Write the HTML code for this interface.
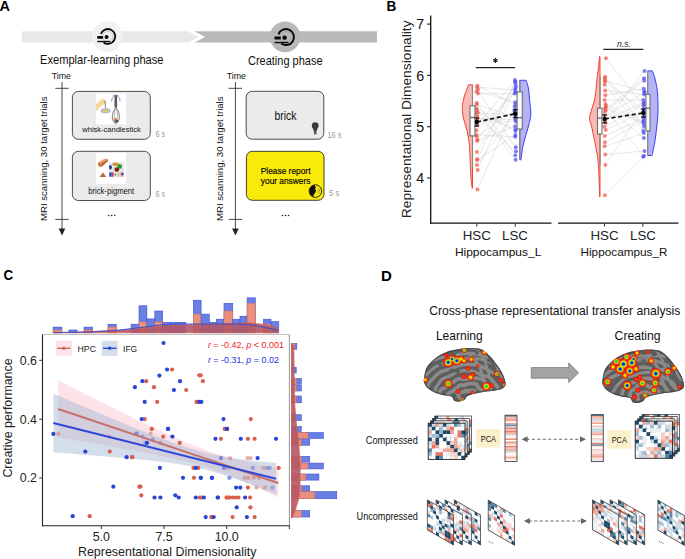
<!DOCTYPE html><html><head><meta charset="utf-8"><style>html,body{margin:0;padding:0;background:#fff;overflow:hidden}svg{display:block;font-family:"Liberation Sans",sans-serif}</style></head><body><svg width="685" height="559" viewBox="0 0 685 559"><rect width="685" height="559" fill="#fff"/><text transform="translate(-0.6,10.9) scale(0.95,1)" font-size="15.3" font-weight="bold" fill="#000">A</text>
<polygon points="22,31.3 187.8,31.3 198.6,36.9 187.8,42.5 22,42.5" fill="#e8e8e8"/>
<polygon points="194.4,31.3 377,31.3 377,42.5 194.4,42.5 205,36.9" fill="#bababa"/>
<circle cx="107.3" cy="36.6" r="15.3" fill="#f1f1f3"/>
<circle cx="285.1" cy="36.8" r="15.4" fill="#b8b8b8"/>
<g transform="translate(107.85,36.45) scale(1.0)">
<path d="M-6.95,-2.54 A7.4,7.4 0 1 1 -4.37,5.97" fill="none" stroke="#0a0a0a" stroke-width="1.85"/>
<circle cx="0" cy="0" r="5.0" fill="none" stroke="#8a8a8a" stroke-width="0.6" stroke-dasharray="1.2,0.7"/>
<rect x="-10.6" y="-0.5" width="5.8" height="2.8" rx="0.5" fill="#0a0a0a"/>
<circle cx="-1.25" cy="0.55" r="2.05" fill="#0a0a0a"/>
<rect x="-10.6" y="4.4" width="12.9" height="1.35" fill="#0a0a0a"/>
</g>
<g transform="translate(285.95,37.05) scale(1.08)">
<path d="M-6.95,-2.54 A7.4,7.4 0 1 1 -4.37,5.97" fill="none" stroke="#0a0a0a" stroke-width="1.85"/>
<circle cx="0" cy="0" r="5.0" fill="none" stroke="#8a8a8a" stroke-width="0.6" stroke-dasharray="1.2,0.7"/>
<rect x="-10.6" y="-0.5" width="5.8" height="2.8" rx="0.5" fill="#0a0a0a"/>
<circle cx="-1.25" cy="0.55" r="2.05" fill="#0a0a0a"/>
<rect x="-10.6" y="4.4" width="12.9" height="1.35" fill="#0a0a0a"/>
</g>
<text x="40" y="64.4" font-size="12.1" fill="#111" text-anchor="start" textLength="123.5" lengthAdjust="spacingAndGlyphs" >Exemplar-learning phase</text>
<text x="248" y="65.1" font-size="12.1" fill="#111" text-anchor="start" textLength="74.5" lengthAdjust="spacingAndGlyphs" >Creating phase</text>
<text x="51.7" y="78.8" font-size="8.3" fill="#111" text-anchor="start" textLength="19.3" lengthAdjust="spacingAndGlyphs" >Time</text>
<line x1="62" y1="82" x2="62" y2="229" stroke="#333" stroke-width="0.9"/>
<line x1="55.3" y1="88.3" x2="68.7" y2="88.3" stroke="#333" stroke-width="0.9"/>
<line x1="55.3" y1="219.4" x2="68.7" y2="219.4" stroke="#333" stroke-width="0.9"/>
<polygon points="58.7,228.6 65.3,228.6 62,235.6" fill="#222"/>
<text transform="translate(47.3,221.0) rotate(-90)" font-size="9.7" fill="#111" textLength="124.5" lengthAdjust="spacingAndGlyphs">MRI scanning, 30 target trials</text>
<circle cx="108.7" cy="215.6" r="0.75" fill="#111"/>
<circle cx="111.7" cy="215.6" r="0.75" fill="#111"/>
<circle cx="114.7" cy="215.6" r="0.75" fill="#111"/>
<text x="226.7" y="78.8" font-size="8.3" fill="#111" text-anchor="start" textLength="19.3" lengthAdjust="spacingAndGlyphs" >Time</text>
<line x1="235.4" y1="82" x2="235.4" y2="229" stroke="#333" stroke-width="0.9"/>
<line x1="228.70000000000002" y1="88.3" x2="242.1" y2="88.3" stroke="#333" stroke-width="0.9"/>
<line x1="228.70000000000002" y1="219.4" x2="242.1" y2="219.4" stroke="#333" stroke-width="0.9"/>
<polygon points="232.1,228.6 238.70000000000002,228.6 235.4,235.6" fill="#222"/>
<text transform="translate(223.1,221.0) rotate(-90)" font-size="9.7" fill="#111" textLength="124.5" lengthAdjust="spacingAndGlyphs">MRI scanning, 30 target trials</text>
<circle cx="282.5" cy="215.6" r="0.75" fill="#111"/>
<circle cx="285.5" cy="215.6" r="0.75" fill="#111"/>
<circle cx="288.5" cy="215.6" r="0.75" fill="#111"/>
<rect x="72.4" y="91.4" width="77.9" height="47.9" rx="6" fill="#ebebeb" stroke="#3a3a3a" stroke-width="0.9"/>
<rect x="72.4" y="151.3" width="77.9" height="49.2" rx="6" fill="#ebebeb" stroke="#3a3a3a" stroke-width="0.9"/>
<rect x="246.2" y="91.3" width="77.6" height="47.9" rx="6" fill="#ebebeb" stroke="#3a3a3a" stroke-width="0.9"/>
<rect x="246.4" y="151.3" width="77.6" height="49.0" rx="6" fill="#f9ea0a" stroke="#2a2a2a" stroke-width="0.9"/>
<rect x="96" y="93.4" width="30" height="31" fill="#fff"/>
<rect x="96" y="152.8" width="30" height="31.2" fill="#fff"/>
<path d="M95.8,104.6 L101.3,99.6 L103.8,98.6 L105.7,100.2 L105.6,103.4 L102.6,104.9 L95.8,111.6 Z" fill="#f1d99c"/>
<line x1="104.9" y1="100.8" x2="105.6" y2="108.6" stroke="#6a6a6a" stroke-width="0.8"/>
<ellipse cx="105.6" cy="110.8" rx="4.8" ry="2.2" fill="#b9c5d2" stroke="#7f90a8" stroke-width="0.4"/>
<ellipse cx="105.1" cy="110.7" rx="2.5" ry="1.15" fill="#efc64a"/>
<circle cx="116.1" cy="117.8" r="6.3" fill="none" stroke="#f3b48a" stroke-width="0.5" stroke-dasharray="0.6,1.1"/>
<rect x="114.5" y="94.8" width="2.6" height="12.8" fill="#5b5b5b"/>
<path d="M114.4,96 Q111.3,97 111.6,101.5 M117.2,96 Q120.4,97 120.1,101.6 M113,95.6 L118.6,95.6" fill="none" stroke="#9a79bf" stroke-width="0.85"/>
<path d="M115.8,107.6 C111.2,113 111,121.5 115.9,123.6 C120.8,121.5 120.6,113 115.8,107.6 Z" fill="#f4f4f4" stroke="#4f4f4f" stroke-width="0.65"/>
<path d="M115.8,107.6 C113.4,113 113.5,121 115.9,123.4 M115.8,107.6 C118.2,113 118.3,121 115.9,123.4" fill="none" stroke="#777" stroke-width="0.45"/>
<ellipse cx="116.3" cy="121" rx="1.8" ry="1.2" fill="#3a3a3a"/>
<ellipse cx="115.6" cy="119.4" rx="1.2" ry="1.3" fill="#e8652e"/>
<text x="111.5" y="132.2" font-size="8.0" fill="#111" text-anchor="middle" textLength="58.4" lengthAdjust="spacingAndGlyphs" >whisk-candlestick</text>
<polygon points="98,162.6 104.6,158.8 108.1,158.9 102,163.1" fill="#eb9c70"/>
<polygon points="98,162.6 102,163.1 101.6,166.9 98.3,166.3" fill="#d4703f"/>
<polygon points="102,163.1 108.1,158.9 107.7,161.2 101.6,166.9" fill="#c25a2e"/>
<polygon points="99.4,177.1 102.9,172.2 106.4,177.1" fill="#c9774b"/>
<polygon points="101.2,177.1 102.9,174.2 104.8,177.1" fill="#a85a34"/>
<rect x="109.2" y="162.3" width="14.7" height="14.4" fill="#e6e2e2"/>
<path d="M109.2,162.3 L113,162.3 Q114,166 111,169 L109.2,169 Z" fill="#dfe8f2"/>
<ellipse cx="115.6" cy="164.2" rx="3.3" ry="1.7" fill="#d9912b"/>
<circle cx="119.7" cy="166.5" r="2.3" fill="#1a9a26"/>
<circle cx="116.8" cy="169.5" r="2.3" fill="#7c1c12"/>
<ellipse cx="110.4" cy="167.3" rx="1.4" ry="2.3" fill="#1b3a92"/>
<rect x="109.2" y="172.4" width="2.6" height="4.3" fill="#3450b4"/>
<rect x="111.8" y="172.4" width="2.0" height="4.3" fill="#c24a44"/>
<rect x="113.8" y="172.4" width="3.2" height="4.3" fill="#e8e8f2"/>
<rect x="117" y="172.4" width="3.4" height="4.3" fill="#e7c9a2"/>
<rect x="120.4" y="172.4" width="3.5" height="4.3" fill="#d9b792"/>
<circle cx="122.3" cy="174" r="1.2" fill="#2444e0"/>
<circle cx="115.3" cy="174.6" r="0.9" fill="#4a5ab0"/>
<text x="111.2" y="194.4" font-size="8.4" fill="#111" text-anchor="middle" textLength="46" lengthAdjust="spacingAndGlyphs" >brick-pigment</text>
<text x="155.4" y="136.9" font-size="8.2" fill="#999" text-anchor="start" textLength="9.6" lengthAdjust="spacingAndGlyphs" >6 s</text>
<text x="155.4" y="196.5" font-size="8.2" fill="#999" text-anchor="start" textLength="9.6" lengthAdjust="spacingAndGlyphs" >6 s</text>
<text x="285.4" y="119.9" font-size="12.4" fill="#111" text-anchor="middle" textLength="22" lengthAdjust="spacingAndGlyphs" >brick</text>
<circle cx="315.2" cy="125.6" r="3.4" fill="#3a3a3a"/>
<path d="M312.6,127.3 L317.8,127.3 L316.6,131 L313.8,131 Z" fill="#3a3a3a"/>
<rect x="313.9" y="130.5" width="2.6" height="3.8" fill="#555"/>
<text x="327.4" y="137.9" font-size="8.2" fill="#999" text-anchor="start" textLength="14" lengthAdjust="spacingAndGlyphs" >16 s</text>
<text x="285.6" y="174.1" font-size="8.8" fill="#000" text-anchor="middle" textLength="49.8" lengthAdjust="spacingAndGlyphs" stroke="#000" stroke-width="0.15">Please report</text>
<text x="285.6" y="183.9" font-size="8.8" fill="#000" text-anchor="middle" textLength="49.5" lengthAdjust="spacingAndGlyphs" stroke="#000" stroke-width="0.15">your answers</text>
<circle cx="315.4" cy="191.1" r="6.3" fill="#f9ea0a" stroke="#111" stroke-width="0.9"/>
<path d="M314.5,185 A6.3,6.3 0 0 0 314.5,197.3 L312.8,197 Q313.5,195 314.6,193.5 L315.5,192.3 L316.2,190.7 L315,189.3 L315.8,187.2 Z" fill="#111"/>
<path d="M317.8,189.2 Q319,191 317.8,193 M318.8,188 Q320.6,191 318.8,194.2" fill="none" stroke="#665" stroke-width="0.4"/>
<text x="328.9" y="196.3" font-size="8.2" fill="#999" text-anchor="start" textLength="10.4" lengthAdjust="spacingAndGlyphs" >5 s</text>
<text transform="translate(386.6,10.9) scale(0.89,1)" font-size="15.3" font-weight="bold" fill="#000">B</text>
<line x1="430.7" y1="15.4" x2="430.7" y2="223.8" stroke="#111" stroke-width="1.3"/>
<line x1="430.1" y1="223.2" x2="551.5" y2="223.2" stroke="#111" stroke-width="1.3"/>
<line x1="558" y1="223.2" x2="678.4" y2="223.2" stroke="#111" stroke-width="1.3"/>
<line x1="427.2" y1="178.0" x2="430.7" y2="178.0" stroke="#222" stroke-width="1.2"/>
<text x="424.2" y="183.2" font-size="14.2" fill="#111" text-anchor="end" >4</text>
<line x1="427.2" y1="126.7" x2="430.7" y2="126.7" stroke="#222" stroke-width="1.2"/>
<text x="424.2" y="131.9" font-size="14.2" fill="#111" text-anchor="end" >5</text>
<line x1="427.2" y1="75.4" x2="430.7" y2="75.4" stroke="#222" stroke-width="1.2"/>
<text x="424.2" y="80.6" font-size="14.2" fill="#111" text-anchor="end" >6</text>
<line x1="427.2" y1="24.1" x2="430.7" y2="24.1" stroke="#222" stroke-width="1.2"/>
<text x="424.2" y="29.3" font-size="14.2" fill="#111" text-anchor="end" >7</text>
<line x1="476.8" y1="223.2" x2="476.8" y2="226.6" stroke="#333" stroke-width="1"/>
<line x1="515.3" y1="223.2" x2="515.3" y2="226.6" stroke="#333" stroke-width="1"/>
<line x1="604.5" y1="223.2" x2="604.5" y2="226.6" stroke="#333" stroke-width="1"/>
<line x1="642.8" y1="223.2" x2="642.8" y2="226.6" stroke="#333" stroke-width="1"/>
<text x="476.8" y="239.8" font-size="13.3" fill="#222" text-anchor="middle" >HSC</text>
<text x="515.0" y="239.8" font-size="13.3" fill="#222" text-anchor="middle" >LSC</text>
<text x="604.5" y="239.8" font-size="13.3" fill="#222" text-anchor="middle" >HSC</text>
<text x="643.0" y="239.8" font-size="13.3" fill="#222" text-anchor="middle" >LSC</text>
<text x="498.1" y="255.6" font-size="11.2" fill="#111" text-anchor="middle" textLength="86.4" lengthAdjust="spacingAndGlyphs" >Hippocampus_L</text>
<text x="624.0" y="255.6" font-size="11.2" fill="#111" text-anchor="middle" textLength="87.0" lengthAdjust="spacingAndGlyphs" >Hippocampus_R</text>
<text transform="translate(411.2,218.2) rotate(-90)" font-size="13.7" fill="#222" textLength="197.8" lengthAdjust="spacingAndGlyphs">Representational Dimensionality</text>
<line x1="475.7" y1="67.6" x2="515.1" y2="67.6" stroke="#222" stroke-width="1.2"/>
<g stroke="#111" stroke-width="1.1" stroke-linecap="round"><line x1="495.40" y1="58.40" x2="495.40" y2="62.40"/><line x1="493.67" y1="59.40" x2="497.13" y2="61.40"/><line x1="493.67" y1="61.40" x2="497.13" y2="59.40"/></g>
<line x1="603.3" y1="49.3" x2="643.3" y2="49.3" stroke="#222" stroke-width="1.2"/>
<text x="624" y="46.8" font-size="9.0" fill="#222" text-anchor="middle" font-style="italic" textLength="13.8" lengthAdjust="spacingAndGlyphs" >n.s.</text>
<path d="M472.5,84.8 L468.6,84.8 C468.12,86.03 466.48,90.02 465.7,92.2 C464.92,94.38 464.45,95.52 463.9,97.9 C463.35,100.28 462.63,104.15 462.4,106.5 C462.17,108.85 462.37,110.25 462.5,112 C462.63,113.75 462.78,115.05 463.2,117 C463.62,118.95 464.33,121.35 465,123.7 C465.67,126.05 466.58,128.52 467.2,131.1 C467.82,133.68 468.32,136.52 468.7,139.2 C469.08,141.88 469.23,143.18 469.5,147.2 C469.77,151.22 470.03,157.93 470.3,163.3 C470.57,168.67 470.78,175.25 471.1,179.4 C471.42,183.55 472.02,186.73 472.2,188.2 L472.5,188.2 Z" fill="#f9b9b4" stroke="#ee4232" stroke-width="1"/>
<path d="M519.8,80.3 L526,80.3 C526.40,81.57 527.82,84.75 528.4,87.9 C528.98,91.05 529.10,94.90 529.5,99.2 C529.90,103.50 530.85,109.67 530.8,113.7 C530.75,117.73 530.00,119.90 529.2,123.4 C528.40,126.90 527.03,130.93 526,134.7 C524.97,138.47 523.82,141.97 523,146 C522.18,150.03 521.52,156.62 521.1,158.9 C520.68,161.18 520.60,159.57 520.5,159.7 L519.8,159.7 Z" fill="#b3b3f5" stroke="#3c3cf0" stroke-width="1"/>
<path d="M600.0,56.6 L599.5,56.6 C599.35,58.33 598.98,63.57 598.6,67 C598.22,70.43 597.80,72.15 597.2,77.2 C596.60,82.25 596.03,91.57 595,97.3 C593.97,103.03 591.92,108.02 591,111.6 C590.08,115.18 589.42,116.40 589.5,118.8 C589.58,121.20 590.68,122.42 591.5,126 C592.32,129.58 593.45,135.53 594.4,140.3 C595.35,145.07 596.48,149.82 597.2,154.6 C597.92,159.38 598.30,161.97 598.7,169 C599.10,176.03 599.45,192.17 599.6,196.8 L600.0,196.8 Z" fill="#f9b9b4" stroke="#ee4232" stroke-width="1"/>
<path d="M647.6,70.9 L652.3,70.9 C652.68,71.95 653.75,73.75 654.6,77.2 C655.45,80.65 656.83,85.87 657.4,91.6 C657.97,97.33 658.10,105.87 658,111.6 C657.90,117.33 657.28,121.22 656.8,126 C656.32,130.78 655.85,135.53 655.1,140.3 C654.35,145.07 652.90,152.07 652.3,154.6 C651.70,157.13 651.63,155.35 651.5,155.5 L647.6,155.5 Z" fill="#b3b3f5" stroke="#3c3cf0" stroke-width="1"/>
<line x1="472.5" y1="84.8" x2="472.5" y2="168.9" stroke="#8a8a8a" stroke-width="1.2"/>
<line x1="519.8" y1="80.3" x2="519.8" y2="159.5" stroke="#8a8a8a" stroke-width="1.2"/>
<line x1="600.0" y1="75.9" x2="600.0" y2="164.9" stroke="#8a8a8a" stroke-width="1.2"/>
<line x1="647.6" y1="71" x2="647.6" y2="155.3" stroke="#8a8a8a" stroke-width="1.2"/>
<line x1="477.2" y1="85.8" x2="515.3" y2="104.4" stroke="#c4c4c4" stroke-width="0.4"/>
<line x1="477.2" y1="87.2" x2="515.3" y2="90" stroke="#c4c4c4" stroke-width="0.4"/>
<line x1="477.2" y1="89.3" x2="515.3" y2="147.2" stroke="#c4c4c4" stroke-width="0.4"/>
<line x1="477.2" y1="91.5" x2="515.3" y2="102.2" stroke="#c4c4c4" stroke-width="0.4"/>
<line x1="477.2" y1="93.6" x2="515.3" y2="93.6" stroke="#c4c4c4" stroke-width="0.4"/>
<line x1="477.2" y1="102.9" x2="515.3" y2="155.3" stroke="#c4c4c4" stroke-width="0.4"/>
<line x1="477.2" y1="104.4" x2="515.3" y2="117" stroke="#c4c4c4" stroke-width="0.4"/>
<line x1="477.2" y1="108.6" x2="515.3" y2="131.1" stroke="#c4c4c4" stroke-width="0.4"/>
<line x1="477.2" y1="110" x2="515.3" y2="159.8" stroke="#c4c4c4" stroke-width="0.4"/>
<line x1="477.2" y1="112.2" x2="515.3" y2="129.5" stroke="#c4c4c4" stroke-width="0.4"/>
<line x1="477.2" y1="113" x2="515.3" y2="115" stroke="#c4c4c4" stroke-width="0.4"/>
<line x1="477.2" y1="116" x2="515.3" y2="151.2" stroke="#c4c4c4" stroke-width="0.4"/>
<line x1="477.2" y1="118.5" x2="515.3" y2="119.8" stroke="#c4c4c4" stroke-width="0.4"/>
<line x1="477.2" y1="121" x2="515.3" y2="121.4" stroke="#c4c4c4" stroke-width="0.4"/>
<line x1="477.2" y1="125" x2="515.3" y2="80" stroke="#c4c4c4" stroke-width="0.4"/>
<line x1="477.2" y1="130.3" x2="515.3" y2="92.2" stroke="#c4c4c4" stroke-width="0.4"/>
<line x1="477.2" y1="135.1" x2="515.3" y2="136.7" stroke="#c4c4c4" stroke-width="0.4"/>
<line x1="477.2" y1="136.7" x2="515.3" y2="109.4" stroke="#c4c4c4" stroke-width="0.4"/>
<line x1="477.2" y1="140" x2="515.3" y2="85.8" stroke="#c4c4c4" stroke-width="0.4"/>
<line x1="477.2" y1="140.8" x2="515.3" y2="126.3" stroke="#c4c4c4" stroke-width="0.4"/>
<line x1="477.2" y1="152" x2="515.3" y2="83" stroke="#c4c4c4" stroke-width="0.4"/>
<line x1="477.2" y1="159.3" x2="515.3" y2="81.5" stroke="#c4c4c4" stroke-width="0.4"/>
<line x1="477.2" y1="160" x2="515.3" y2="135.1" stroke="#c4c4c4" stroke-width="0.4"/>
<line x1="477.2" y1="165" x2="515.3" y2="111.5" stroke="#c4c4c4" stroke-width="0.4"/>
<line x1="477.2" y1="170" x2="515.3" y2="88" stroke="#c4c4c4" stroke-width="0.4"/>
<line x1="477.2" y1="189.4" x2="515.3" y2="106.5" stroke="#c4c4c4" stroke-width="0.4"/>
<circle cx="477.3" cy="85.8" r="2.0" fill="#f0544a" fill-opacity="0.7"/>
<circle cx="477.0" cy="87.2" r="2.0" fill="#f0544a" fill-opacity="0.7"/>
<circle cx="478.0" cy="89.3" r="2.0" fill="#f0544a" fill-opacity="0.7"/>
<circle cx="476.5" cy="91.5" r="2.0" fill="#f0544a" fill-opacity="0.7"/>
<circle cx="477.8" cy="93.6" r="2.0" fill="#f0544a" fill-opacity="0.7"/>
<circle cx="476.9" cy="102.9" r="2.0" fill="#f0544a" fill-opacity="0.7"/>
<circle cx="476.6" cy="104.4" r="2.0" fill="#f0544a" fill-opacity="0.7"/>
<circle cx="476.6" cy="108.6" r="2.0" fill="#f0544a" fill-opacity="0.7"/>
<circle cx="476.9" cy="110" r="2.0" fill="#f0544a" fill-opacity="0.7"/>
<circle cx="477.7" cy="112.2" r="2.0" fill="#f0544a" fill-opacity="0.7"/>
<circle cx="476.7" cy="113" r="2.0" fill="#f0544a" fill-opacity="0.7"/>
<circle cx="477.3" cy="116" r="2.0" fill="#f0544a" fill-opacity="0.7"/>
<circle cx="477.4" cy="118.5" r="2.0" fill="#f0544a" fill-opacity="0.7"/>
<circle cx="477.0" cy="121" r="2.0" fill="#f0544a" fill-opacity="0.7"/>
<circle cx="477.3" cy="125" r="2.0" fill="#f0544a" fill-opacity="0.7"/>
<circle cx="476.5" cy="130.3" r="2.0" fill="#f0544a" fill-opacity="0.7"/>
<circle cx="476.5" cy="135.1" r="2.0" fill="#f0544a" fill-opacity="0.7"/>
<circle cx="476.7" cy="136.7" r="2.0" fill="#f0544a" fill-opacity="0.7"/>
<circle cx="477.5" cy="140" r="2.0" fill="#f0544a" fill-opacity="0.7"/>
<circle cx="477.1" cy="140.8" r="2.0" fill="#f0544a" fill-opacity="0.7"/>
<circle cx="476.9" cy="152" r="2.0" fill="#f0544a" fill-opacity="0.7"/>
<circle cx="477.3" cy="159.3" r="2.0" fill="#f0544a" fill-opacity="0.7"/>
<circle cx="477.1" cy="160" r="2.0" fill="#f0544a" fill-opacity="0.7"/>
<circle cx="476.9" cy="165" r="2.0" fill="#f0544a" fill-opacity="0.7"/>
<circle cx="477.7" cy="170" r="2.0" fill="#f0544a" fill-opacity="0.7"/>
<circle cx="477.5" cy="189.4" r="2.0" fill="#f0544a" fill-opacity="0.7"/>
<circle cx="514.9" cy="80" r="2.0" fill="#4a4af0" fill-opacity="0.7"/>
<circle cx="515.4" cy="81.5" r="2.0" fill="#4a4af0" fill-opacity="0.7"/>
<circle cx="515.3" cy="83" r="2.0" fill="#4a4af0" fill-opacity="0.7"/>
<circle cx="515.9" cy="85.8" r="2.0" fill="#4a4af0" fill-opacity="0.7"/>
<circle cx="515.7" cy="88" r="2.0" fill="#4a4af0" fill-opacity="0.7"/>
<circle cx="515.0" cy="90" r="2.0" fill="#4a4af0" fill-opacity="0.7"/>
<circle cx="516.1" cy="92.2" r="2.0" fill="#4a4af0" fill-opacity="0.7"/>
<circle cx="514.7" cy="93.6" r="2.0" fill="#4a4af0" fill-opacity="0.7"/>
<circle cx="515.2" cy="102.2" r="2.0" fill="#4a4af0" fill-opacity="0.7"/>
<circle cx="515.7" cy="104.4" r="2.0" fill="#4a4af0" fill-opacity="0.7"/>
<circle cx="514.7" cy="106.5" r="2.0" fill="#4a4af0" fill-opacity="0.7"/>
<circle cx="515.3" cy="109.4" r="2.0" fill="#4a4af0" fill-opacity="0.7"/>
<circle cx="514.6" cy="111.5" r="2.0" fill="#4a4af0" fill-opacity="0.7"/>
<circle cx="515.6" cy="115" r="2.0" fill="#4a4af0" fill-opacity="0.7"/>
<circle cx="515.7" cy="117" r="2.0" fill="#4a4af0" fill-opacity="0.7"/>
<circle cx="515.4" cy="119.8" r="2.0" fill="#4a4af0" fill-opacity="0.7"/>
<circle cx="515.9" cy="121.4" r="2.0" fill="#4a4af0" fill-opacity="0.7"/>
<circle cx="515.0" cy="126.3" r="2.0" fill="#4a4af0" fill-opacity="0.7"/>
<circle cx="515.6" cy="129.5" r="2.0" fill="#4a4af0" fill-opacity="0.7"/>
<circle cx="515.5" cy="131.1" r="2.0" fill="#4a4af0" fill-opacity="0.7"/>
<circle cx="515.4" cy="135.1" r="2.0" fill="#4a4af0" fill-opacity="0.7"/>
<circle cx="515.2" cy="136.7" r="2.0" fill="#4a4af0" fill-opacity="0.7"/>
<circle cx="515.8" cy="147.2" r="2.0" fill="#4a4af0" fill-opacity="0.7"/>
<circle cx="516.0" cy="151.2" r="2.0" fill="#4a4af0" fill-opacity="0.7"/>
<circle cx="515.3" cy="155.3" r="2.0" fill="#4a4af0" fill-opacity="0.7"/>
<circle cx="515.6" cy="159.8" r="2.0" fill="#4a4af0" fill-opacity="0.7"/>
<line x1="605.2" y1="58.2" x2="643.8" y2="105.7" stroke="#c4c4c4" stroke-width="0.4"/>
<line x1="605.2" y1="76.7" x2="643.8" y2="116.5" stroke="#c4c4c4" stroke-width="0.4"/>
<line x1="605.2" y1="78.3" x2="643.8" y2="126.8" stroke="#c4c4c4" stroke-width="0.4"/>
<line x1="605.2" y1="80.7" x2="643.8" y2="91.2" stroke="#c4c4c4" stroke-width="0.4"/>
<line x1="605.2" y1="81.5" x2="643.8" y2="110.5" stroke="#c4c4c4" stroke-width="0.4"/>
<line x1="605.2" y1="84.7" x2="643.8" y2="130.9" stroke="#c4c4c4" stroke-width="0.4"/>
<line x1="605.2" y1="90.4" x2="643.8" y2="94.4" stroke="#c4c4c4" stroke-width="0.4"/>
<line x1="605.2" y1="95.2" x2="643.8" y2="88.8" stroke="#c4c4c4" stroke-width="0.4"/>
<line x1="605.2" y1="104" x2="643.8" y2="122" stroke="#c4c4c4" stroke-width="0.4"/>
<line x1="605.2" y1="105.7" x2="643.8" y2="138.1" stroke="#c4c4c4" stroke-width="0.4"/>
<line x1="605.2" y1="107.3" x2="643.8" y2="124" stroke="#c4c4c4" stroke-width="0.4"/>
<line x1="605.2" y1="108.9" x2="643.8" y2="156" stroke="#c4c4c4" stroke-width="0.4"/>
<line x1="605.2" y1="112" x2="643.8" y2="80.7" stroke="#c4c4c4" stroke-width="0.4"/>
<line x1="605.2" y1="116" x2="643.8" y2="92.8" stroke="#c4c4c4" stroke-width="0.4"/>
<line x1="605.2" y1="120" x2="643.8" y2="102.5" stroke="#c4c4c4" stroke-width="0.4"/>
<line x1="605.2" y1="122.7" x2="643.8" y2="71" stroke="#c4c4c4" stroke-width="0.4"/>
<line x1="605.2" y1="126.8" x2="643.8" y2="104.1" stroke="#c4c4c4" stroke-width="0.4"/>
<line x1="605.2" y1="129.9" x2="643.8" y2="112" stroke="#c4c4c4" stroke-width="0.4"/>
<line x1="605.2" y1="136" x2="643.8" y2="118" stroke="#c4c4c4" stroke-width="0.4"/>
<line x1="605.2" y1="142.2" x2="643.8" y2="120.6" stroke="#c4c4c4" stroke-width="0.4"/>
<line x1="605.2" y1="146.3" x2="643.8" y2="133" stroke="#c4c4c4" stroke-width="0.4"/>
<line x1="605.2" y1="154.6" x2="643.8" y2="151" stroke="#c4c4c4" stroke-width="0.4"/>
<line x1="605.2" y1="164.9" x2="643.8" y2="108.9" stroke="#c4c4c4" stroke-width="0.4"/>
<line x1="605.2" y1="195.3" x2="643.8" y2="156.8" stroke="#c4c4c4" stroke-width="0.4"/>
<line x1="605.2" y1="100" x2="643.8" y2="100" stroke="#c4c4c4" stroke-width="0.4"/>
<line x1="605.2" y1="110" x2="643.8" y2="78.3" stroke="#c4c4c4" stroke-width="0.4"/>
<circle cx="605.9" cy="58.2" r="2.0" fill="#f0544a" fill-opacity="0.7"/>
<circle cx="605.2" cy="76.7" r="2.0" fill="#f0544a" fill-opacity="0.7"/>
<circle cx="604.7" cy="78.3" r="2.0" fill="#f0544a" fill-opacity="0.7"/>
<circle cx="605.0" cy="80.7" r="2.0" fill="#f0544a" fill-opacity="0.7"/>
<circle cx="604.8" cy="81.5" r="2.0" fill="#f0544a" fill-opacity="0.7"/>
<circle cx="604.6" cy="84.7" r="2.0" fill="#f0544a" fill-opacity="0.7"/>
<circle cx="605.1" cy="90.4" r="2.0" fill="#f0544a" fill-opacity="0.7"/>
<circle cx="605.3" cy="95.2" r="2.0" fill="#f0544a" fill-opacity="0.7"/>
<circle cx="605.5" cy="104" r="2.0" fill="#f0544a" fill-opacity="0.7"/>
<circle cx="606.0" cy="105.7" r="2.0" fill="#f0544a" fill-opacity="0.7"/>
<circle cx="605.5" cy="107.3" r="2.0" fill="#f0544a" fill-opacity="0.7"/>
<circle cx="605.0" cy="108.9" r="2.0" fill="#f0544a" fill-opacity="0.7"/>
<circle cx="604.8" cy="112" r="2.0" fill="#f0544a" fill-opacity="0.7"/>
<circle cx="604.5" cy="116" r="2.0" fill="#f0544a" fill-opacity="0.7"/>
<circle cx="604.6" cy="120" r="2.0" fill="#f0544a" fill-opacity="0.7"/>
<circle cx="605.5" cy="122.7" r="2.0" fill="#f0544a" fill-opacity="0.7"/>
<circle cx="604.4" cy="126.8" r="2.0" fill="#f0544a" fill-opacity="0.7"/>
<circle cx="605.7" cy="129.9" r="2.0" fill="#f0544a" fill-opacity="0.7"/>
<circle cx="604.7" cy="136" r="2.0" fill="#f0544a" fill-opacity="0.7"/>
<circle cx="604.9" cy="142.2" r="2.0" fill="#f0544a" fill-opacity="0.7"/>
<circle cx="604.6" cy="146.3" r="2.0" fill="#f0544a" fill-opacity="0.7"/>
<circle cx="605.3" cy="154.6" r="2.0" fill="#f0544a" fill-opacity="0.7"/>
<circle cx="605.4" cy="164.9" r="2.0" fill="#f0544a" fill-opacity="0.7"/>
<circle cx="604.9" cy="195.3" r="2.0" fill="#f0544a" fill-opacity="0.7"/>
<circle cx="604.6" cy="100" r="2.0" fill="#f0544a" fill-opacity="0.7"/>
<circle cx="605.8" cy="110" r="2.0" fill="#f0544a" fill-opacity="0.7"/>
<circle cx="644.5" cy="71" r="2.0" fill="#4a4af0" fill-opacity="0.7"/>
<circle cx="644.0" cy="78.3" r="2.0" fill="#4a4af0" fill-opacity="0.7"/>
<circle cx="644.2" cy="80.7" r="2.0" fill="#4a4af0" fill-opacity="0.7"/>
<circle cx="643.7" cy="88.8" r="2.0" fill="#4a4af0" fill-opacity="0.7"/>
<circle cx="644.4" cy="91.2" r="2.0" fill="#4a4af0" fill-opacity="0.7"/>
<circle cx="644.5" cy="92.8" r="2.0" fill="#4a4af0" fill-opacity="0.7"/>
<circle cx="644.1" cy="94.4" r="2.0" fill="#4a4af0" fill-opacity="0.7"/>
<circle cx="643.9" cy="102.5" r="2.0" fill="#4a4af0" fill-opacity="0.7"/>
<circle cx="643.6" cy="105.7" r="2.0" fill="#4a4af0" fill-opacity="0.7"/>
<circle cx="643.6" cy="108.9" r="2.0" fill="#4a4af0" fill-opacity="0.7"/>
<circle cx="643.8" cy="110.5" r="2.0" fill="#4a4af0" fill-opacity="0.7"/>
<circle cx="643.6" cy="104.1" r="2.0" fill="#4a4af0" fill-opacity="0.7"/>
<circle cx="643.3" cy="112" r="2.0" fill="#4a4af0" fill-opacity="0.7"/>
<circle cx="644.6" cy="116.5" r="2.0" fill="#4a4af0" fill-opacity="0.7"/>
<circle cx="643.7" cy="120.6" r="2.0" fill="#4a4af0" fill-opacity="0.7"/>
<circle cx="643.2" cy="122" r="2.0" fill="#4a4af0" fill-opacity="0.7"/>
<circle cx="644.0" cy="126.8" r="2.0" fill="#4a4af0" fill-opacity="0.7"/>
<circle cx="643.2" cy="130.9" r="2.0" fill="#4a4af0" fill-opacity="0.7"/>
<circle cx="643.9" cy="133" r="2.0" fill="#4a4af0" fill-opacity="0.7"/>
<circle cx="643.9" cy="138.1" r="2.0" fill="#4a4af0" fill-opacity="0.7"/>
<circle cx="644.5" cy="151" r="2.0" fill="#4a4af0" fill-opacity="0.7"/>
<circle cx="644.0" cy="156" r="2.0" fill="#4a4af0" fill-opacity="0.7"/>
<circle cx="643.1" cy="156.8" r="2.0" fill="#4a4af0" fill-opacity="0.7"/>
<circle cx="643.3" cy="100" r="2.0" fill="#4a4af0" fill-opacity="0.7"/>
<circle cx="643.6" cy="118" r="2.0" fill="#4a4af0" fill-opacity="0.7"/>
<circle cx="644.0" cy="124" r="2.0" fill="#4a4af0" fill-opacity="0.7"/>
<rect x="470" y="105.8" width="5.0" height="30.1" fill="#fff" stroke="#6e6e6e" stroke-width="1.1"/>
<line x1="470" y1="117.5" x2="475" y2="117.5" stroke="#6e6e6e" stroke-width="1.4"/>
<rect x="517.1" y="91.9" width="5.2" height="37.1" fill="#fff" stroke="#6e6e6e" stroke-width="1.1"/>
<line x1="517.1" y1="117.7" x2="522.3" y2="117.7" stroke="#6e6e6e" stroke-width="1.4"/>
<rect x="597.5" y="108.2" width="4.5" height="25.8" fill="#fff" stroke="#6e6e6e" stroke-width="1.1"/>
<line x1="597.5" y1="118.1" x2="602" y2="118.1" stroke="#6e6e6e" stroke-width="1.4"/>
<rect x="645.9" y="94.4" width="4.1" height="36.5" fill="#fff" stroke="#6e6e6e" stroke-width="1.1"/>
<line x1="645.9" y1="108.2" x2="650" y2="108.2" stroke="#6e6e6e" stroke-width="1.4"/>
<line x1="476.8" y1="122" x2="515.2" y2="113.7" stroke="#111" stroke-width="1.7" stroke-dasharray="4.2,2.6"/>
<line x1="474.40000000000003" y1="118" x2="479.2" y2="118" stroke="#111" stroke-width="1.2"/>
<line x1="474.40000000000003" y1="126" x2="479.2" y2="126" stroke="#111" stroke-width="1.2"/>
<line x1="476.8" y1="118" x2="476.8" y2="126" stroke="#111" stroke-width="1"/>
<circle cx="476.8" cy="122" r="2.2" fill="#000"/>
<line x1="512.8000000000001" y1="109.7" x2="517.6" y2="109.7" stroke="#111" stroke-width="1.2"/>
<line x1="512.8000000000001" y1="117.7" x2="517.6" y2="117.7" stroke="#111" stroke-width="1.2"/>
<line x1="515.2" y1="109.7" x2="515.2" y2="117.7" stroke="#111" stroke-width="1"/>
<circle cx="515.2" cy="113.7" r="2.2" fill="#000"/>
<line x1="604.7" y1="118.9" x2="643.4" y2="113" stroke="#111" stroke-width="1.7" stroke-dasharray="4.2,2.6"/>
<line x1="602.3000000000001" y1="114.9" x2="607.1" y2="114.9" stroke="#111" stroke-width="1.2"/>
<line x1="602.3000000000001" y1="122.9" x2="607.1" y2="122.9" stroke="#111" stroke-width="1.2"/>
<line x1="604.7" y1="114.9" x2="604.7" y2="122.9" stroke="#111" stroke-width="1"/>
<circle cx="604.7" cy="118.9" r="2.2" fill="#000"/>
<line x1="641.0" y1="109" x2="645.8" y2="109" stroke="#111" stroke-width="1.2"/>
<line x1="641.0" y1="117" x2="645.8" y2="117" stroke="#111" stroke-width="1.2"/>
<line x1="643.4" y1="109" x2="643.4" y2="117" stroke="#111" stroke-width="1"/>
<circle cx="643.4" cy="113" r="2.2" fill="#000"/>
<text transform="translate(3.6,280.4) scale(0.875,1)" font-size="15.3" font-weight="bold" fill="#000">C</text>
<path d="M58.2,380.5 L63.7,383.3 L69.2,386.1 L74.7,388.8 L80.2,391.6 L85.8,394.4 L91.3,397.1 L96.8,399.9 L102.3,402.6 L107.8,405.4 L113.3,408.1 L118.8,410.8 L124.3,413.5 L129.8,416.2 L135.3,418.9 L140.9,421.6 L146.4,424.2 L151.9,426.9 L157.4,429.5 L162.9,432.0 L168.4,434.6 L173.9,437.1 L179.4,439.5 L184.9,441.9 L190.4,444.1 L196.0,446.4 L201.5,448.5 L207.0,450.5 L212.5,452.4 L218.0,454.2 L223.5,455.8 L229.0,457.4 L234.5,458.9 L240.0,460.3 L245.5,461.6 L251.1,462.9 L256.6,464.1 L262.1,465.3 L267.6,466.4 L273.1,467.5 L278.6,468.6 L278.6,497.6 L273.1,495.0 L267.6,492.4 L262.1,489.8 L256.6,487.3 L251.1,484.8 L245.5,482.4 L240.0,480.0 L234.5,477.7 L229.0,475.4 L223.5,473.3 L218.0,471.3 L212.5,469.4 L207.0,467.6 L201.5,465.9 L196.0,464.3 L190.4,462.8 L184.9,461.4 L179.4,460.0 L173.9,458.8 L168.4,457.5 L162.9,456.4 L157.4,455.2 L151.9,454.1 L146.4,453.0 L140.9,452.0 L135.3,450.9 L129.8,449.9 L124.3,448.9 L118.8,447.9 L113.3,446.9 L107.8,446.0 L102.3,445.0 L96.8,444.1 L91.3,443.1 L85.8,442.2 L80.2,441.2 L74.7,440.3 L69.2,439.4 L63.7,438.4 L58.2,437.5 Z" fill="#fbb9c6" fill-opacity="0.42"/>
<path d="M53.5,393.7 L59.1,396.1 L64.6,398.5 L70.2,400.8 L75.8,403.2 L81.3,405.6 L86.9,407.9 L92.5,410.3 L98.0,412.6 L103.6,415.0 L109.2,417.3 L114.7,419.6 L120.3,421.9 L125.9,424.2 L131.4,426.5 L137.0,428.8 L142.6,431.0 L148.1,433.2 L153.7,435.4 L159.3,437.5 L164.8,439.6 L170.4,441.7 L176.0,443.7 L181.6,445.6 L187.1,447.4 L192.7,449.1 L198.3,450.7 L203.8,452.2 L209.4,453.6 L215.0,454.8 L220.5,455.9 L226.1,456.9 L231.7,457.9 L237.2,458.7 L242.8,459.5 L248.4,460.2 L253.9,460.8 L259.5,461.5 L265.1,462.0 L270.6,462.6 L276.2,463.1 L276.2,494.6 L270.6,492.3 L265.1,490.1 L259.5,487.9 L253.9,485.7 L248.4,483.6 L242.8,481.5 L237.2,479.5 L231.7,477.5 L226.1,475.7 L220.5,473.9 L215.0,472.2 L209.4,470.6 L203.8,469.2 L198.3,467.9 L192.7,466.7 L187.1,465.7 L181.6,464.7 L176.0,463.8 L170.4,463.0 L164.8,462.3 L159.3,461.6 L153.7,460.9 L148.1,460.3 L142.6,459.7 L137.0,459.2 L131.4,458.7 L125.9,458.1 L120.3,457.7 L114.7,457.2 L109.2,456.7 L103.6,456.2 L98.0,455.8 L92.5,455.4 L86.9,454.9 L81.3,454.5 L75.8,454.1 L70.2,453.6 L64.6,453.2 L59.1,452.8 L53.5,452.4 Z" fill="#9fb5d3" fill-opacity="0.45"/>
<circle cx="58.2" cy="433.9" r="2.1" fill="#d4776c" fill-opacity="0.55"/>
<circle cx="109.4" cy="436.6" r="2.1" fill="#d4776c" fill-opacity="0.55"/>
<circle cx="150.6" cy="433.6" r="2.1" fill="#d4776c" fill-opacity="0.55"/>
<circle cx="160.4" cy="442.9" r="2.1" fill="#d4776c" fill-opacity="0.55"/>
<circle cx="151.9" cy="428.9" r="2.1" fill="#d4776c" fill-opacity="0.55"/>
<circle cx="230.1" cy="458.1" r="2.1" fill="#d4776c" fill-opacity="0.55"/>
<circle cx="247.4" cy="458.1" r="2.1" fill="#d4776c" fill-opacity="0.55"/>
<circle cx="250.6" cy="458.1" r="2.1" fill="#d4776c" fill-opacity="0.55"/>
<circle cx="228.3" cy="467.9" r="2.1" fill="#d4776c" fill-opacity="0.55"/>
<circle cx="263.5" cy="467.9" r="2.1" fill="#d4776c" fill-opacity="0.55"/>
<circle cx="244.7" cy="477.8" r="2.1" fill="#d4776c" fill-opacity="0.55"/>
<circle cx="248.3" cy="477.8" r="2.1" fill="#d4776c" fill-opacity="0.55"/>
<circle cx="253.7" cy="477.8" r="2.1" fill="#d4776c" fill-opacity="0.55"/>
<circle cx="259" cy="477.8" r="2.1" fill="#d4776c" fill-opacity="0.55"/>
<circle cx="256.4" cy="487.6" r="2.1" fill="#d4776c" fill-opacity="0.55"/>
<circle cx="264.8" cy="487.6" r="2.1" fill="#d4776c" fill-opacity="0.55"/>
<circle cx="136.6" cy="433.6" r="2.1" fill="#5a6fd8" fill-opacity="0.5"/>
<circle cx="136.3" cy="433.6" r="2.1" fill="#5a6fd8" fill-opacity="0.5"/>
<circle cx="142.5" cy="436.6" r="2.1" fill="#5a6fd8" fill-opacity="0.5"/>
<circle cx="152.7" cy="439.3" r="2.1" fill="#5a6fd8" fill-opacity="0.5"/>
<circle cx="145.2" cy="442.9" r="2.1" fill="#5a6fd8" fill-opacity="0.5"/>
<circle cx="220.9" cy="458.1" r="2.1" fill="#5a6fd8" fill-opacity="0.5"/>
<circle cx="223.9" cy="467.9" r="2.1" fill="#5a6fd8" fill-opacity="0.5"/>
<circle cx="229.3" cy="477.8" r="2.1" fill="#5a6fd8" fill-opacity="0.5"/>
<circle cx="221.1" cy="458.1" r="2.1" fill="#5a6fd8" fill-opacity="0.5"/>
<circle cx="224.2" cy="467.9" r="2.1" fill="#5a6fd8" fill-opacity="0.5"/>
<circle cx="252.8" cy="467.9" r="2.1" fill="#5a6fd8" fill-opacity="0.5"/>
<circle cx="267.1" cy="467.9" r="2.1" fill="#5a6fd8" fill-opacity="0.5"/>
<circle cx="269.8" cy="467.9" r="2.1" fill="#5a6fd8" fill-opacity="0.5"/>
<circle cx="229.5" cy="477.8" r="2.1" fill="#5a6fd8" fill-opacity="0.5"/>
<circle cx="272.5" cy="487.6" r="2.1" fill="#5a6fd8" fill-opacity="0.5"/>
<circle cx="172.1" cy="369.5" r="2.1" fill="#d9604d"/>
<circle cx="146.2" cy="381.2" r="2.1" fill="#d9604d"/>
<circle cx="154" cy="387.2" r="2.1" fill="#d9604d"/>
<circle cx="186.2" cy="390.1" r="2.1" fill="#d9604d"/>
<circle cx="157.2" cy="401.9" r="2.1" fill="#d9604d"/>
<circle cx="196.6" cy="401.9" r="2.1" fill="#d9604d"/>
<circle cx="144.7" cy="419.1" r="2.1" fill="#d9604d"/>
<circle cx="199.3" cy="375.3" r="2.1" fill="#d9604d"/>
<circle cx="200.7" cy="375.3" r="2.1" fill="#d9604d"/>
<circle cx="202.9" cy="381.2" r="2.1" fill="#d9604d"/>
<circle cx="196.8" cy="401.9" r="2.1" fill="#d9604d"/>
<circle cx="250.8" cy="419.1" r="2.1" fill="#d9604d"/>
<circle cx="224.9" cy="428.9" r="2.1" fill="#d9604d"/>
<circle cx="109.8" cy="451.5" r="2.1" fill="#d9604d"/>
<circle cx="132.3" cy="457.2" r="2.1" fill="#d9604d"/>
<circle cx="139.3" cy="486.7" r="2.1" fill="#d9604d"/>
<circle cx="89.7" cy="516.2" r="2.1" fill="#d9604d"/>
<circle cx="151.8" cy="428.9" r="2.1" fill="#d9604d"/>
<circle cx="163.1" cy="436.6" r="2.1" fill="#d9604d"/>
<circle cx="179.7" cy="442.9" r="2.1" fill="#d9604d"/>
<circle cx="220.9" cy="438.8" r="2.1" fill="#d9604d"/>
<circle cx="224.8" cy="428.9" r="2.1" fill="#d9604d"/>
<circle cx="132.1" cy="457.2" r="2.1" fill="#d9604d"/>
<circle cx="193.5" cy="467.9" r="2.1" fill="#d9604d"/>
<circle cx="198.3" cy="467.9" r="2.1" fill="#d9604d"/>
<circle cx="194" cy="477.8" r="2.1" fill="#d9604d"/>
<circle cx="140.4" cy="486.7" r="2.1" fill="#d9604d"/>
<circle cx="141.3" cy="495.3" r="2.1" fill="#d9604d"/>
<circle cx="199.8" cy="497.5" r="2.1" fill="#d9604d"/>
<circle cx="201.6" cy="497.5" r="2.1" fill="#d9604d"/>
<circle cx="226.6" cy="497.5" r="2.1" fill="#d9604d"/>
<circle cx="229.3" cy="497.5" r="2.1" fill="#d9604d"/>
<circle cx="211.4" cy="517.1" r="2.1" fill="#d9604d"/>
<circle cx="247.9" cy="438.8" r="2.1" fill="#d9604d"/>
<circle cx="254.6" cy="438.8" r="2.1" fill="#d9604d"/>
<circle cx="278.7" cy="467.9" r="2.1" fill="#d9604d"/>
<circle cx="247.9" cy="487.6" r="2.1" fill="#d9604d"/>
<circle cx="226.8" cy="497.5" r="2.1" fill="#d9604d"/>
<circle cx="229.5" cy="497.5" r="2.1" fill="#d9604d"/>
<circle cx="232.6" cy="497.5" r="2.1" fill="#d9604d"/>
<circle cx="235.8" cy="497.5" r="2.1" fill="#d9604d"/>
<circle cx="238.5" cy="497.5" r="2.1" fill="#d9604d"/>
<circle cx="250.1" cy="497.5" r="2.1" fill="#d9604d"/>
<circle cx="250.4" cy="507.3" r="2.1" fill="#d9604d"/>
<circle cx="211.6" cy="517.1" r="2.1" fill="#d9604d"/>
<circle cx="232.6" cy="517.1" r="2.1" fill="#d9604d"/>
<circle cx="254.6" cy="517.1" r="2.1" fill="#d9604d"/>
<circle cx="163.5" cy="343" r="2.1" fill="#2a45d6"/>
<circle cx="167.1" cy="369.5" r="2.1" fill="#2a45d6"/>
<circle cx="159.4" cy="375.6" r="2.1" fill="#2a45d6"/>
<circle cx="142.4" cy="381.2" r="2.1" fill="#2a45d6"/>
<circle cx="180" cy="381.2" r="2.1" fill="#2a45d6"/>
<circle cx="134.9" cy="387.2" r="2.1" fill="#2a45d6"/>
<circle cx="173.9" cy="390.1" r="2.1" fill="#2a45d6"/>
<circle cx="144.7" cy="401.9" r="2.1" fill="#2a45d6"/>
<circle cx="141.7" cy="419.1" r="2.1" fill="#2a45d6"/>
<circle cx="168" cy="428.9" r="2.1" fill="#2a45d6"/>
<circle cx="199.3" cy="401.9" r="2.1" fill="#2a45d6"/>
<circle cx="201.3" cy="401.9" r="2.1" fill="#2a45d6"/>
<circle cx="223.5" cy="419.1" r="2.1" fill="#2a45d6"/>
<circle cx="227" cy="428.9" r="2.1" fill="#2a45d6"/>
<circle cx="53.4" cy="433.9" r="2.1" fill="#2a45d6"/>
<circle cx="85.3" cy="451.5" r="2.1" fill="#2a45d6"/>
<circle cx="126.6" cy="457.2" r="2.1" fill="#2a45d6"/>
<circle cx="113.3" cy="486.7" r="2.1" fill="#2a45d6"/>
<circle cx="72.7" cy="516.2" r="2.1" fill="#2a45d6"/>
<circle cx="168.1" cy="428.9" r="2.1" fill="#2a45d6"/>
<circle cx="172.4" cy="436.6" r="2.1" fill="#2a45d6"/>
<circle cx="147" cy="442.9" r="2.1" fill="#2a45d6"/>
<circle cx="215.5" cy="438.8" r="2.1" fill="#2a45d6"/>
<circle cx="227.1" cy="428.9" r="2.1" fill="#2a45d6"/>
<circle cx="159.9" cy="467.9" r="2.1" fill="#2a45d6"/>
<circle cx="195.8" cy="467.9" r="2.1" fill="#2a45d6"/>
<circle cx="183" cy="477.8" r="2.1" fill="#2a45d6"/>
<circle cx="200.7" cy="477.8" r="2.1" fill="#2a45d6"/>
<circle cx="211.9" cy="477.8" r="2.1" fill="#2a45d6"/>
<circle cx="154.5" cy="497.5" r="2.1" fill="#2a45d6"/>
<circle cx="160.4" cy="497.5" r="2.1" fill="#2a45d6"/>
<circle cx="175.3" cy="495.3" r="2.1" fill="#2a45d6"/>
<circle cx="178.7" cy="497.5" r="2.1" fill="#2a45d6"/>
<circle cx="195.8" cy="497.5" r="2.1" fill="#2a45d6"/>
<circle cx="203.9" cy="497.5" r="2.1" fill="#2a45d6"/>
<circle cx="217.7" cy="497.5" r="2.1" fill="#2a45d6"/>
<circle cx="205.7" cy="517.1" r="2.1" fill="#2a45d6"/>
<circle cx="213.7" cy="517.1" r="2.1" fill="#2a45d6"/>
<circle cx="240.8" cy="438.8" r="2.1" fill="#2a45d6"/>
<circle cx="276" cy="438.8" r="2.1" fill="#2a45d6"/>
<circle cx="257.6" cy="458.1" r="2.1" fill="#2a45d6"/>
<circle cx="200.9" cy="477.8" r="2.1" fill="#2a45d6"/>
<circle cx="212" cy="477.8" r="2.1" fill="#2a45d6"/>
<circle cx="236.1" cy="487.6" r="2.1" fill="#2a45d6"/>
<circle cx="240.3" cy="487.6" r="2.1" fill="#2a45d6"/>
<circle cx="217.9" cy="497.5" r="2.1" fill="#2a45d6"/>
<circle cx="245.1" cy="497.5" r="2.1" fill="#2a45d6"/>
<circle cx="236.7" cy="507.3" r="2.1" fill="#2a45d6"/>
<circle cx="246.9" cy="517.1" r="2.1" fill="#2a45d6"/>
<line x1="58.2" y1="409" x2="278.3" y2="483" stroke="#c7706c" stroke-width="2"/>
<line x1="53.3" y1="423" x2="276" y2="478.8" stroke="#2d48d8" stroke-width="2"/>
<line x1="42.5" y1="334.5" x2="289.4" y2="334.5" stroke="#bbb" stroke-width="0.9"/>
<line x1="289.4" y1="334.5" x2="289.4" y2="526" stroke="#888" stroke-width="0.9"/>
<line x1="42.5" y1="334.5" x2="42.5" y2="526.2" stroke="#222" stroke-width="1.1"/>
<line x1="42" y1="525.7" x2="289.4" y2="525.7" stroke="#222" stroke-width="1.1"/>
<line x1="39.2" y1="360.3" x2="42.5" y2="360.3" stroke="#333" stroke-width="1"/>
<text x="37.0" y="364.7" font-size="12.4" fill="#222" text-anchor="end" >0.6</text>
<line x1="39.2" y1="419.2" x2="42.5" y2="419.2" stroke="#333" stroke-width="1"/>
<text x="37.0" y="423.6" font-size="12.4" fill="#222" text-anchor="end" >0.4</text>
<line x1="39.2" y1="478.0" x2="42.5" y2="478.0" stroke="#333" stroke-width="1"/>
<text x="37.0" y="482.4" font-size="12.4" fill="#222" text-anchor="end" >0.2</text>
<line x1="101.3" y1="525.7" x2="101.3" y2="529" stroke="#333" stroke-width="1"/>
<text x="101.3" y="541.3" font-size="12.4" fill="#222" text-anchor="middle" >5.0</text>
<line x1="164.1" y1="525.7" x2="164.1" y2="529" stroke="#333" stroke-width="1"/>
<text x="164.1" y="541.3" font-size="12.4" fill="#222" text-anchor="middle" >7.5</text>
<line x1="226.7" y1="525.7" x2="226.7" y2="529" stroke="#333" stroke-width="1"/>
<text x="226.7" y="541.3" font-size="12.4" fill="#222" text-anchor="middle" >10.0</text>
<line x1="289.4" y1="525.7" x2="289.4" y2="529" stroke="#333" stroke-width="1"/>
<text x="167.2" y="556.0" font-size="12.4" fill="#222" text-anchor="middle" textLength="178.5" lengthAdjust="spacingAndGlyphs" >Representational Dimensionality</text>
<text transform="translate(12.2,477.6) rotate(-90)" font-size="12.4" fill="#222" textLength="119.2" lengthAdjust="spacingAndGlyphs">Creative performance</text>
<rect x="55.8" y="340.8" width="16" height="15" fill="#fde2e8"/>
<line x1="57" y1="348.3" x2="70.6" y2="348.3" stroke="#d0675c" stroke-width="1.4"/>
<circle cx="63.8" cy="348.3" r="1.7" fill="#d0675c"/>
<text x="77.6" y="352.0" font-size="8.9" fill="#222" text-anchor="start" textLength="18.3" lengthAdjust="spacingAndGlyphs" >HPC</text>
<rect x="101.7" y="340.8" width="16" height="15" fill="#d3deea"/>
<line x1="103" y1="348.3" x2="116.5" y2="348.3" stroke="#2d48d8" stroke-width="1.4"/>
<circle cx="109.7" cy="348.3" r="1.7" fill="#2d48d8"/>
<text x="123.1" y="352.0" font-size="8.9" fill="#222" text-anchor="start" textLength="14.0" lengthAdjust="spacingAndGlyphs" >IFG</text>
<text x="207.9" y="347.9" font-size="9.4" fill="#ee1c25" textLength="76" lengthAdjust="spacingAndGlyphs"><tspan font-style="italic">r</tspan> = -0.42, <tspan font-style="italic">p</tspan> &lt; 0.001</text>
<text x="207.9" y="363.3" font-size="9.4" fill="#1f2ee0" textLength="71" lengthAdjust="spacingAndGlyphs"><tspan font-style="italic">r</tspan> = -0.31, <tspan font-style="italic">p</tspan> = 0.02</text>
<rect x="53.1" y="327.1" width="8.8" height="5.7" fill="#6a7fe3" stroke="#3a50d8" stroke-width="0.6"/>
<rect x="53.1" y="330" width="8.8" height="2.8" fill="#e88f7d" stroke="#e06a5a" stroke-width="0.5"/>
<rect x="68.9" y="330" width="8.2" height="2.8" fill="#6a7fe3" stroke="#3a50d8" stroke-width="0.6"/>
<rect x="84.1" y="327.1" width="8.5" height="5.7" fill="#6a7fe3" stroke="#3a50d8" stroke-width="0.6"/>
<rect x="84.1" y="330" width="8.5" height="2.8" fill="#e88f7d" stroke="#e06a5a" stroke-width="0.5"/>
<rect x="108" y="324.2" width="8.2" height="8.6" fill="#6a7fe3" stroke="#3a50d8" stroke-width="0.6"/>
<rect x="108" y="327.1" width="8.2" height="5.7" fill="#e88f7d" stroke="#e06a5a" stroke-width="0.5"/>
<rect x="131.1" y="324.2" width="7.9" height="8.6" fill="#6a7fe3" stroke="#3a50d8" stroke-width="0.6"/>
<rect x="139" y="305.8" width="7.9" height="27.0" fill="#6a7fe3" stroke="#3a50d8" stroke-width="0.6"/>
<rect x="139" y="321.9" width="7.9" height="10.9" fill="#e88f7d" stroke="#e06a5a" stroke-width="0.5"/>
<rect x="146.9" y="318.9" width="7.9" height="13.9" fill="#6a7fe3" stroke="#3a50d8" stroke-width="0.6"/>
<rect x="154.8" y="311" width="7.9" height="21.8" fill="#6a7fe3" stroke="#3a50d8" stroke-width="0.6"/>
<rect x="154.8" y="321.9" width="7.9" height="10.9" fill="#e88f7d" stroke="#e06a5a" stroke-width="0.5"/>
<rect x="162.7" y="322.3" width="7.7" height="10.5" fill="#6a7fe3" stroke="#3a50d8" stroke-width="0.6"/>
<rect x="170.4" y="322.3" width="7.8" height="10.5" fill="#6a7fe3" stroke="#3a50d8" stroke-width="0.6"/>
<rect x="178.2" y="322.3" width="7.6" height="10.5" fill="#6a7fe3" stroke="#3a50d8" stroke-width="0.6"/>
<rect x="193.3" y="300.2" width="7.8" height="32.6" fill="#6a7fe3" stroke="#3a50d8" stroke-width="0.6"/>
<rect x="193.3" y="314.1" width="7.8" height="18.7" fill="#e88f7d" stroke="#e06a5a" stroke-width="0.5"/>
<rect x="201.1" y="314.1" width="8.2" height="18.7" fill="#6a7fe3" stroke="#3a50d8" stroke-width="0.6"/>
<rect x="209.3" y="322.3" width="7.1" height="10.5" fill="#6a7fe3" stroke="#3a50d8" stroke-width="0.6"/>
<rect x="216.4" y="319.2" width="7.6" height="13.6" fill="#6a7fe3" stroke="#3a50d8" stroke-width="0.6"/>
<rect x="224" y="303.3" width="8.8" height="29.5" fill="#6a7fe3" stroke="#3a50d8" stroke-width="0.6"/>
<rect x="224" y="311" width="8.8" height="21.8" fill="#e88f7d" stroke="#e06a5a" stroke-width="0.5"/>
<rect x="232.8" y="319.2" width="7.2" height="13.6" fill="#6a7fe3" stroke="#3a50d8" stroke-width="0.6"/>
<rect x="240" y="316.2" width="7.1" height="16.6" fill="#6a7fe3" stroke="#3a50d8" stroke-width="0.6"/>
<rect x="247.1" y="297.8" width="8.2" height="35.0" fill="#6a7fe3" stroke="#3a50d8" stroke-width="0.6"/>
<rect x="247.1" y="303.3" width="8.2" height="29.5" fill="#e88f7d" stroke="#e06a5a" stroke-width="0.5"/>
<rect x="263.4" y="319.2" width="7.6" height="13.6" fill="#6a7fe3" stroke="#3a50d8" stroke-width="0.6"/>
<rect x="263.4" y="324.3" width="7.6" height="8.5" fill="#e88f7d" stroke="#e06a5a" stroke-width="0.5"/>
<rect x="271" y="321.7" width="7.8" height="11.1" fill="#6a7fe3" stroke="#3a50d8" stroke-width="0.6"/>
<path d="M53.5,332.8 L80,332 L115,330.5 L140,328.5 L160,326 L185,324.8 L210,324 L230,323.5 L248,322.8 L262,324.2 L272,326.5 L278.5,328.5 L278.5,332.8 Z" fill="#b25866" fill-opacity="0.9" stroke="#d8604e" stroke-width="0.7"/>
<polyline points="53.5,332.6 90,332 120,330 145,327 160,325 180,324 220,324 240,324 255,325.5 270,328.5 278.5,330.3" fill="none" stroke="#3a4fd0" stroke-width="1"/>
<rect x="291.6" y="343.5" width="5.2" height="5.7" fill="#6a7fe3" stroke="#3a50d8" stroke-width="0.6"/>
<rect x="291.6" y="343.5" width="2.9" height="5.7" fill="#e88f7d" stroke="#e06a5a" stroke-width="0.5"/>
<rect x="291.6" y="367.2" width="4.6" height="5.8" fill="#6a7fe3" stroke="#3a50d8" stroke-width="0.6"/>
<rect x="291.6" y="378.4" width="9.7" height="5.8" fill="#6a7fe3" stroke="#3a50d8" stroke-width="0.6"/>
<rect x="291.6" y="378.4" width="4.6" height="5.8" fill="#e88f7d" stroke="#e06a5a" stroke-width="0.5"/>
<rect x="291.6" y="385.2" width="9.7" height="5.8" fill="#6a7fe3" stroke="#3a50d8" stroke-width="0.6"/>
<rect x="291.6" y="385.2" width="4.6" height="5.8" fill="#e88f7d" stroke="#e06a5a" stroke-width="0.5"/>
<rect x="291.6" y="396" width="9.7" height="6.8" fill="#6a7fe3" stroke="#3a50d8" stroke-width="0.6"/>
<rect x="291.6" y="396" width="4.6" height="6.8" fill="#e88f7d" stroke="#e06a5a" stroke-width="0.5"/>
<rect x="291.6" y="414.7" width="9.7" height="5.7" fill="#6a7fe3" stroke="#3a50d8" stroke-width="0.6"/>
<rect x="291.6" y="426.5" width="9.7" height="5.1" fill="#6a7fe3" stroke="#3a50d8" stroke-width="0.6"/>
<rect x="291.6" y="432.6" width="31.7" height="5.8" fill="#6a7fe3" stroke="#3a50d8" stroke-width="0.6"/>
<rect x="291.6" y="432.6" width="16.4" height="5.8" fill="#e88f7d" stroke="#e06a5a" stroke-width="0.5"/>
<rect x="291.6" y="439.4" width="18.1" height="5.8" fill="#6a7fe3" stroke="#3a50d8" stroke-width="0.6"/>
<rect x="291.6" y="439.4" width="9.7" height="5.8" fill="#e88f7d" stroke="#e06a5a" stroke-width="0.5"/>
<rect x="291.6" y="456.4" width="18.1" height="5.7" fill="#6a7fe3" stroke="#3a50d8" stroke-width="0.6"/>
<rect x="291.6" y="456.4" width="9.7" height="5.7" fill="#e88f7d" stroke="#e06a5a" stroke-width="0.5"/>
<rect x="291.6" y="463.1" width="31.7" height="5.8" fill="#6a7fe3" stroke="#3a50d8" stroke-width="0.6"/>
<rect x="291.6" y="463.1" width="16.4" height="5.8" fill="#e88f7d" stroke="#e06a5a" stroke-width="0.5"/>
<rect x="291.6" y="474" width="27.3" height="6.1" fill="#6a7fe3" stroke="#3a50d8" stroke-width="0.6"/>
<rect x="291.6" y="474" width="14.1" height="6.1" fill="#e88f7d" stroke="#e06a5a" stroke-width="0.5"/>
<rect x="291.6" y="485.8" width="18.1" height="5.8" fill="#6a7fe3" stroke="#3a50d8" stroke-width="0.6"/>
<rect x="291.6" y="485.8" width="9.7" height="5.8" fill="#e88f7d" stroke="#e06a5a" stroke-width="0.5"/>
<rect x="291.6" y="491.6" width="45.2" height="7.1" fill="#6a7fe3" stroke="#3a50d8" stroke-width="0.6"/>
<rect x="291.6" y="491.6" width="23.2" height="7.1" fill="#e88f7d" stroke="#e06a5a" stroke-width="0.5"/>
<rect x="291.6" y="510.6" width="18.1" height="6.4" fill="#6a7fe3" stroke="#3a50d8" stroke-width="0.6"/>
<rect x="291.6" y="510.6" width="9.7" height="6.4" fill="#e88f7d" stroke="#e06a5a" stroke-width="0.5"/>
<path d="M291.6,343.5 L293.8,346 L294.3,380 L294.8,405 L296.5,425 L298.5,440 L300.2,465 L300,485 L299.2,497 L296,508 L293,516 L291.6,518 Z" fill="#b25866" fill-opacity="0.9" stroke="#d8604e" stroke-width="0.7"/>
<line x1="291.6" y1="343" x2="291.6" y2="518" stroke="#c06060" stroke-width="0.8"/>
<text transform="translate(380.9,280.6) scale(0.98,1)" font-size="15.3" font-weight="bold" fill="#000">D</text>
<text x="429.2" y="315.4" font-size="12.4" fill="#111" text-anchor="start" textLength="251.2" lengthAdjust="spacingAndGlyphs" >Cross-phase representational transfer analysis</text>
<text x="435.9" y="340.0" font-size="12.4" fill="#111" text-anchor="start" textLength="46.8" lengthAdjust="spacingAndGlyphs" >Learning</text>
<text x="614.6" y="340.0" font-size="12.4" fill="#111" text-anchor="start" textLength="46.0" lengthAdjust="spacingAndGlyphs" >Creating</text>
<defs><radialGradient id="gB"><stop offset="0" stop-color="#0c1ad8"/><stop offset="0.32" stop-color="#1030e8"/><stop offset="0.45" stop-color="#10c8d0"/><stop offset="0.55" stop-color="#30d040"/><stop offset="0.68" stop-color="#f2e600"/><stop offset="0.8" stop-color="#f23010"/><stop offset="0.93" stop-color="#e81a0c"/><stop offset="1" stop-color="#e81a0c" stop-opacity="0"/></radialGradient><radialGradient id="gG"><stop offset="0" stop-color="#38c838"/><stop offset="0.3" stop-color="#90d820"/><stop offset="0.5" stop-color="#f2e000"/><stop offset="0.72" stop-color="#f23010"/><stop offset="0.92" stop-color="#e81a0c"/><stop offset="1" stop-color="#e81a0c" stop-opacity="0"/></radialGradient><radialGradient id="gY"><stop offset="0" stop-color="#f2e000"/><stop offset="0.35" stop-color="#f5a000"/><stop offset="0.62" stop-color="#ee2a0c"/><stop offset="0.9" stop-color="#e01a0c"/><stop offset="1" stop-color="#e01a0c" stop-opacity="0"/></radialGradient><radialGradient id="gR"><stop offset="0" stop-color="#f04a10"/><stop offset="0.75" stop-color="#e01a0c"/><stop offset="1" stop-color="#e01a0c" stop-opacity="0"/></radialGradient><filter id="fblur" x="-10%" y="-10%" width="120%" height="120%"><feGaussianBlur stdDeviation="0.45"/></filter></defs>
<g transform="translate(0,0)"><clipPath id="cbL"><path d="M423.9,379.8 C424.1,377.4 424.8,372.2 425.9,369.3 C427.0,366.4 428.4,364.9 430.5,362.7 C432.6,360.5 435.8,357.9 438.4,356.1 C441.0,354.4 443.2,353.3 446.3,352.2 C449.4,351.1 453.5,350.2 456.8,349.6 C460.1,349.0 462.9,348.5 466.0,348.3 C469.1,348.1 472.3,348.0 475.2,348.3 C478.1,348.6 480.7,348.9 483.1,350.2 C485.5,351.5 487.4,353.8 489.6,356.1 C491.8,358.4 494.2,361.4 496.2,364.0 C498.2,366.6 500.1,369.3 501.5,371.9 C502.9,374.5 504.1,377.6 504.7,379.8 C505.3,382.0 505.7,383.6 505.4,385.0 C505.1,386.4 504.3,387.4 502.8,388.3 C501.3,389.2 499.1,389.8 496.2,390.3 C493.3,390.9 489.2,391.1 485.7,391.6 C482.2,392.2 478.3,392.8 475.2,393.6 C472.1,394.4 469.1,395.2 467.3,396.2 C465.6,397.2 466.0,398.6 464.7,399.5 C463.4,400.4 461.1,401.3 459.4,401.5 C457.6,401.7 455.4,401.6 454.2,400.8 C453.0,400.0 453.5,397.8 452.2,396.9 C450.9,396.0 449.0,396.3 446.3,395.6 C443.6,394.9 438.9,394.1 435.8,392.9 C432.7,391.7 429.8,389.8 427.9,388.3 C426.0,386.8 425.3,385.1 424.6,383.7 C423.9,382.3 423.7,382.2 423.9,379.8 Z"/></clipPath><path d="M423.9,379.8 C424.1,377.4 424.8,372.2 425.9,369.3 C427.0,366.4 428.4,364.9 430.5,362.7 C432.6,360.5 435.8,357.9 438.4,356.1 C441.0,354.4 443.2,353.3 446.3,352.2 C449.4,351.1 453.5,350.2 456.8,349.6 C460.1,349.0 462.9,348.5 466.0,348.3 C469.1,348.1 472.3,348.0 475.2,348.3 C478.1,348.6 480.7,348.9 483.1,350.2 C485.5,351.5 487.4,353.8 489.6,356.1 C491.8,358.4 494.2,361.4 496.2,364.0 C498.2,366.6 500.1,369.3 501.5,371.9 C502.9,374.5 504.1,377.6 504.7,379.8 C505.3,382.0 505.7,383.6 505.4,385.0 C505.1,386.4 504.3,387.4 502.8,388.3 C501.3,389.2 499.1,389.8 496.2,390.3 C493.3,390.9 489.2,391.1 485.7,391.6 C482.2,392.2 478.3,392.8 475.2,393.6 C472.1,394.4 469.1,395.2 467.3,396.2 C465.6,397.2 466.0,398.6 464.7,399.5 C463.4,400.4 461.1,401.3 459.4,401.5 C457.6,401.7 455.4,401.6 454.2,400.8 C453.0,400.0 453.5,397.8 452.2,396.9 C450.9,396.0 449.0,396.3 446.3,395.6 C443.6,394.9 438.9,394.1 435.8,392.9 C432.7,391.7 429.8,389.8 427.9,388.3 C426.0,386.8 425.3,385.1 424.6,383.7 C423.9,382.3 423.7,382.2 423.9,379.8 Z" fill="#5d5d5d"/><g clip-path="url(#cbL)" fill="none" stroke="#8a8a88" stroke-linecap="round"><path d="M459.4,397.9 L459.4,397.5 L459.0,397.1 L458.6,396.6 L458.5,396.2 L458.6,395.7 L458.7,395.2 L458.4,394.7 L457.7,394.0 L457.2,393.3 L457.5,392.8 L458.5,392.5 L459.8,392.4 L460.9,392.4 L461.6,392.3 L462.1,392.1 L462.7,392.0 L463.4,392.0 L464.0,391.9 L464.4,391.6 L464.7,391.1 L465.1,390.5 L465.7,390.3 L466.4,390.6 L467.0,391.2 L467.5,391.5 L468.1,391.3 L468.8,390.9 L469.5,390.6 L470.3,390.5 L471.0,390.6 L471.9,390.5 L472.9,390.4 L474.0,390.4 L474.5,390.9 L474.5,391.7 L474.0,392.5 L473.7,393.2 L473.9,393.6 L474.5,393.9 L475.0,394.3 L475.0,394.8 L474.8,395.3 L474.7,395.7 L474.8,396.2 L474.8,396.6 L474.4,397.0 L473.5,397.3 L472.5,397.4" stroke-width="3.6"/><path d="M450.7,400.2 L450.1,399.3 L449.8,398.3 L449.5,397.3 L449.0,396.4 L448.3,395.3 L448.0,394.2 L448.5,393.2 L449.8,392.4 L451.5,391.7 L452.7,391.1 L453.5,390.4 L454.1,389.7 L454.9,388.9 L455.9,388.4 L456.8,387.8 L457.6,387.1 L458.3,386.2 L459.2,385.4 L460.4,385.1 L461.9,385.1 L463.3,385.4 L464.5,385.3 L465.7,384.8 L467.0,384.1 L468.4,383.7 L469.9,383.5 L471.3,383.6 L472.8,383.7 L474.4,383.7 L475.8,384.0 L477.0,384.8 L477.6,386.0 L478.0,387.2 L478.5,388.1 L479.5,388.7 L480.7,389.3 L481.7,389.9 L482.2,390.8 L482.3,391.8 L482.5,392.7 L482.8,393.6 L483.1,394.5 L482.9,395.4 L482.2,396.3 L481.5,397.1 L481.4,397.9 L482.0,398.9 L482.7,400.0" stroke-width="3.7"/><path d="M442.8,402.2 L441.8,400.9 L441.2,399.5 L441.0,398.0 L440.8,396.5 L440.3,395.0 L439.8,393.5 L439.6,391.9 L440.3,390.4 L441.9,389.1 L443.9,388.1 L445.6,387.1 L446.9,386.1 L448.0,385.0 L449.4,384.0 L451.0,383.1 L452.6,382.4 L454.0,381.4 L455.4,380.3 L457.0,379.4 L458.9,378.9 L461.1,378.9 L463.1,379.1 L465.1,379.1 L467.0,378.7 L469.0,378.2 L471.2,377.8 L473.3,377.9 L475.4,378.1 L477.6,378.4 L479.8,378.7 L481.9,379.3 L483.5,380.4 L484.6,381.9 L485.4,383.4 L486.3,384.8 L487.5,385.9 L489.0,386.9 L490.2,388.1 L490.9,389.5 L491.2,390.9 L491.5,392.3 L491.9,393.7 L492.1,395.1 L491.8,396.5 L490.9,397.8 L489.9,399.1 L489.5,400.4 L489.6,401.8" stroke-width="3.7"/><path d="M433.3,404.6 L432.1,402.8 L431.5,400.8 L431.9,398.7 L432.9,396.7 L434.1,394.8 L434.8,393.0 L435.0,391.2 L435.2,389.3 L435.9,387.5 L436.9,385.8 L438.2,384.1 L439.4,382.4 L440.6,380.6 L442.2,379.1 L444.4,377.9 L446.9,377.0 L449.3,376.2 L451.5,375.1 L453.6,373.7 L455.8,372.3 L458.4,371.3 L461.2,370.8 L464.1,370.6 L467.0,370.6 L469.9,370.6 L472.7,371.0 L475.4,371.9 L477.8,373.2 L480.0,374.4 L482.3,375.3 L484.9,375.9 L487.5,376.6 L489.8,377.7 L491.5,379.2 L492.9,380.9 L494.3,382.6 L495.7,384.1 L497.0,385.8 L497.9,387.5 L498.4,389.4 L498.9,391.2 L499.9,392.9 L501.4,394.8 L502.6,396.7 L503.1,398.8 L502.6,400.8 L501.5,402.7 L500.3,404.5" stroke-width="3.3"/><path d="M425.5,406.6 L424.2,404.3 L422.9,401.9 L422.0,399.5 L422.0,396.9 L423.1,394.4 L424.7,392.1 L426.2,389.9 L427.3,387.6 L428.1,385.4 L429.2,383.1 L430.7,381.0 L432.6,379.0 L434.5,377.1 L436.4,375.1 L438.5,373.2 L441.2,371.6 L444.3,370.5 L447.6,369.7 L450.7,368.9 L453.7,367.7 L456.7,366.3 L459.9,365.2 L463.4,364.6 L467.0,364.4 L470.6,364.5 L474.2,364.7 L477.7,365.1 L481.1,366.1 L484.1,367.5 L486.8,369.3 L489.4,370.9 L492.2,372.2 L495.2,373.4 L498.0,374.8 L500.3,376.6 L502.1,378.7 L503.5,380.9 L505.0,383.1 L506.4,385.2 L507.4,387.5 L507.8,389.9 L507.9,392.2 L508.2,394.5 L509.1,396.9 L510.1,399.3 L510.7,401.9 L510.3,404.4 L509.1,406.8" stroke-width="3.5"/><path d="M417.3,408.7 L416.0,405.9 L414.7,403.0 L413.5,400.1 L412.9,397.1 L413.3,394.1 L414.8,391.2 L416.8,388.4 L418.6,385.8 L420.0,383.1 L421.4,380.5 L423.2,377.9 L425.4,375.5 L427.9,373.3 L430.4,371.0 L433.0,368.7 L435.9,366.6 L439.4,365.0 L443.3,363.9 L447.2,363.1 L451.1,362.2 L454.8,361.0 L458.7,359.7 L462.8,358.8 L467.0,358.4 L471.3,358.5 L475.5,358.7 L479.8,359.1 L484.0,359.9 L487.9,361.3 L491.3,363.2 L494.4,365.3 L497.4,367.2 L500.7,368.9 L504.1,370.6 L507.1,372.6 L509.6,375.0 L511.4,377.6 L513.0,380.3 L514.6,383.0 L516.0,385.7 L516.7,388.5 L516.9,391.4 L516.8,394.2 L517.0,397.0 L517.6,399.9 L518.3,402.9 L518.3,406.0 L517.3,408.9" stroke-width="3.0"/><path d="M410.4,410.5 L408.4,407.4 L407.4,404.0 L406.9,400.6 L406.5,397.2 L406.3,393.8 L406.5,390.4 L407.4,387.0 L408.9,383.8 L410.5,380.5 L411.9,377.2 L413.4,373.8 L415.3,370.5 L418.2,367.6 L422.0,365.3 L426.2,363.3 L430.5,361.5 L434.7,359.8 L439.1,358.2 L443.6,357.1 L448.3,356.3 L453.0,355.6 L457.5,354.8 L462.2,353.9 L467.0,353.3 L471.9,353.4 L476.6,354.2 L481.1,355.3 L485.6,356.5 L490.1,357.5 L494.6,358.6 L499.0,360.1 L503.1,361.9 L507.1,363.8 L511.1,365.9 L515.1,368.0 L518.8,370.5 L521.5,373.5 L523.2,376.8 L524.3,380.3 L525.3,383.7 L526.4,387.1 L527.5,390.4 L528.0,393.8 L527.8,397.2 L527.2,400.6 L526.4,404.0 L525.6,407.4 L524.3,410.7" stroke-width="3.1"/><path d="M401.5,412.8 L400.0,409.0 L399.0,405.2 L398.0,401.3 L397.4,397.4 L397.2,393.5 L397.9,389.6 L399.0,385.8 L400.2,381.9 L401.3,378.0 L402.6,374.1 L404.8,370.3 L408.1,367.0 L412.3,364.2 L416.8,361.7 L421.2,359.3 L425.7,357.0 L430.4,354.9 L435.4,353.2 L440.5,351.9 L445.6,350.6 L450.7,349.2 L456.0,348.0 L461.4,347.2 L467.0,347.2 L472.5,347.8 L477.8,348.8 L483.1,349.6 L488.5,350.3 L493.9,351.3 L499.1,352.7 L504.0,354.5 L508.8,356.4 L513.7,358.5 L518.4,360.9 L522.6,363.7 L525.7,367.1 L528.0,370.8 L529.8,374.6 L531.6,378.3 L533.5,382.0 L535.2,385.7 L536.1,389.6 L536.4,393.5 L536.2,397.4 L535.9,401.3 L535.2,405.2 L533.9,409.0 L531.7,412.6" stroke-width="3.4"/><path d="M481,346 C486,352 490,360 492,368 C494,376 498,382 508,386 L512,346 Z" fill="#5d5d5d" stroke="none"/><path d="M478,350 C484,356 486,364 488,372 C490,380 494,386 500,390" stroke-width="2.5"/><path d="M486,348 C492,354 496,362 498,370 C500,376 504,380 508,382" stroke-width="2.7"/><path d="M494,352 C498,358 502,364 506,372" stroke-width="2.7"/><path d="M470,356 C476,360 480,366 482,374 C484,380 486,386 490,392" stroke-width="3.2"/></g><g clip-path="url(#cbL)" fill="#5c5c5c"><ellipse cx="485.9" cy="353.5" rx="3.1" ry="1.2"/><ellipse cx="477.0" cy="352.8" rx="1.5" ry="2.0"/><ellipse cx="452.6" cy="354.7" rx="3.5" ry="2.0"/><ellipse cx="457.4" cy="371.2" rx="2.6" ry="1.8"/><ellipse cx="452.3" cy="370.7" rx="2.9" ry="2.2"/><ellipse cx="493.6" cy="356.6" rx="2.2" ry="1.2"/><ellipse cx="448.7" cy="351.4" rx="2.1" ry="1.7"/><ellipse cx="440.2" cy="364.9" rx="2.2" ry="1.4"/><ellipse cx="489.1" cy="360.6" rx="2.1" ry="1.6"/><ellipse cx="482.3" cy="351.3" rx="3.5" ry="1.0"/></g><g clip-path="url(#cbL)" fill="none"><path d="M423.9,379.8 C424.1,377.4 424.8,372.2 425.9,369.3 C427.0,366.4 428.4,364.9 430.5,362.7 C432.6,360.5 435.8,357.9 438.4,356.1 C441.0,354.4 443.2,353.3 446.3,352.2 C449.4,351.1 453.5,350.2 456.8,349.6 C460.1,349.0 462.9,348.5 466.0,348.3 C469.1,348.1 472.3,348.0 475.2,348.3 C478.1,348.6 480.7,348.9 483.1,350.2 C485.5,351.5 487.4,353.8 489.6,356.1 C491.8,358.4 494.2,361.4 496.2,364.0 C498.2,366.6 500.1,369.3 501.5,371.9 C502.9,374.5 504.1,377.6 504.7,379.8 C505.3,382.0 505.7,383.6 505.4,385.0 C505.1,386.4 504.3,387.4 502.8,388.3 C501.3,389.2 499.1,389.8 496.2,390.3 C493.3,390.9 489.2,391.1 485.7,391.6 C482.2,392.2 478.3,392.8 475.2,393.6 C472.1,394.4 469.1,395.2 467.3,396.2 C465.6,397.2 466.0,398.6 464.7,399.5 C463.4,400.4 461.1,401.3 459.4,401.5 C457.6,401.7 455.4,401.6 454.2,400.8 C453.0,400.0 453.5,397.8 452.2,396.9 C450.9,396.0 449.0,396.3 446.3,395.6 C443.6,394.9 438.9,394.1 435.8,392.9 C432.7,391.7 429.8,389.8 427.9,388.3 C426.0,386.8 425.3,385.1 424.6,383.7 C423.9,382.3 423.7,382.2 423.9,379.8 Z" stroke="#3c3c3c" stroke-width="2.2" stroke-opacity="0.7"/></g><g clip-path="url(#cbL)"><g filter="url(#fblur)"><circle cx="464.4" cy="350.2" r="2.56" fill="#e8180c"/><circle cx="446.3" cy="355.5" r="2.24" fill="#e8180c"/><circle cx="448.2" cy="362.4" r="4.96" fill="#e8180c"/><circle cx="456.8" cy="360.7" r="4.80" fill="#e8180c"/><circle cx="464.0" cy="360.7" r="2.80" fill="#e8180c"/><circle cx="471.2" cy="359.4" r="2.80" fill="#e8180c"/><circle cx="484.4" cy="352.2" r="2.80" fill="#e8180c"/><circle cx="468.0" cy="368.6" r="2.40" fill="#e8180c"/><circle cx="464.0" cy="376.5" r="2.56" fill="#e8180c"/><circle cx="470.6" cy="377.2" r="3.36" fill="#e8180c"/><circle cx="473.2" cy="374.5" r="2.40" fill="#e8180c"/><circle cx="448.2" cy="383.7" r="4.16" fill="#e8180c"/><circle cx="425.3" cy="379.8" r="2.64" fill="#e8180c"/><circle cx="496.9" cy="373.9" r="2.80" fill="#e8180c"/><circle cx="500.8" cy="380.4" r="2.40" fill="#e8180c"/><circle cx="486.3" cy="386.4" r="4.40" fill="#e8180c"/><circle cx="491.6" cy="385.7" r="2.40" fill="#e8180c"/><circle cx="458.1" cy="391.6" r="2.40" fill="#e8180c"/><circle cx="462.0" cy="399.5" r="2.24" fill="#e8180c"/><circle cx="472.6" cy="392.9" r="2.08" fill="#e8180c"/><circle cx="477.8" cy="366.0" r="1.76" fill="#e8180c"/><circle cx="504.1" cy="385.0" r="2.00" fill="#e8180c"/><circle cx="461.0" cy="359.0" r="3.20" fill="#e8180c"/><circle cx="452.0" cy="359.0" r="4.00" fill="#e8180c"/><circle cx="464.4" cy="350.2" r="1.95" fill="#f26008"/><circle cx="446.3" cy="355.5" r="1.12" fill="#f04a0a"/><circle cx="448.2" cy="362.4" r="3.77" fill="#f26008"/><circle cx="456.8" cy="360.7" r="3.65" fill="#f26008"/><circle cx="464.0" cy="360.7" r="2.13" fill="#f26008"/><circle cx="471.2" cy="359.4" r="2.13" fill="#f26008"/><circle cx="484.4" cy="352.2" r="2.13" fill="#f26008"/><circle cx="468.0" cy="368.6" r="1.20" fill="#f04a0a"/><circle cx="464.0" cy="376.5" r="1.28" fill="#f04a0a"/><circle cx="470.6" cy="377.2" r="2.55" fill="#f26008"/><circle cx="473.2" cy="374.5" r="1.20" fill="#f04a0a"/><circle cx="448.2" cy="383.7" r="3.16" fill="#f26008"/><circle cx="425.3" cy="379.8" r="2.01" fill="#f26008"/><circle cx="496.9" cy="373.9" r="2.13" fill="#f26008"/><circle cx="500.8" cy="380.4" r="1.20" fill="#f04a0a"/><circle cx="486.3" cy="386.4" r="3.34" fill="#f26008"/><circle cx="491.6" cy="385.7" r="1.20" fill="#f04a0a"/><circle cx="458.1" cy="391.6" r="1.20" fill="#f04a0a"/><circle cx="462.0" cy="399.5" r="1.70" fill="#f26008"/><circle cx="472.6" cy="392.9" r="1.04" fill="#f04a0a"/><circle cx="477.8" cy="366.0" r="0.88" fill="#f04a0a"/><circle cx="504.1" cy="385.0" r="1.52" fill="#f26008"/><circle cx="461.0" cy="359.0" r="2.43" fill="#f26008"/><circle cx="452.0" cy="359.0" r="3.04" fill="#f26008"/><circle cx="464.4" cy="350.2" r="1.48" fill="#f2e000"/><circle cx="448.2" cy="362.4" r="2.88" fill="#f2e000"/><circle cx="456.8" cy="360.7" r="2.78" fill="#f2e000"/><circle cx="464.0" cy="360.7" r="1.26" fill="#f2e000"/><circle cx="471.2" cy="359.4" r="1.26" fill="#f2e000"/><circle cx="484.4" cy="352.2" r="1.26" fill="#f2e000"/><circle cx="470.6" cy="377.2" r="1.51" fill="#f2e000"/><circle cx="448.2" cy="383.7" r="2.41" fill="#f2e000"/><circle cx="425.3" cy="379.8" r="1.19" fill="#f2e000"/><circle cx="496.9" cy="373.9" r="1.62" fill="#f2e000"/><circle cx="486.3" cy="386.4" r="2.55" fill="#f2e000"/><circle cx="462.0" cy="399.5" r="1.30" fill="#f2e000"/><circle cx="504.1" cy="385.0" r="1.16" fill="#f2e000"/><circle cx="461.0" cy="359.0" r="1.44" fill="#f2e000"/><circle cx="452.0" cy="359.0" r="2.32" fill="#f2e000"/><circle cx="464.4" cy="350.2" r="1.08" fill="#40d040"/><circle cx="448.2" cy="362.4" r="2.08" fill="#40d040"/><circle cx="456.8" cy="360.7" r="2.02" fill="#40d040"/><circle cx="448.2" cy="383.7" r="1.75" fill="#40d040"/><circle cx="496.9" cy="373.9" r="1.18" fill="#40d040"/><circle cx="486.3" cy="386.4" r="1.85" fill="#40d040"/><circle cx="462.0" cy="399.5" r="0.94" fill="#40d040"/><circle cx="504.1" cy="385.0" r="0.84" fill="#40d040"/><circle cx="452.0" cy="359.0" r="1.68" fill="#40d040"/><circle cx="448.2" cy="362.4" r="1.64" fill="#10b8d8"/><circle cx="456.8" cy="360.7" r="1.58" fill="#10b8d8"/><circle cx="462.0" cy="399.5" r="0.74" fill="#10b8d8"/><circle cx="504.1" cy="385.0" r="0.66" fill="#10b8d8"/><circle cx="452.0" cy="359.0" r="1.32" fill="#10b8d8"/><circle cx="448.2" cy="362.4" r="1.34" fill="#1428d8"/><circle cx="456.8" cy="360.7" r="1.30" fill="#1428d8"/><circle cx="462.0" cy="399.5" r="0.60" fill="#1428d8"/><circle cx="504.1" cy="385.0" r="0.54" fill="#1428d8"/><circle cx="452.0" cy="359.0" r="1.08" fill="#1428d8"/></g></g></g>
<g transform="translate(178.5,1.5)"><clipPath id="cbR"><path d="M423.9,379.8 C424.1,377.4 424.8,372.2 425.9,369.3 C427.0,366.4 428.4,364.9 430.5,362.7 C432.6,360.5 435.8,357.9 438.4,356.1 C441.0,354.4 443.2,353.3 446.3,352.2 C449.4,351.1 453.5,350.2 456.8,349.6 C460.1,349.0 462.9,348.5 466.0,348.3 C469.1,348.1 472.3,348.0 475.2,348.3 C478.1,348.6 480.7,348.9 483.1,350.2 C485.5,351.5 487.4,353.8 489.6,356.1 C491.8,358.4 494.2,361.4 496.2,364.0 C498.2,366.6 500.1,369.3 501.5,371.9 C502.9,374.5 504.1,377.6 504.7,379.8 C505.3,382.0 505.7,383.6 505.4,385.0 C505.1,386.4 504.3,387.4 502.8,388.3 C501.3,389.2 499.1,389.8 496.2,390.3 C493.3,390.9 489.2,391.1 485.7,391.6 C482.2,392.2 478.3,392.8 475.2,393.6 C472.1,394.4 469.1,395.2 467.3,396.2 C465.6,397.2 466.0,398.6 464.7,399.5 C463.4,400.4 461.1,401.3 459.4,401.5 C457.6,401.7 455.4,401.6 454.2,400.8 C453.0,400.0 453.5,397.8 452.2,396.9 C450.9,396.0 449.0,396.3 446.3,395.6 C443.6,394.9 438.9,394.1 435.8,392.9 C432.7,391.7 429.8,389.8 427.9,388.3 C426.0,386.8 425.3,385.1 424.6,383.7 C423.9,382.3 423.7,382.2 423.9,379.8 Z"/></clipPath><path d="M423.9,379.8 C424.1,377.4 424.8,372.2 425.9,369.3 C427.0,366.4 428.4,364.9 430.5,362.7 C432.6,360.5 435.8,357.9 438.4,356.1 C441.0,354.4 443.2,353.3 446.3,352.2 C449.4,351.1 453.5,350.2 456.8,349.6 C460.1,349.0 462.9,348.5 466.0,348.3 C469.1,348.1 472.3,348.0 475.2,348.3 C478.1,348.6 480.7,348.9 483.1,350.2 C485.5,351.5 487.4,353.8 489.6,356.1 C491.8,358.4 494.2,361.4 496.2,364.0 C498.2,366.6 500.1,369.3 501.5,371.9 C502.9,374.5 504.1,377.6 504.7,379.8 C505.3,382.0 505.7,383.6 505.4,385.0 C505.1,386.4 504.3,387.4 502.8,388.3 C501.3,389.2 499.1,389.8 496.2,390.3 C493.3,390.9 489.2,391.1 485.7,391.6 C482.2,392.2 478.3,392.8 475.2,393.6 C472.1,394.4 469.1,395.2 467.3,396.2 C465.6,397.2 466.0,398.6 464.7,399.5 C463.4,400.4 461.1,401.3 459.4,401.5 C457.6,401.7 455.4,401.6 454.2,400.8 C453.0,400.0 453.5,397.8 452.2,396.9 C450.9,396.0 449.0,396.3 446.3,395.6 C443.6,394.9 438.9,394.1 435.8,392.9 C432.7,391.7 429.8,389.8 427.9,388.3 C426.0,386.8 425.3,385.1 424.6,383.7 C423.9,382.3 423.7,382.2 423.9,379.8 Z" fill="#5d5d5d"/><g clip-path="url(#cbR)" fill="none" stroke="#8a8a88" stroke-linecap="round"><path d="M460.0,397.8 L459.2,397.5 L459.1,397.1 L459.2,396.6 L459.2,396.2 L458.9,395.7 L458.7,395.2 L458.9,394.8 L459.3,394.4 L459.6,394.0 L459.4,393.4 L458.9,392.6 L458.5,391.8 L458.8,391.2 L459.7,391.0 L460.9,391.1 L461.9,391.2 L462.7,391.1 L463.3,391.0 L464.1,391.1 L464.8,391.4 L465.5,391.6 L465.9,391.4 L466.4,390.9 L467.0,390.4 L467.7,390.3 L468.2,390.7 L468.6,391.3 L469.0,391.7 L469.6,391.7 L470.3,391.5 L471.0,391.5 L471.6,391.6 L472.3,391.7 L473.3,391.7 L474.5,391.7 L475.6,391.8 L476.2,392.2 L476.0,393.0 L475.3,393.7 L474.9,394.3 L474.9,394.8 L475.2,395.2 L475.4,395.7 L475.2,396.2 L474.9,396.6 L474.7,397.0 L474.8,397.5 L474.8,398.0" stroke-width="3.2"/><path d="M449.9,400.4 L450.3,399.2 L451.2,398.1 L452.1,397.1 L452.3,396.3 L452.0,395.5 L451.5,394.6 L451.3,393.6 L451.6,392.8 L452.0,391.9 L452.3,391.0 L452.5,390.0 L453.1,389.1 L454.1,388.5 L455.4,388.0 L456.5,387.6 L457.3,386.8 L457.8,385.7 L458.5,384.5 L459.6,383.7 L461.0,383.3 L462.6,383.3 L464.1,383.2 L465.5,383.2 L467.0,383.3 L468.4,383.9 L469.6,384.7 L470.7,385.4 L471.9,385.6 L473.3,385.6 L474.7,385.5 L476.0,385.9 L476.9,386.6 L477.5,387.6 L478.2,388.4 L479.0,389.0 L479.9,389.7 L480.5,390.4 L480.9,391.3 L481.4,392.0 L482.5,392.7 L484.0,393.4 L485.4,394.3 L486.1,395.3 L485.8,396.4 L485.1,397.4 L484.4,398.3 L484.0,399.3 L483.6,400.3" stroke-width="3.7"/><path d="M441.7,402.5 L440.7,401.1 L440.0,399.6 L440.1,398.1 L441.1,396.5 L442.4,395.1 L443.3,393.8 L443.7,392.5 L443.8,391.1 L444.1,389.7 L444.9,388.5 L445.8,387.2 L446.7,386.0 L447.5,384.7 L448.6,383.4 L450.1,382.4 L452.0,381.8 L454.0,381.4 L455.7,380.7 L457.2,379.7 L458.7,378.5 L460.6,377.5 L462.6,376.9 L464.8,376.8 L467.0,376.8 L469.2,376.8 L471.4,377.0 L473.4,377.6 L475.2,378.7 L476.7,379.8 L478.3,380.8 L480.1,381.3 L482.1,381.7 L484.0,382.4 L485.4,383.4 L486.4,384.7 L487.2,386.0 L488.2,387.3 L489.1,388.5 L489.8,389.8 L490.1,391.1 L490.3,392.5 L490.8,393.8 L492.0,395.1 L493.3,396.5 L494.1,398.1 L494.1,399.6 L493.2,401.1 L492.2,402.5" stroke-width="3.4"/><path d="M433.8,404.5 L433.0,402.6 L432.0,400.7 L431.0,398.8 L430.5,396.7 L430.8,394.7 L432.1,392.8 L433.9,391.0 L435.4,389.3 L436.4,387.6 L437.2,385.9 L438.3,384.1 L439.8,382.6 L441.5,381.1 L443.0,379.6 L444.6,378.0 L446.4,376.5 L448.7,375.5 L451.4,374.9 L454.1,374.5 L456.6,373.9 L459.0,373.0 L461.5,371.9 L464.2,371.1 L467.0,370.7 L469.9,370.8 L472.8,370.9 L475.6,371.1 L478.5,371.6 L481.0,372.6 L483.2,374.1 L485.1,375.7 L486.9,377.1 L489.1,378.2 L491.5,379.3 L493.6,380.5 L495.2,382.1 L496.3,383.9 L497.2,385.7 L498.2,387.4 L499.1,389.2 L499.6,391.1 L499.5,393.0 L499.3,394.8 L499.4,396.7 L500.1,398.6 L501.0,400.6 L501.4,402.7 L500.8,404.7" stroke-width="3.0"/><path d="M426.2,406.5 L425.4,404.1 L424.8,401.7 L424.2,399.3 L423.6,396.9 L423.5,394.4 L424.0,392.0 L424.7,389.6 L425.3,387.2 L425.6,384.7 L426.2,382.1 L427.5,379.7 L429.8,377.7 L432.8,376.1 L435.8,374.7 L438.7,373.3 L441.5,371.9 L444.4,370.7 L447.6,369.7 L450.8,369.0 L453.9,368.2 L457.0,367.1 L460.2,366.1 L463.5,365.6 L467.0,365.8 L470.4,366.4 L473.6,367.1 L476.9,367.5 L480.3,367.8 L483.7,368.3 L486.9,369.0 L490.1,370.1 L493.2,371.2 L496.5,372.3 L499.6,373.7 L502.3,375.5 L504.0,377.8 L505.1,380.3 L505.9,382.7 L507.0,385.0 L508.4,387.3 L509.5,389.6 L510.0,392.0 L510.0,394.5 L509.8,396.9 L509.7,399.3 L509.4,401.7 L508.5,404.0 L506.7,406.2" stroke-width="3.5"/><path d="M416.8,408.9 L415.2,406.1 L414.4,403.1 L414.7,400.0 L415.7,397.0 L416.8,394.2 L417.4,391.4 L417.8,388.6 L418.3,385.7 L419.5,383.0 L421.1,380.4 L423.0,377.8 L424.9,375.2 L427.0,372.7 L429.6,370.5 L432.9,368.6 L436.5,367.2 L440.0,365.7 L443.3,364.0 L446.6,362.1 L450.2,360.4 L454.2,359.2 L458.4,358.6 L462.7,358.3 L467.0,358.2 L471.3,358.4 L475.5,358.9 L479.5,360.1 L483.2,361.6 L486.8,363.1 L490.4,364.3 L494.3,365.4 L498.0,366.7 L501.3,368.5 L504.0,370.7 L506.4,373.1 L508.6,375.5 L510.8,377.9 L512.8,380.4 L514.2,383.1 L515.1,385.9 L516.2,388.6 L517.6,391.3 L519.2,394.1 L520.4,397.1 L520.6,400.1 L519.8,403.1 L518.4,406.0 L516.8,408.8" stroke-width="3.2"/><path d="M410.0,410.6 L408.3,407.4 L406.9,404.1 L406.1,400.7 L405.9,397.3 L405.7,393.8 L405.5,390.3 L405.6,386.7 L406.4,383.2 L408.5,380.0 L411.4,377.1 L414.7,374.4 L417.9,371.8 L420.9,369.2 L424.1,366.7 L427.7,364.5 L431.6,362.5 L435.5,360.7 L439.4,358.7 L443.5,356.8 L447.9,355.4 L452.6,354.6 L457.5,354.4 L462.3,354.4 L467.0,354.3 L471.8,354.0 L476.7,353.8 L481.6,354.1 L486.4,354.9 L491.1,355.9 L495.8,357.1 L500.4,358.5 L504.7,360.4 L508.3,362.9 L511.2,365.8 L513.7,368.9 L516.3,371.7 L519.1,374.5 L521.7,377.4 L523.8,380.5 L525.1,383.8 L526.0,387.1 L526.7,390.5 L527.2,393.8 L527.2,397.2 L526.4,400.6 L524.8,403.8 L523.2,406.9 L522.0,410.1" stroke-width="3.3"/><path d="M401.7,412.7 L399.6,409.1 L398.2,405.3 L397.4,401.4 L397.0,397.4 L396.7,393.5 L396.5,389.5 L396.8,385.4 L398.1,381.5 L400.7,377.9 L404.0,374.5 L407.5,371.4 L410.9,368.3 L414.2,365.3 L417.9,362.4 L422.0,359.9 L426.4,357.6 L430.8,355.3 L435.2,353.1 L440.0,351.0 L445.1,349.5 L450.6,348.8 L456.1,348.5 L461.6,348.3 L467.0,348.0 L472.5,347.6 L478.1,347.5 L483.7,348.0 L489.2,348.9 L494.6,350.1 L500.0,351.4 L505.2,353.2 L509.9,355.5 L513.8,358.5 L517.1,361.8 L520.2,365.1 L523.4,368.2 L526.8,371.3 L529.7,374.6 L531.9,378.2 L533.4,382.0 L534.5,385.8 L535.4,389.7 L536.0,393.5 L535.8,397.4 L534.7,401.2 L533.2,404.9 L531.7,408.6 L530.6,412.3" stroke-width="3.0"/><path d="M481,346 C486,352 490,360 492,368 C494,376 498,382 508,386 L512,346 Z" fill="#5d5d5d" stroke="none"/><path d="M478,350 C484,356 486,364 488,372 C490,380 494,386 500,390" stroke-width="2.7"/><path d="M486,348 C492,354 496,362 498,370 C500,376 504,380 508,382" stroke-width="2.6"/><path d="M494,352 C498,358 502,364 506,372" stroke-width="2.9"/><path d="M470,356 C476,360 480,366 482,374 C484,380 486,386 490,392" stroke-width="3.2"/></g><g clip-path="url(#cbR)" fill="#5c5c5c"><ellipse cx="475.4" cy="367.0" rx="2.3" ry="1.9"/><ellipse cx="446.1" cy="356.4" rx="2.8" ry="1.9"/><ellipse cx="465.3" cy="351.9" rx="2.0" ry="1.3"/><ellipse cx="456.9" cy="367.8" rx="1.9" ry="2.1"/><ellipse cx="492.8" cy="351.2" rx="2.3" ry="1.6"/><ellipse cx="441.4" cy="359.3" rx="3.3" ry="1.1"/><ellipse cx="475.8" cy="352.7" rx="2.7" ry="2.1"/><ellipse cx="452.2" cy="350.2" rx="1.7" ry="1.6"/><ellipse cx="441.0" cy="351.9" rx="2.5" ry="2.1"/><ellipse cx="465.2" cy="358.8" rx="2.8" ry="1.1"/></g><g clip-path="url(#cbR)" fill="none"><path d="M423.9,379.8 C424.1,377.4 424.8,372.2 425.9,369.3 C427.0,366.4 428.4,364.9 430.5,362.7 C432.6,360.5 435.8,357.9 438.4,356.1 C441.0,354.4 443.2,353.3 446.3,352.2 C449.4,351.1 453.5,350.2 456.8,349.6 C460.1,349.0 462.9,348.5 466.0,348.3 C469.1,348.1 472.3,348.0 475.2,348.3 C478.1,348.6 480.7,348.9 483.1,350.2 C485.5,351.5 487.4,353.8 489.6,356.1 C491.8,358.4 494.2,361.4 496.2,364.0 C498.2,366.6 500.1,369.3 501.5,371.9 C502.9,374.5 504.1,377.6 504.7,379.8 C505.3,382.0 505.7,383.6 505.4,385.0 C505.1,386.4 504.3,387.4 502.8,388.3 C501.3,389.2 499.1,389.8 496.2,390.3 C493.3,390.9 489.2,391.1 485.7,391.6 C482.2,392.2 478.3,392.8 475.2,393.6 C472.1,394.4 469.1,395.2 467.3,396.2 C465.6,397.2 466.0,398.6 464.7,399.5 C463.4,400.4 461.1,401.3 459.4,401.5 C457.6,401.7 455.4,401.6 454.2,400.8 C453.0,400.0 453.5,397.8 452.2,396.9 C450.9,396.0 449.0,396.3 446.3,395.6 C443.6,394.9 438.9,394.1 435.8,392.9 C432.7,391.7 429.8,389.8 427.9,388.3 C426.0,386.8 425.3,385.1 424.6,383.7 C423.9,382.3 423.7,382.2 423.9,379.8 Z" stroke="#3c3c3c" stroke-width="2.2" stroke-opacity="0.7"/></g><g clip-path="url(#cbR)"><g filter="url(#fblur)"><circle cx="444.9" cy="362.5" r="5.60" fill="#e8180c"/><circle cx="453.2" cy="361.3" r="5.20" fill="#e8180c"/><circle cx="441.7" cy="367.6" r="5.20" fill="#e8180c"/><circle cx="451.2" cy="369.5" r="4.80" fill="#e8180c"/><circle cx="455.1" cy="357.5" r="3.60" fill="#e8180c"/><circle cx="437.9" cy="360.0" r="4.00" fill="#e8180c"/><circle cx="448.0" cy="355.6" r="3.60" fill="#e8180c"/><circle cx="434.5" cy="365.5" r="3.20" fill="#e8180c"/><circle cx="457.5" cy="367.5" r="3.20" fill="#e8180c"/><circle cx="446.5" cy="374.0" r="3.20" fill="#e8180c"/><circle cx="458.5" cy="351.6" r="2.80" fill="#e8180c"/><circle cx="472.8" cy="359.4" r="3.04" fill="#e8180c"/><circle cx="477.3" cy="372.1" r="5.60" fill="#e8180c"/><circle cx="489.3" cy="370.2" r="3.60" fill="#e8180c"/><circle cx="429.0" cy="380.3" r="3.84" fill="#e8180c"/><circle cx="448.7" cy="384.1" r="4.80" fill="#e8180c"/><circle cx="463.9" cy="381.6" r="4.00" fill="#e8180c"/><circle cx="476.7" cy="381.6" r="3.84" fill="#e8180c"/><circle cx="457.6" cy="377.8" r="2.56" fill="#e8180c"/><circle cx="459.5" cy="388.6" r="2.56" fill="#e8180c"/><circle cx="475.4" cy="388.6" r="3.36" fill="#e8180c"/><circle cx="466.5" cy="393.7" r="2.80" fill="#e8180c"/><circle cx="456.3" cy="395.6" r="2.56" fill="#e8180c"/><circle cx="495.7" cy="366.4" r="2.80" fill="#e8180c"/><circle cx="500.8" cy="385.4" r="2.24" fill="#e8180c"/><circle cx="469.5" cy="350.5" r="2.00" fill="#e8180c"/><circle cx="461.5" cy="375.5" r="2.40" fill="#e8180c"/><circle cx="444.9" cy="362.5" r="4.26" fill="#f26008"/><circle cx="453.2" cy="361.3" r="3.95" fill="#f26008"/><circle cx="441.7" cy="367.6" r="3.95" fill="#f26008"/><circle cx="451.2" cy="369.5" r="3.65" fill="#f26008"/><circle cx="455.1" cy="357.5" r="2.74" fill="#f26008"/><circle cx="437.9" cy="360.0" r="3.04" fill="#f26008"/><circle cx="448.0" cy="355.6" r="2.74" fill="#f26008"/><circle cx="434.5" cy="365.5" r="2.43" fill="#f26008"/><circle cx="457.5" cy="367.5" r="2.43" fill="#f26008"/><circle cx="446.5" cy="374.0" r="2.43" fill="#f26008"/><circle cx="458.5" cy="351.6" r="2.13" fill="#f26008"/><circle cx="472.8" cy="359.4" r="2.31" fill="#f26008"/><circle cx="477.3" cy="372.1" r="4.26" fill="#f26008"/><circle cx="489.3" cy="370.2" r="2.74" fill="#f26008"/><circle cx="429.0" cy="380.3" r="2.92" fill="#f26008"/><circle cx="448.7" cy="384.1" r="3.65" fill="#f26008"/><circle cx="463.9" cy="381.6" r="3.04" fill="#f26008"/><circle cx="476.7" cy="381.6" r="2.92" fill="#f26008"/><circle cx="457.6" cy="377.8" r="1.28" fill="#f04a0a"/><circle cx="459.5" cy="388.6" r="1.28" fill="#f04a0a"/><circle cx="475.4" cy="388.6" r="2.55" fill="#f26008"/><circle cx="466.5" cy="393.7" r="2.13" fill="#f26008"/><circle cx="456.3" cy="395.6" r="1.28" fill="#f04a0a"/><circle cx="495.7" cy="366.4" r="2.13" fill="#f26008"/><circle cx="500.8" cy="385.4" r="1.12" fill="#f04a0a"/><circle cx="469.5" cy="350.5" r="1.00" fill="#f04a0a"/><circle cx="461.5" cy="375.5" r="1.20" fill="#f04a0a"/><circle cx="444.9" cy="362.5" r="3.25" fill="#f2e000"/><circle cx="453.2" cy="361.3" r="3.02" fill="#f2e000"/><circle cx="441.7" cy="367.6" r="3.02" fill="#f2e000"/><circle cx="451.2" cy="369.5" r="2.78" fill="#f2e000"/><circle cx="455.1" cy="357.5" r="2.09" fill="#f2e000"/><circle cx="437.9" cy="360.0" r="2.32" fill="#f2e000"/><circle cx="448.0" cy="355.6" r="2.09" fill="#f2e000"/><circle cx="434.5" cy="365.5" r="1.44" fill="#f2e000"/><circle cx="457.5" cy="367.5" r="1.44" fill="#f2e000"/><circle cx="446.5" cy="374.0" r="1.44" fill="#f2e000"/><circle cx="458.5" cy="351.6" r="1.26" fill="#f2e000"/><circle cx="472.8" cy="359.4" r="1.37" fill="#f2e000"/><circle cx="477.3" cy="372.1" r="3.25" fill="#f2e000"/><circle cx="489.3" cy="370.2" r="2.09" fill="#f2e000"/><circle cx="429.0" cy="380.3" r="2.23" fill="#f2e000"/><circle cx="448.7" cy="384.1" r="2.78" fill="#f2e000"/><circle cx="463.9" cy="381.6" r="2.32" fill="#f2e000"/><circle cx="476.7" cy="381.6" r="2.23" fill="#f2e000"/><circle cx="475.4" cy="388.6" r="1.95" fill="#f2e000"/><circle cx="466.5" cy="393.7" r="1.62" fill="#f2e000"/><circle cx="495.7" cy="366.4" r="1.26" fill="#f2e000"/><circle cx="444.9" cy="362.5" r="2.35" fill="#40d040"/><circle cx="453.2" cy="361.3" r="2.18" fill="#40d040"/><circle cx="441.7" cy="367.6" r="2.18" fill="#40d040"/><circle cx="451.2" cy="369.5" r="2.02" fill="#40d040"/><circle cx="455.1" cy="357.5" r="1.51" fill="#40d040"/><circle cx="437.9" cy="360.0" r="1.68" fill="#40d040"/><circle cx="448.0" cy="355.6" r="1.51" fill="#40d040"/><circle cx="477.3" cy="372.1" r="2.35" fill="#40d040"/><circle cx="489.3" cy="370.2" r="1.51" fill="#40d040"/><circle cx="429.0" cy="380.3" r="1.61" fill="#40d040"/><circle cx="448.7" cy="384.1" r="2.02" fill="#40d040"/><circle cx="463.9" cy="381.6" r="1.68" fill="#40d040"/><circle cx="476.7" cy="381.6" r="1.61" fill="#40d040"/><circle cx="475.4" cy="388.6" r="1.41" fill="#40d040"/><circle cx="466.5" cy="393.7" r="1.18" fill="#40d040"/><circle cx="444.9" cy="362.5" r="1.85" fill="#10b8d8"/><circle cx="453.2" cy="361.3" r="1.72" fill="#10b8d8"/><circle cx="441.7" cy="367.6" r="1.72" fill="#10b8d8"/><circle cx="451.2" cy="369.5" r="1.58" fill="#10b8d8"/><circle cx="455.1" cy="357.5" r="1.19" fill="#10b8d8"/><circle cx="477.3" cy="372.1" r="1.85" fill="#10b8d8"/><circle cx="448.7" cy="384.1" r="1.58" fill="#10b8d8"/><circle cx="444.9" cy="362.5" r="1.51" fill="#1428d8"/><circle cx="453.2" cy="361.3" r="1.40" fill="#1428d8"/><circle cx="441.7" cy="367.6" r="1.40" fill="#1428d8"/><circle cx="451.2" cy="369.5" r="1.30" fill="#1428d8"/><circle cx="455.1" cy="357.5" r="0.97" fill="#1428d8"/><circle cx="477.3" cy="372.1" r="1.51" fill="#1428d8"/><circle cx="448.7" cy="384.1" r="1.30" fill="#1428d8"/></g></g></g>
<path d="M531.3,367.6 L568.7,367.6 L568.7,362.9 L578.6,372.8 L568.7,382.6 L568.7,378.2 L531.3,378.2 Z" fill="#a3a3a3" stroke="#7a7a7a" stroke-width="0.8"/>
<text x="365.8" y="443.9" font-size="10.0" fill="#111" text-anchor="start" textLength="52" lengthAdjust="spacingAndGlyphs" >Compressed</text>
<text x="356.6" y="519.8" font-size="10.0" fill="#111" text-anchor="start" textLength="61.2" lengthAdjust="spacingAndGlyphs" >Uncompressed</text>
<rect x="434.71" y="416.00" width="3.74" height="3.68" fill="#1d4a6b"/><rect x="438.39" y="416.00" width="3.74" height="3.68" fill="#e9f0f5"/><rect x="442.07" y="416.00" width="3.74" height="3.68" fill="#ffffff"/><rect x="445.75" y="416.00" width="3.74" height="3.68" fill="#f0a797"/><rect x="449.43" y="416.00" width="3.74" height="3.68" fill="#ffffff"/><rect x="453.11" y="416.00" width="3.74" height="3.68" fill="#ffffff"/><rect x="456.79" y="416.00" width="3.74" height="3.68" fill="#ffffff"/><rect x="460.47" y="416.00" width="3.74" height="3.68" fill="#cddbe6"/><rect x="464.15" y="416.00" width="3.74" height="3.68" fill="#ffffff"/><rect x="467.83" y="416.00" width="3.74" height="3.68" fill="#ffffff"/><rect x="434.71" y="419.62" width="3.74" height="3.68" fill="#e9f0f5"/><rect x="438.39" y="419.62" width="3.74" height="3.68" fill="#1d4a6b"/><rect x="442.07" y="419.62" width="3.74" height="3.68" fill="#f7d2ca"/><rect x="445.75" y="419.62" width="3.74" height="3.68" fill="#5e86a3"/><rect x="449.43" y="419.62" width="3.74" height="3.68" fill="#e9f0f5"/><rect x="453.11" y="419.62" width="3.74" height="3.68" fill="#5e86a3"/><rect x="456.79" y="419.62" width="3.74" height="3.68" fill="#f7d2ca"/><rect x="460.47" y="419.62" width="3.74" height="3.68" fill="#ffffff"/><rect x="464.15" y="419.62" width="3.74" height="3.68" fill="#1d4a6b"/><rect x="467.83" y="419.62" width="3.74" height="3.68" fill="#e8735e"/><rect x="434.71" y="423.24" width="3.74" height="3.68" fill="#ffffff"/><rect x="438.39" y="423.24" width="3.74" height="3.68" fill="#f7d2ca"/><rect x="442.07" y="423.24" width="3.74" height="3.68" fill="#1d4a6b"/><rect x="445.75" y="423.24" width="3.74" height="3.68" fill="#e8735e"/><rect x="449.43" y="423.24" width="3.74" height="3.68" fill="#ffffff"/><rect x="453.11" y="423.24" width="3.74" height="3.68" fill="#ffffff"/><rect x="456.79" y="423.24" width="3.74" height="3.68" fill="#9fbbcf"/><rect x="460.47" y="423.24" width="3.74" height="3.68" fill="#1d4a6b"/><rect x="464.15" y="423.24" width="3.74" height="3.68" fill="#ffffff"/><rect x="467.83" y="423.24" width="3.74" height="3.68" fill="#5e86a3"/><rect x="434.71" y="426.86" width="3.74" height="3.68" fill="#f0a797"/><rect x="438.39" y="426.86" width="3.74" height="3.68" fill="#5e86a3"/><rect x="442.07" y="426.86" width="3.74" height="3.68" fill="#e8735e"/><rect x="445.75" y="426.86" width="3.74" height="3.68" fill="#1d4a6b"/><rect x="449.43" y="426.86" width="3.74" height="3.68" fill="#cddbe6"/><rect x="453.11" y="426.86" width="3.74" height="3.68" fill="#cddbe6"/><rect x="456.79" y="426.86" width="3.74" height="3.68" fill="#1d4a6b"/><rect x="460.47" y="426.86" width="3.74" height="3.68" fill="#ffffff"/><rect x="464.15" y="426.86" width="3.74" height="3.68" fill="#e9f0f5"/><rect x="467.83" y="426.86" width="3.74" height="3.68" fill="#f7d2ca"/><rect x="434.71" y="430.48" width="3.74" height="3.68" fill="#ffffff"/><rect x="438.39" y="430.48" width="3.74" height="3.68" fill="#e9f0f5"/><rect x="442.07" y="430.48" width="3.74" height="3.68" fill="#ffffff"/><rect x="445.75" y="430.48" width="3.74" height="3.68" fill="#cddbe6"/><rect x="449.43" y="430.48" width="3.74" height="3.68" fill="#1d4a6b"/><rect x="453.11" y="430.48" width="3.74" height="3.68" fill="#ffffff"/><rect x="456.79" y="430.48" width="3.74" height="3.68" fill="#ffffff"/><rect x="460.47" y="430.48" width="3.74" height="3.68" fill="#ffffff"/><rect x="464.15" y="430.48" width="3.74" height="3.68" fill="#ffffff"/><rect x="467.83" y="430.48" width="3.74" height="3.68" fill="#e9f0f5"/><rect x="434.71" y="434.10" width="3.74" height="3.68" fill="#ffffff"/><rect x="438.39" y="434.10" width="3.74" height="3.68" fill="#5e86a3"/><rect x="442.07" y="434.10" width="3.74" height="3.68" fill="#ffffff"/><rect x="445.75" y="434.10" width="3.74" height="3.68" fill="#cddbe6"/><rect x="449.43" y="434.10" width="3.74" height="3.68" fill="#ffffff"/><rect x="453.11" y="434.10" width="3.74" height="3.68" fill="#1d4a6b"/><rect x="456.79" y="434.10" width="3.74" height="3.68" fill="#cddbe6"/><rect x="460.47" y="434.10" width="3.74" height="3.68" fill="#e8735e"/><rect x="464.15" y="434.10" width="3.74" height="3.68" fill="#e8735e"/><rect x="467.83" y="434.10" width="3.74" height="3.68" fill="#f7d2ca"/><rect x="434.71" y="437.72" width="3.74" height="3.68" fill="#ffffff"/><rect x="438.39" y="437.72" width="3.74" height="3.68" fill="#f7d2ca"/><rect x="442.07" y="437.72" width="3.74" height="3.68" fill="#9fbbcf"/><rect x="445.75" y="437.72" width="3.74" height="3.68" fill="#1d4a6b"/><rect x="449.43" y="437.72" width="3.74" height="3.68" fill="#ffffff"/><rect x="453.11" y="437.72" width="3.74" height="3.68" fill="#cddbe6"/><rect x="456.79" y="437.72" width="3.74" height="3.68" fill="#1d4a6b"/><rect x="460.47" y="437.72" width="3.74" height="3.68" fill="#ffffff"/><rect x="464.15" y="437.72" width="3.74" height="3.68" fill="#e9f0f5"/><rect x="467.83" y="437.72" width="3.74" height="3.68" fill="#cddbe6"/><rect x="434.71" y="441.34" width="3.74" height="3.68" fill="#cddbe6"/><rect x="438.39" y="441.34" width="3.74" height="3.68" fill="#ffffff"/><rect x="442.07" y="441.34" width="3.74" height="3.68" fill="#1d4a6b"/><rect x="445.75" y="441.34" width="3.74" height="3.68" fill="#ffffff"/><rect x="449.43" y="441.34" width="3.74" height="3.68" fill="#ffffff"/><rect x="453.11" y="441.34" width="3.74" height="3.68" fill="#e8735e"/><rect x="456.79" y="441.34" width="3.74" height="3.68" fill="#ffffff"/><rect x="460.47" y="441.34" width="3.74" height="3.68" fill="#1d4a6b"/><rect x="464.15" y="441.34" width="3.74" height="3.68" fill="#cddbe6"/><rect x="467.83" y="441.34" width="3.74" height="3.68" fill="#5e86a3"/><rect x="434.71" y="444.96" width="3.74" height="3.68" fill="#ffffff"/><rect x="438.39" y="444.96" width="3.74" height="3.68" fill="#1d4a6b"/><rect x="442.07" y="444.96" width="3.74" height="3.68" fill="#ffffff"/><rect x="445.75" y="444.96" width="3.74" height="3.68" fill="#e9f0f5"/><rect x="449.43" y="444.96" width="3.74" height="3.68" fill="#ffffff"/><rect x="453.11" y="444.96" width="3.74" height="3.68" fill="#e8735e"/><rect x="456.79" y="444.96" width="3.74" height="3.68" fill="#e9f0f5"/><rect x="460.47" y="444.96" width="3.74" height="3.68" fill="#cddbe6"/><rect x="464.15" y="444.96" width="3.74" height="3.68" fill="#1d4a6b"/><rect x="467.83" y="444.96" width="3.74" height="3.68" fill="#ffffff"/><rect x="434.71" y="448.58" width="3.74" height="3.68" fill="#ffffff"/><rect x="438.39" y="448.58" width="3.74" height="3.68" fill="#e8735e"/><rect x="442.07" y="448.58" width="3.74" height="3.68" fill="#5e86a3"/><rect x="445.75" y="448.58" width="3.74" height="3.68" fill="#f7d2ca"/><rect x="449.43" y="448.58" width="3.74" height="3.68" fill="#e9f0f5"/><rect x="453.11" y="448.58" width="3.74" height="3.68" fill="#f7d2ca"/><rect x="456.79" y="448.58" width="3.74" height="3.68" fill="#cddbe6"/><rect x="460.47" y="448.58" width="3.74" height="3.68" fill="#5e86a3"/><rect x="464.15" y="448.58" width="3.74" height="3.68" fill="#ffffff"/><rect x="467.83" y="448.58" width="3.74" height="3.68" fill="#1d4a6b"/><rect x="434.71" y="416.0" width="36.8" height="36.2" fill="none" stroke="#333" stroke-width="0.7"/>
<rect x="432.54" y="418.40" width="3.74" height="3.68" fill="#1d4a6b"/><rect x="436.22" y="418.40" width="3.74" height="3.68" fill="#e9f0f5"/><rect x="439.90" y="418.40" width="3.74" height="3.68" fill="#f7d2ca"/><rect x="443.58" y="418.40" width="3.74" height="3.68" fill="#e9f0f5"/><rect x="447.26" y="418.40" width="3.74" height="3.68" fill="#e8735e"/><rect x="450.94" y="418.40" width="3.74" height="3.68" fill="#f7d2ca"/><rect x="454.62" y="418.40" width="3.74" height="3.68" fill="#1d4a6b"/><rect x="458.30" y="418.40" width="3.74" height="3.68" fill="#cddbe6"/><rect x="461.98" y="418.40" width="3.74" height="3.68" fill="#f0a797"/><rect x="465.66" y="418.40" width="3.74" height="3.68" fill="#ffffff"/><rect x="432.54" y="422.02" width="3.74" height="3.68" fill="#e9f0f5"/><rect x="436.22" y="422.02" width="3.74" height="3.68" fill="#1d4a6b"/><rect x="439.90" y="422.02" width="3.74" height="3.68" fill="#e8735e"/><rect x="443.58" y="422.02" width="3.74" height="3.68" fill="#e9f0f5"/><rect x="447.26" y="422.02" width="3.74" height="3.68" fill="#5e86a3"/><rect x="450.94" y="422.02" width="3.74" height="3.68" fill="#ffffff"/><rect x="454.62" y="422.02" width="3.74" height="3.68" fill="#f7d2ca"/><rect x="458.30" y="422.02" width="3.74" height="3.68" fill="#cddbe6"/><rect x="461.98" y="422.02" width="3.74" height="3.68" fill="#5e86a3"/><rect x="465.66" y="422.02" width="3.74" height="3.68" fill="#e9f0f5"/><rect x="432.54" y="425.64" width="3.74" height="3.68" fill="#f7d2ca"/><rect x="436.22" y="425.64" width="3.74" height="3.68" fill="#e8735e"/><rect x="439.90" y="425.64" width="3.74" height="3.68" fill="#1d4a6b"/><rect x="443.58" y="425.64" width="3.74" height="3.68" fill="#e8735e"/><rect x="447.26" y="425.64" width="3.74" height="3.68" fill="#ffffff"/><rect x="450.94" y="425.64" width="3.74" height="3.68" fill="#9fbbcf"/><rect x="454.62" y="425.64" width="3.74" height="3.68" fill="#cddbe6"/><rect x="458.30" y="425.64" width="3.74" height="3.68" fill="#5e86a3"/><rect x="461.98" y="425.64" width="3.74" height="3.68" fill="#5e86a3"/><rect x="465.66" y="425.64" width="3.74" height="3.68" fill="#f7d2ca"/><rect x="432.54" y="429.26" width="3.74" height="3.68" fill="#e9f0f5"/><rect x="436.22" y="429.26" width="3.74" height="3.68" fill="#e9f0f5"/><rect x="439.90" y="429.26" width="3.74" height="3.68" fill="#e8735e"/><rect x="443.58" y="429.26" width="3.74" height="3.68" fill="#1d4a6b"/><rect x="447.26" y="429.26" width="3.74" height="3.68" fill="#cddbe6"/><rect x="450.94" y="429.26" width="3.74" height="3.68" fill="#ffffff"/><rect x="454.62" y="429.26" width="3.74" height="3.68" fill="#e9f0f5"/><rect x="458.30" y="429.26" width="3.74" height="3.68" fill="#cddbe6"/><rect x="461.98" y="429.26" width="3.74" height="3.68" fill="#ffffff"/><rect x="465.66" y="429.26" width="3.74" height="3.68" fill="#9fbbcf"/><rect x="432.54" y="432.88" width="3.74" height="3.68" fill="#e8735e"/><rect x="436.22" y="432.88" width="3.74" height="3.68" fill="#5e86a3"/><rect x="439.90" y="432.88" width="3.74" height="3.68" fill="#ffffff"/><rect x="443.58" y="432.88" width="3.74" height="3.68" fill="#cddbe6"/><rect x="447.26" y="432.88" width="3.74" height="3.68" fill="#1d4a6b"/><rect x="450.94" y="432.88" width="3.74" height="3.68" fill="#ffffff"/><rect x="454.62" y="432.88" width="3.74" height="3.68" fill="#9fbbcf"/><rect x="458.30" y="432.88" width="3.74" height="3.68" fill="#e9f0f5"/><rect x="461.98" y="432.88" width="3.74" height="3.68" fill="#cddbe6"/><rect x="465.66" y="432.88" width="3.74" height="3.68" fill="#cddbe6"/><rect x="432.54" y="436.50" width="3.74" height="3.68" fill="#f7d2ca"/><rect x="436.22" y="436.50" width="3.74" height="3.68" fill="#ffffff"/><rect x="439.90" y="436.50" width="3.74" height="3.68" fill="#9fbbcf"/><rect x="443.58" y="436.50" width="3.74" height="3.68" fill="#ffffff"/><rect x="447.26" y="436.50" width="3.74" height="3.68" fill="#ffffff"/><rect x="450.94" y="436.50" width="3.74" height="3.68" fill="#1d4a6b"/><rect x="454.62" y="436.50" width="3.74" height="3.68" fill="#e8735e"/><rect x="458.30" y="436.50" width="3.74" height="3.68" fill="#f7d2ca"/><rect x="461.98" y="436.50" width="3.74" height="3.68" fill="#e9f0f5"/><rect x="465.66" y="436.50" width="3.74" height="3.68" fill="#f0a797"/><rect x="432.54" y="440.12" width="3.74" height="3.68" fill="#1d4a6b"/><rect x="436.22" y="440.12" width="3.74" height="3.68" fill="#f7d2ca"/><rect x="439.90" y="440.12" width="3.74" height="3.68" fill="#cddbe6"/><rect x="443.58" y="440.12" width="3.74" height="3.68" fill="#e9f0f5"/><rect x="447.26" y="440.12" width="3.74" height="3.68" fill="#9fbbcf"/><rect x="450.94" y="440.12" width="3.74" height="3.68" fill="#e8735e"/><rect x="454.62" y="440.12" width="3.74" height="3.68" fill="#1d4a6b"/><rect x="458.30" y="440.12" width="3.74" height="3.68" fill="#cddbe6"/><rect x="461.98" y="440.12" width="3.74" height="3.68" fill="#e9f0f5"/><rect x="465.66" y="440.12" width="3.74" height="3.68" fill="#f7d2ca"/><rect x="432.54" y="443.74" width="3.74" height="3.68" fill="#cddbe6"/><rect x="436.22" y="443.74" width="3.74" height="3.68" fill="#cddbe6"/><rect x="439.90" y="443.74" width="3.74" height="3.68" fill="#5e86a3"/><rect x="443.58" y="443.74" width="3.74" height="3.68" fill="#cddbe6"/><rect x="447.26" y="443.74" width="3.74" height="3.68" fill="#e9f0f5"/><rect x="450.94" y="443.74" width="3.74" height="3.68" fill="#f7d2ca"/><rect x="454.62" y="443.74" width="3.74" height="3.68" fill="#cddbe6"/><rect x="458.30" y="443.74" width="3.74" height="3.68" fill="#1d4a6b"/><rect x="461.98" y="443.74" width="3.74" height="3.68" fill="#ffffff"/><rect x="465.66" y="443.74" width="3.74" height="3.68" fill="#5e86a3"/><rect x="432.54" y="447.36" width="3.74" height="3.68" fill="#f0a797"/><rect x="436.22" y="447.36" width="3.74" height="3.68" fill="#5e86a3"/><rect x="439.90" y="447.36" width="3.74" height="3.68" fill="#5e86a3"/><rect x="443.58" y="447.36" width="3.74" height="3.68" fill="#ffffff"/><rect x="447.26" y="447.36" width="3.74" height="3.68" fill="#cddbe6"/><rect x="450.94" y="447.36" width="3.74" height="3.68" fill="#e9f0f5"/><rect x="454.62" y="447.36" width="3.74" height="3.68" fill="#e9f0f5"/><rect x="458.30" y="447.36" width="3.74" height="3.68" fill="#ffffff"/><rect x="461.98" y="447.36" width="3.74" height="3.68" fill="#1d4a6b"/><rect x="465.66" y="447.36" width="3.74" height="3.68" fill="#e8735e"/><rect x="432.54" y="450.98" width="3.74" height="3.68" fill="#ffffff"/><rect x="436.22" y="450.98" width="3.74" height="3.68" fill="#e9f0f5"/><rect x="439.90" y="450.98" width="3.74" height="3.68" fill="#f7d2ca"/><rect x="443.58" y="450.98" width="3.74" height="3.68" fill="#9fbbcf"/><rect x="447.26" y="450.98" width="3.74" height="3.68" fill="#cddbe6"/><rect x="450.94" y="450.98" width="3.74" height="3.68" fill="#f0a797"/><rect x="454.62" y="450.98" width="3.74" height="3.68" fill="#f7d2ca"/><rect x="458.30" y="450.98" width="3.74" height="3.68" fill="#5e86a3"/><rect x="461.98" y="450.98" width="3.74" height="3.68" fill="#e8735e"/><rect x="465.66" y="450.98" width="3.74" height="3.68" fill="#1d4a6b"/><rect x="432.53999999999996" y="418.4" width="36.8" height="36.2" fill="none" stroke="#333" stroke-width="0.7"/>
<rect x="430.37" y="420.80" width="3.74" height="3.68" fill="#1d4a6b"/><rect x="434.05" y="420.80" width="3.74" height="3.68" fill="#cddbe6"/><rect x="437.73" y="420.80" width="3.74" height="3.68" fill="#cddbe6"/><rect x="441.41" y="420.80" width="3.74" height="3.68" fill="#f7d2ca"/><rect x="445.09" y="420.80" width="3.74" height="3.68" fill="#e9f0f5"/><rect x="448.77" y="420.80" width="3.74" height="3.68" fill="#e9f0f5"/><rect x="452.45" y="420.80" width="3.74" height="3.68" fill="#5e86a3"/><rect x="456.13" y="420.80" width="3.74" height="3.68" fill="#5e86a3"/><rect x="459.81" y="420.80" width="3.74" height="3.68" fill="#ffffff"/><rect x="463.49" y="420.80" width="3.74" height="3.68" fill="#cddbe6"/><rect x="430.37" y="424.42" width="3.74" height="3.68" fill="#cddbe6"/><rect x="434.05" y="424.42" width="3.74" height="3.68" fill="#1d4a6b"/><rect x="437.73" y="424.42" width="3.74" height="3.68" fill="#ffffff"/><rect x="441.41" y="424.42" width="3.74" height="3.68" fill="#e9f0f5"/><rect x="445.09" y="424.42" width="3.74" height="3.68" fill="#e9f0f5"/><rect x="448.77" y="424.42" width="3.74" height="3.68" fill="#e8735e"/><rect x="452.45" y="424.42" width="3.74" height="3.68" fill="#ffffff"/><rect x="456.13" y="424.42" width="3.74" height="3.68" fill="#ffffff"/><rect x="459.81" y="424.42" width="3.74" height="3.68" fill="#f7d2ca"/><rect x="463.49" y="424.42" width="3.74" height="3.68" fill="#cddbe6"/><rect x="430.37" y="428.04" width="3.74" height="3.68" fill="#cddbe6"/><rect x="434.05" y="428.04" width="3.74" height="3.68" fill="#ffffff"/><rect x="437.73" y="428.04" width="3.74" height="3.68" fill="#1d4a6b"/><rect x="441.41" y="428.04" width="3.74" height="3.68" fill="#9fbbcf"/><rect x="445.09" y="428.04" width="3.74" height="3.68" fill="#f0a797"/><rect x="448.77" y="428.04" width="3.74" height="3.68" fill="#f7d2ca"/><rect x="452.45" y="428.04" width="3.74" height="3.68" fill="#cddbe6"/><rect x="456.13" y="428.04" width="3.74" height="3.68" fill="#cddbe6"/><rect x="459.81" y="428.04" width="3.74" height="3.68" fill="#ffffff"/><rect x="463.49" y="428.04" width="3.74" height="3.68" fill="#e8735e"/><rect x="430.37" y="431.66" width="3.74" height="3.68" fill="#f7d2ca"/><rect x="434.05" y="431.66" width="3.74" height="3.68" fill="#e9f0f5"/><rect x="437.73" y="431.66" width="3.74" height="3.68" fill="#9fbbcf"/><rect x="441.41" y="431.66" width="3.74" height="3.68" fill="#1d4a6b"/><rect x="445.09" y="431.66" width="3.74" height="3.68" fill="#cddbe6"/><rect x="448.77" y="431.66" width="3.74" height="3.68" fill="#e8735e"/><rect x="452.45" y="431.66" width="3.74" height="3.68" fill="#f0a797"/><rect x="456.13" y="431.66" width="3.74" height="3.68" fill="#ffffff"/><rect x="459.81" y="431.66" width="3.74" height="3.68" fill="#e9f0f5"/><rect x="463.49" y="431.66" width="3.74" height="3.68" fill="#5e86a3"/><rect x="430.37" y="435.28" width="3.74" height="3.68" fill="#e9f0f5"/><rect x="434.05" y="435.28" width="3.74" height="3.68" fill="#e9f0f5"/><rect x="437.73" y="435.28" width="3.74" height="3.68" fill="#f0a797"/><rect x="441.41" y="435.28" width="3.74" height="3.68" fill="#cddbe6"/><rect x="445.09" y="435.28" width="3.74" height="3.68" fill="#1d4a6b"/><rect x="448.77" y="435.28" width="3.74" height="3.68" fill="#1d4a6b"/><rect x="452.45" y="435.28" width="3.74" height="3.68" fill="#e8735e"/><rect x="456.13" y="435.28" width="3.74" height="3.68" fill="#cddbe6"/><rect x="459.81" y="435.28" width="3.74" height="3.68" fill="#ffffff"/><rect x="463.49" y="435.28" width="3.74" height="3.68" fill="#cddbe6"/><rect x="430.37" y="438.90" width="3.74" height="3.68" fill="#e9f0f5"/><rect x="434.05" y="438.90" width="3.74" height="3.68" fill="#e8735e"/><rect x="437.73" y="438.90" width="3.74" height="3.68" fill="#f7d2ca"/><rect x="441.41" y="438.90" width="3.74" height="3.68" fill="#e8735e"/><rect x="445.09" y="438.90" width="3.74" height="3.68" fill="#1d4a6b"/><rect x="448.77" y="438.90" width="3.74" height="3.68" fill="#1d4a6b"/><rect x="452.45" y="438.90" width="3.74" height="3.68" fill="#f7d2ca"/><rect x="456.13" y="438.90" width="3.74" height="3.68" fill="#ffffff"/><rect x="459.81" y="438.90" width="3.74" height="3.68" fill="#e9f0f5"/><rect x="463.49" y="438.90" width="3.74" height="3.68" fill="#9fbbcf"/><rect x="430.37" y="442.52" width="3.74" height="3.68" fill="#5e86a3"/><rect x="434.05" y="442.52" width="3.74" height="3.68" fill="#ffffff"/><rect x="437.73" y="442.52" width="3.74" height="3.68" fill="#cddbe6"/><rect x="441.41" y="442.52" width="3.74" height="3.68" fill="#f0a797"/><rect x="445.09" y="442.52" width="3.74" height="3.68" fill="#e8735e"/><rect x="448.77" y="442.52" width="3.74" height="3.68" fill="#f7d2ca"/><rect x="452.45" y="442.52" width="3.74" height="3.68" fill="#1d4a6b"/><rect x="456.13" y="442.52" width="3.74" height="3.68" fill="#ffffff"/><rect x="459.81" y="442.52" width="3.74" height="3.68" fill="#5e86a3"/><rect x="463.49" y="442.52" width="3.74" height="3.68" fill="#cddbe6"/><rect x="430.37" y="446.14" width="3.74" height="3.68" fill="#5e86a3"/><rect x="434.05" y="446.14" width="3.74" height="3.68" fill="#ffffff"/><rect x="437.73" y="446.14" width="3.74" height="3.68" fill="#cddbe6"/><rect x="441.41" y="446.14" width="3.74" height="3.68" fill="#ffffff"/><rect x="445.09" y="446.14" width="3.74" height="3.68" fill="#cddbe6"/><rect x="448.77" y="446.14" width="3.74" height="3.68" fill="#ffffff"/><rect x="452.45" y="446.14" width="3.74" height="3.68" fill="#ffffff"/><rect x="456.13" y="446.14" width="3.74" height="3.68" fill="#1d4a6b"/><rect x="459.81" y="446.14" width="3.74" height="3.68" fill="#ffffff"/><rect x="463.49" y="446.14" width="3.74" height="3.68" fill="#f7d2ca"/><rect x="430.37" y="449.76" width="3.74" height="3.68" fill="#ffffff"/><rect x="434.05" y="449.76" width="3.74" height="3.68" fill="#f7d2ca"/><rect x="437.73" y="449.76" width="3.74" height="3.68" fill="#ffffff"/><rect x="441.41" y="449.76" width="3.74" height="3.68" fill="#e9f0f5"/><rect x="445.09" y="449.76" width="3.74" height="3.68" fill="#ffffff"/><rect x="448.77" y="449.76" width="3.74" height="3.68" fill="#e9f0f5"/><rect x="452.45" y="449.76" width="3.74" height="3.68" fill="#5e86a3"/><rect x="456.13" y="449.76" width="3.74" height="3.68" fill="#ffffff"/><rect x="459.81" y="449.76" width="3.74" height="3.68" fill="#1d4a6b"/><rect x="463.49" y="449.76" width="3.74" height="3.68" fill="#ffffff"/><rect x="430.37" y="453.38" width="3.74" height="3.68" fill="#cddbe6"/><rect x="434.05" y="453.38" width="3.74" height="3.68" fill="#cddbe6"/><rect x="437.73" y="453.38" width="3.74" height="3.68" fill="#e8735e"/><rect x="441.41" y="453.38" width="3.74" height="3.68" fill="#5e86a3"/><rect x="445.09" y="453.38" width="3.74" height="3.68" fill="#cddbe6"/><rect x="448.77" y="453.38" width="3.74" height="3.68" fill="#9fbbcf"/><rect x="452.45" y="453.38" width="3.74" height="3.68" fill="#cddbe6"/><rect x="456.13" y="453.38" width="3.74" height="3.68" fill="#f7d2ca"/><rect x="459.81" y="453.38" width="3.74" height="3.68" fill="#ffffff"/><rect x="463.49" y="453.38" width="3.74" height="3.68" fill="#1d4a6b"/><rect x="430.37" y="420.8" width="36.8" height="36.2" fill="none" stroke="#333" stroke-width="0.7"/>
<rect x="428.20" y="423.20" width="3.74" height="3.68" fill="#1d4a6b"/><rect x="431.88" y="423.20" width="3.74" height="3.68" fill="#cddbe6"/><rect x="435.56" y="423.20" width="3.74" height="3.68" fill="#f0a797"/><rect x="439.24" y="423.20" width="3.74" height="3.68" fill="#cddbe6"/><rect x="442.92" y="423.20" width="3.74" height="3.68" fill="#1d4a6b"/><rect x="446.60" y="423.20" width="3.74" height="3.68" fill="#cddbe6"/><rect x="450.28" y="423.20" width="3.74" height="3.68" fill="#e9f0f5"/><rect x="453.96" y="423.20" width="3.74" height="3.68" fill="#5e86a3"/><rect x="457.64" y="423.20" width="3.74" height="3.68" fill="#9fbbcf"/><rect x="461.32" y="423.20" width="3.74" height="3.68" fill="#e9f0f5"/><rect x="428.20" y="426.82" width="3.74" height="3.68" fill="#cddbe6"/><rect x="431.88" y="426.82" width="3.74" height="3.68" fill="#1d4a6b"/><rect x="435.56" y="426.82" width="3.74" height="3.68" fill="#ffffff"/><rect x="439.24" y="426.82" width="3.74" height="3.68" fill="#9fbbcf"/><rect x="442.92" y="426.82" width="3.74" height="3.68" fill="#e9f0f5"/><rect x="446.60" y="426.82" width="3.74" height="3.68" fill="#f0a797"/><rect x="450.28" y="426.82" width="3.74" height="3.68" fill="#e8735e"/><rect x="453.96" y="426.82" width="3.74" height="3.68" fill="#ffffff"/><rect x="457.64" y="426.82" width="3.74" height="3.68" fill="#ffffff"/><rect x="461.32" y="426.82" width="3.74" height="3.68" fill="#ffffff"/><rect x="428.20" y="430.44" width="3.74" height="3.68" fill="#f0a797"/><rect x="431.88" y="430.44" width="3.74" height="3.68" fill="#ffffff"/><rect x="435.56" y="430.44" width="3.74" height="3.68" fill="#1d4a6b"/><rect x="439.24" y="430.44" width="3.74" height="3.68" fill="#9fbbcf"/><rect x="442.92" y="430.44" width="3.74" height="3.68" fill="#1d4a6b"/><rect x="446.60" y="430.44" width="3.74" height="3.68" fill="#1d4a6b"/><rect x="450.28" y="430.44" width="3.74" height="3.68" fill="#f0a797"/><rect x="453.96" y="430.44" width="3.74" height="3.68" fill="#ffffff"/><rect x="457.64" y="430.44" width="3.74" height="3.68" fill="#e8735e"/><rect x="461.32" y="430.44" width="3.74" height="3.68" fill="#1d4a6b"/><rect x="428.20" y="434.06" width="3.74" height="3.68" fill="#cddbe6"/><rect x="431.88" y="434.06" width="3.74" height="3.68" fill="#9fbbcf"/><rect x="435.56" y="434.06" width="3.74" height="3.68" fill="#9fbbcf"/><rect x="439.24" y="434.06" width="3.74" height="3.68" fill="#1d4a6b"/><rect x="442.92" y="434.06" width="3.74" height="3.68" fill="#ffffff"/><rect x="446.60" y="434.06" width="3.74" height="3.68" fill="#ffffff"/><rect x="450.28" y="434.06" width="3.74" height="3.68" fill="#ffffff"/><rect x="453.96" y="434.06" width="3.74" height="3.68" fill="#e9f0f5"/><rect x="457.64" y="434.06" width="3.74" height="3.68" fill="#e8735e"/><rect x="461.32" y="434.06" width="3.74" height="3.68" fill="#5e86a3"/><rect x="428.20" y="437.68" width="3.74" height="3.68" fill="#1d4a6b"/><rect x="431.88" y="437.68" width="3.74" height="3.68" fill="#e9f0f5"/><rect x="435.56" y="437.68" width="3.74" height="3.68" fill="#1d4a6b"/><rect x="439.24" y="437.68" width="3.74" height="3.68" fill="#ffffff"/><rect x="442.92" y="437.68" width="3.74" height="3.68" fill="#1d4a6b"/><rect x="446.60" y="437.68" width="3.74" height="3.68" fill="#ffffff"/><rect x="450.28" y="437.68" width="3.74" height="3.68" fill="#ffffff"/><rect x="453.96" y="437.68" width="3.74" height="3.68" fill="#f0a797"/><rect x="457.64" y="437.68" width="3.74" height="3.68" fill="#ffffff"/><rect x="461.32" y="437.68" width="3.74" height="3.68" fill="#ffffff"/><rect x="428.20" y="441.30" width="3.74" height="3.68" fill="#cddbe6"/><rect x="431.88" y="441.30" width="3.74" height="3.68" fill="#f0a797"/><rect x="435.56" y="441.30" width="3.74" height="3.68" fill="#1d4a6b"/><rect x="439.24" y="441.30" width="3.74" height="3.68" fill="#ffffff"/><rect x="442.92" y="441.30" width="3.74" height="3.68" fill="#ffffff"/><rect x="446.60" y="441.30" width="3.74" height="3.68" fill="#1d4a6b"/><rect x="450.28" y="441.30" width="3.74" height="3.68" fill="#f7d2ca"/><rect x="453.96" y="441.30" width="3.74" height="3.68" fill="#f0a797"/><rect x="457.64" y="441.30" width="3.74" height="3.68" fill="#e9f0f5"/><rect x="461.32" y="441.30" width="3.74" height="3.68" fill="#ffffff"/><rect x="428.20" y="444.92" width="3.74" height="3.68" fill="#e9f0f5"/><rect x="431.88" y="444.92" width="3.74" height="3.68" fill="#e8735e"/><rect x="435.56" y="444.92" width="3.74" height="3.68" fill="#f0a797"/><rect x="439.24" y="444.92" width="3.74" height="3.68" fill="#ffffff"/><rect x="442.92" y="444.92" width="3.74" height="3.68" fill="#ffffff"/><rect x="446.60" y="444.92" width="3.74" height="3.68" fill="#f7d2ca"/><rect x="450.28" y="444.92" width="3.74" height="3.68" fill="#1d4a6b"/><rect x="453.96" y="444.92" width="3.74" height="3.68" fill="#f0a797"/><rect x="457.64" y="444.92" width="3.74" height="3.68" fill="#f7d2ca"/><rect x="461.32" y="444.92" width="3.74" height="3.68" fill="#e9f0f5"/><rect x="428.20" y="448.54" width="3.74" height="3.68" fill="#5e86a3"/><rect x="431.88" y="448.54" width="3.74" height="3.68" fill="#ffffff"/><rect x="435.56" y="448.54" width="3.74" height="3.68" fill="#ffffff"/><rect x="439.24" y="448.54" width="3.74" height="3.68" fill="#e9f0f5"/><rect x="442.92" y="448.54" width="3.74" height="3.68" fill="#f0a797"/><rect x="446.60" y="448.54" width="3.74" height="3.68" fill="#f0a797"/><rect x="450.28" y="448.54" width="3.74" height="3.68" fill="#f0a797"/><rect x="453.96" y="448.54" width="3.74" height="3.68" fill="#1d4a6b"/><rect x="457.64" y="448.54" width="3.74" height="3.68" fill="#f7d2ca"/><rect x="461.32" y="448.54" width="3.74" height="3.68" fill="#f7d2ca"/><rect x="428.20" y="452.16" width="3.74" height="3.68" fill="#9fbbcf"/><rect x="431.88" y="452.16" width="3.74" height="3.68" fill="#ffffff"/><rect x="435.56" y="452.16" width="3.74" height="3.68" fill="#e8735e"/><rect x="439.24" y="452.16" width="3.74" height="3.68" fill="#e8735e"/><rect x="442.92" y="452.16" width="3.74" height="3.68" fill="#ffffff"/><rect x="446.60" y="452.16" width="3.74" height="3.68" fill="#e9f0f5"/><rect x="450.28" y="452.16" width="3.74" height="3.68" fill="#f7d2ca"/><rect x="453.96" y="452.16" width="3.74" height="3.68" fill="#f7d2ca"/><rect x="457.64" y="452.16" width="3.74" height="3.68" fill="#1d4a6b"/><rect x="461.32" y="452.16" width="3.74" height="3.68" fill="#ffffff"/><rect x="428.20" y="455.78" width="3.74" height="3.68" fill="#e9f0f5"/><rect x="431.88" y="455.78" width="3.74" height="3.68" fill="#ffffff"/><rect x="435.56" y="455.78" width="3.74" height="3.68" fill="#1d4a6b"/><rect x="439.24" y="455.78" width="3.74" height="3.68" fill="#5e86a3"/><rect x="442.92" y="455.78" width="3.74" height="3.68" fill="#ffffff"/><rect x="446.60" y="455.78" width="3.74" height="3.68" fill="#ffffff"/><rect x="450.28" y="455.78" width="3.74" height="3.68" fill="#e9f0f5"/><rect x="453.96" y="455.78" width="3.74" height="3.68" fill="#f7d2ca"/><rect x="457.64" y="455.78" width="3.74" height="3.68" fill="#ffffff"/><rect x="461.32" y="455.78" width="3.74" height="3.68" fill="#1d4a6b"/><rect x="428.2" y="423.2" width="36.8" height="36.2" fill="none" stroke="#222" stroke-width="0.9"/>
<rect x="476.0" y="429.1" width="24" height="18.4" fill="#fdf0cc"/>
<text x="488.4" y="441.6" font-size="9.2" fill="#111" text-anchor="middle" textLength="15.2" lengthAdjust="spacingAndGlyphs" >PCA</text>
<rect x="505" y="415.20" width="12" height="1.59" fill="#4f6f88"/><rect x="505" y="416.74" width="12" height="1.59" fill="#f6c4ba"/><rect x="505" y="418.29" width="12" height="1.59" fill="#f0a293"/><rect x="505" y="419.83" width="12" height="1.59" fill="#f0a293"/><rect x="505" y="421.37" width="12" height="1.59" fill="#ffffff"/><rect x="505" y="422.92" width="12" height="1.59" fill="#f0a293"/><rect x="505" y="424.46" width="12" height="1.59" fill="#6d8ea6"/><rect x="505" y="426.00" width="12" height="1.59" fill="#c3d3df"/><rect x="505" y="427.55" width="12" height="1.59" fill="#e8806c"/><rect x="505" y="429.09" width="12" height="1.59" fill="#f6c4ba"/><rect x="505" y="430.63" width="12" height="1.59" fill="#e8806c"/><rect x="505" y="432.18" width="12" height="1.59" fill="#f0a293"/><rect x="505" y="433.72" width="12" height="1.59" fill="#f6c4ba"/><rect x="505" y="435.26" width="12" height="1.59" fill="#e6edf2"/><rect x="505" y="436.81" width="12" height="1.59" fill="#ffffff"/><rect x="505" y="438.35" width="12" height="1.59" fill="#e8806c"/><rect x="505" y="439.89" width="12" height="1.59" fill="#ffffff"/><rect x="505" y="441.44" width="12" height="1.59" fill="#f0a293"/><rect x="505" y="442.98" width="12" height="1.59" fill="#f6c4ba"/><rect x="505" y="444.52" width="12" height="1.59" fill="#fbe3de"/><rect x="505" y="446.07" width="12" height="1.59" fill="#e8806c"/><rect x="505" y="447.61" width="12" height="1.59" fill="#f6c4ba"/><rect x="505" y="449.15" width="12" height="1.59" fill="#f0a293"/><rect x="505" y="450.70" width="12" height="1.59" fill="#c3d3df"/><rect x="505" y="452.24" width="12" height="1.59" fill="#fbe3de"/><rect x="505" y="453.78" width="12" height="1.59" fill="#ffffff"/><rect x="505" y="455.33" width="12" height="1.59" fill="#fbe3de"/><rect x="505" y="456.87" width="12" height="1.59" fill="#f0a293"/><rect x="505" y="458.41" width="12" height="1.59" fill="#fbe3de"/><rect x="505" y="459.96" width="12" height="1.59" fill="#ffffff"/><rect x="505" y="415.2" width="12" height="46.3" fill="none" stroke="#444" stroke-width="0.9"/>
<rect x="591.3" y="414.60" width="12" height="1.62" fill="#4f6f88"/><rect x="591.3" y="416.17" width="12" height="1.62" fill="#f0a293"/><rect x="591.3" y="417.73" width="12" height="1.62" fill="#f6c4ba"/><rect x="591.3" y="419.30" width="12" height="1.62" fill="#c3d3df"/><rect x="591.3" y="420.87" width="12" height="1.62" fill="#fbe3de"/><rect x="591.3" y="422.43" width="12" height="1.62" fill="#f0a293"/><rect x="591.3" y="424.00" width="12" height="1.62" fill="#ffffff"/><rect x="591.3" y="425.57" width="12" height="1.62" fill="#f6c4ba"/><rect x="591.3" y="427.13" width="12" height="1.62" fill="#e6edf2"/><rect x="591.3" y="428.70" width="12" height="1.62" fill="#c3d3df"/><rect x="591.3" y="430.27" width="12" height="1.62" fill="#c3d3df"/><rect x="591.3" y="431.83" width="12" height="1.62" fill="#f6c4ba"/><rect x="591.3" y="433.40" width="12" height="1.62" fill="#f0a293"/><rect x="591.3" y="434.97" width="12" height="1.62" fill="#fbe3de"/><rect x="591.3" y="436.53" width="12" height="1.62" fill="#ffffff"/><rect x="591.3" y="438.10" width="12" height="1.62" fill="#f6c4ba"/><rect x="591.3" y="439.67" width="12" height="1.62" fill="#e6edf2"/><rect x="591.3" y="441.23" width="12" height="1.62" fill="#e6edf2"/><rect x="591.3" y="442.80" width="12" height="1.62" fill="#e8806c"/><rect x="591.3" y="444.37" width="12" height="1.62" fill="#6d8ea6"/><rect x="591.3" y="445.93" width="12" height="1.62" fill="#fbe3de"/><rect x="591.3" y="447.50" width="12" height="1.62" fill="#ffffff"/><rect x="591.3" y="449.07" width="12" height="1.62" fill="#f6c4ba"/><rect x="591.3" y="450.63" width="12" height="1.62" fill="#fbe3de"/><rect x="591.3" y="452.20" width="12" height="1.62" fill="#fbe3de"/><rect x="591.3" y="453.77" width="12" height="1.62" fill="#f6c4ba"/><rect x="591.3" y="455.33" width="12" height="1.62" fill="#f0a293"/><rect x="591.3" y="456.90" width="12" height="1.62" fill="#f6c4ba"/><rect x="591.3" y="458.47" width="12" height="1.62" fill="#fbe3de"/><rect x="591.3" y="460.03" width="12" height="1.62" fill="#e6edf2"/><rect x="591.3" y="414.6" width="12" height="47.0" fill="none" stroke="#444" stroke-width="0.9"/>
<rect x="607.3" y="430.0" width="23.9" height="18.6" fill="#fdf0cc"/>
<text x="619.3" y="442.5" font-size="9.2" fill="#111" text-anchor="middle" textLength="15.2" lengthAdjust="spacingAndGlyphs" >PCA</text>
<rect x="642.01" y="414.41" width="3.80" height="3.78" fill="#1d4a6b"/><rect x="645.75" y="414.41" width="3.80" height="3.78" fill="#e8735e"/><rect x="649.49" y="414.41" width="3.80" height="3.78" fill="#e9f0f5"/><rect x="653.23" y="414.41" width="3.80" height="3.78" fill="#5e86a3"/><rect x="656.97" y="414.41" width="3.80" height="3.78" fill="#1d4a6b"/><rect x="660.71" y="414.41" width="3.80" height="3.78" fill="#f7d2ca"/><rect x="664.45" y="414.41" width="3.80" height="3.78" fill="#1d4a6b"/><rect x="668.19" y="414.41" width="3.80" height="3.78" fill="#ffffff"/><rect x="671.93" y="414.41" width="3.80" height="3.78" fill="#ffffff"/><rect x="675.67" y="414.41" width="3.80" height="3.78" fill="#e9f0f5"/><rect x="642.01" y="418.13" width="3.80" height="3.78" fill="#e8735e"/><rect x="645.75" y="418.13" width="3.80" height="3.78" fill="#1d4a6b"/><rect x="649.49" y="418.13" width="3.80" height="3.78" fill="#f7d2ca"/><rect x="653.23" y="418.13" width="3.80" height="3.78" fill="#1d4a6b"/><rect x="656.97" y="418.13" width="3.80" height="3.78" fill="#9fbbcf"/><rect x="660.71" y="418.13" width="3.80" height="3.78" fill="#e9f0f5"/><rect x="664.45" y="418.13" width="3.80" height="3.78" fill="#1d4a6b"/><rect x="668.19" y="418.13" width="3.80" height="3.78" fill="#f7d2ca"/><rect x="671.93" y="418.13" width="3.80" height="3.78" fill="#cddbe6"/><rect x="675.67" y="418.13" width="3.80" height="3.78" fill="#9fbbcf"/><rect x="642.01" y="421.85" width="3.80" height="3.78" fill="#e9f0f5"/><rect x="645.75" y="421.85" width="3.80" height="3.78" fill="#f7d2ca"/><rect x="649.49" y="421.85" width="3.80" height="3.78" fill="#1d4a6b"/><rect x="653.23" y="421.85" width="3.80" height="3.78" fill="#1d4a6b"/><rect x="656.97" y="421.85" width="3.80" height="3.78" fill="#ffffff"/><rect x="660.71" y="421.85" width="3.80" height="3.78" fill="#e9f0f5"/><rect x="664.45" y="421.85" width="3.80" height="3.78" fill="#ffffff"/><rect x="668.19" y="421.85" width="3.80" height="3.78" fill="#ffffff"/><rect x="671.93" y="421.85" width="3.80" height="3.78" fill="#f7d2ca"/><rect x="675.67" y="421.85" width="3.80" height="3.78" fill="#e8735e"/><rect x="642.01" y="425.57" width="3.80" height="3.78" fill="#5e86a3"/><rect x="645.75" y="425.57" width="3.80" height="3.78" fill="#1d4a6b"/><rect x="649.49" y="425.57" width="3.80" height="3.78" fill="#1d4a6b"/><rect x="653.23" y="425.57" width="3.80" height="3.78" fill="#1d4a6b"/><rect x="656.97" y="425.57" width="3.80" height="3.78" fill="#ffffff"/><rect x="660.71" y="425.57" width="3.80" height="3.78" fill="#cddbe6"/><rect x="664.45" y="425.57" width="3.80" height="3.78" fill="#ffffff"/><rect x="668.19" y="425.57" width="3.80" height="3.78" fill="#cddbe6"/><rect x="671.93" y="425.57" width="3.80" height="3.78" fill="#1d4a6b"/><rect x="675.67" y="425.57" width="3.80" height="3.78" fill="#ffffff"/><rect x="642.01" y="429.29" width="3.80" height="3.78" fill="#1d4a6b"/><rect x="645.75" y="429.29" width="3.80" height="3.78" fill="#9fbbcf"/><rect x="649.49" y="429.29" width="3.80" height="3.78" fill="#ffffff"/><rect x="653.23" y="429.29" width="3.80" height="3.78" fill="#ffffff"/><rect x="656.97" y="429.29" width="3.80" height="3.78" fill="#1d4a6b"/><rect x="660.71" y="429.29" width="3.80" height="3.78" fill="#ffffff"/><rect x="664.45" y="429.29" width="3.80" height="3.78" fill="#cddbe6"/><rect x="668.19" y="429.29" width="3.80" height="3.78" fill="#cddbe6"/><rect x="671.93" y="429.29" width="3.80" height="3.78" fill="#e9f0f5"/><rect x="675.67" y="429.29" width="3.80" height="3.78" fill="#ffffff"/><rect x="642.01" y="433.01" width="3.80" height="3.78" fill="#f7d2ca"/><rect x="645.75" y="433.01" width="3.80" height="3.78" fill="#e9f0f5"/><rect x="649.49" y="433.01" width="3.80" height="3.78" fill="#e9f0f5"/><rect x="653.23" y="433.01" width="3.80" height="3.78" fill="#cddbe6"/><rect x="656.97" y="433.01" width="3.80" height="3.78" fill="#ffffff"/><rect x="660.71" y="433.01" width="3.80" height="3.78" fill="#1d4a6b"/><rect x="664.45" y="433.01" width="3.80" height="3.78" fill="#ffffff"/><rect x="668.19" y="433.01" width="3.80" height="3.78" fill="#ffffff"/><rect x="671.93" y="433.01" width="3.80" height="3.78" fill="#ffffff"/><rect x="675.67" y="433.01" width="3.80" height="3.78" fill="#e9f0f5"/><rect x="642.01" y="436.73" width="3.80" height="3.78" fill="#1d4a6b"/><rect x="645.75" y="436.73" width="3.80" height="3.78" fill="#1d4a6b"/><rect x="649.49" y="436.73" width="3.80" height="3.78" fill="#ffffff"/><rect x="653.23" y="436.73" width="3.80" height="3.78" fill="#ffffff"/><rect x="656.97" y="436.73" width="3.80" height="3.78" fill="#cddbe6"/><rect x="660.71" y="436.73" width="3.80" height="3.78" fill="#ffffff"/><rect x="664.45" y="436.73" width="3.80" height="3.78" fill="#1d4a6b"/><rect x="668.19" y="436.73" width="3.80" height="3.78" fill="#f7d2ca"/><rect x="671.93" y="436.73" width="3.80" height="3.78" fill="#f0a797"/><rect x="675.67" y="436.73" width="3.80" height="3.78" fill="#5e86a3"/><rect x="642.01" y="440.45" width="3.80" height="3.78" fill="#ffffff"/><rect x="645.75" y="440.45" width="3.80" height="3.78" fill="#f7d2ca"/><rect x="649.49" y="440.45" width="3.80" height="3.78" fill="#ffffff"/><rect x="653.23" y="440.45" width="3.80" height="3.78" fill="#cddbe6"/><rect x="656.97" y="440.45" width="3.80" height="3.78" fill="#cddbe6"/><rect x="660.71" y="440.45" width="3.80" height="3.78" fill="#ffffff"/><rect x="664.45" y="440.45" width="3.80" height="3.78" fill="#f7d2ca"/><rect x="668.19" y="440.45" width="3.80" height="3.78" fill="#1d4a6b"/><rect x="671.93" y="440.45" width="3.80" height="3.78" fill="#f0a797"/><rect x="675.67" y="440.45" width="3.80" height="3.78" fill="#ffffff"/><rect x="642.01" y="444.17" width="3.80" height="3.78" fill="#ffffff"/><rect x="645.75" y="444.17" width="3.80" height="3.78" fill="#cddbe6"/><rect x="649.49" y="444.17" width="3.80" height="3.78" fill="#f7d2ca"/><rect x="653.23" y="444.17" width="3.80" height="3.78" fill="#1d4a6b"/><rect x="656.97" y="444.17" width="3.80" height="3.78" fill="#e9f0f5"/><rect x="660.71" y="444.17" width="3.80" height="3.78" fill="#ffffff"/><rect x="664.45" y="444.17" width="3.80" height="3.78" fill="#f0a797"/><rect x="668.19" y="444.17" width="3.80" height="3.78" fill="#f0a797"/><rect x="671.93" y="444.17" width="3.80" height="3.78" fill="#1d4a6b"/><rect x="675.67" y="444.17" width="3.80" height="3.78" fill="#9fbbcf"/><rect x="642.01" y="447.89" width="3.80" height="3.78" fill="#e9f0f5"/><rect x="645.75" y="447.89" width="3.80" height="3.78" fill="#9fbbcf"/><rect x="649.49" y="447.89" width="3.80" height="3.78" fill="#e8735e"/><rect x="653.23" y="447.89" width="3.80" height="3.78" fill="#ffffff"/><rect x="656.97" y="447.89" width="3.80" height="3.78" fill="#ffffff"/><rect x="660.71" y="447.89" width="3.80" height="3.78" fill="#e9f0f5"/><rect x="664.45" y="447.89" width="3.80" height="3.78" fill="#5e86a3"/><rect x="668.19" y="447.89" width="3.80" height="3.78" fill="#ffffff"/><rect x="671.93" y="447.89" width="3.80" height="3.78" fill="#9fbbcf"/><rect x="675.67" y="447.89" width="3.80" height="3.78" fill="#1d4a6b"/><rect x="642.01" y="414.41" width="37.4" height="37.2" fill="none" stroke="#333" stroke-width="0.7"/>
<rect x="639.74" y="416.64" width="3.80" height="3.78" fill="#1d4a6b"/><rect x="643.48" y="416.64" width="3.80" height="3.78" fill="#e9f0f5"/><rect x="647.22" y="416.64" width="3.80" height="3.78" fill="#ffffff"/><rect x="650.96" y="416.64" width="3.80" height="3.78" fill="#f0a797"/><rect x="654.70" y="416.64" width="3.80" height="3.78" fill="#e9f0f5"/><rect x="658.44" y="416.64" width="3.80" height="3.78" fill="#ffffff"/><rect x="662.18" y="416.64" width="3.80" height="3.78" fill="#f0a797"/><rect x="665.92" y="416.64" width="3.80" height="3.78" fill="#f7d2ca"/><rect x="669.66" y="416.64" width="3.80" height="3.78" fill="#e8735e"/><rect x="673.40" y="416.64" width="3.80" height="3.78" fill="#ffffff"/><rect x="639.74" y="420.36" width="3.80" height="3.78" fill="#e9f0f5"/><rect x="643.48" y="420.36" width="3.80" height="3.78" fill="#1d4a6b"/><rect x="647.22" y="420.36" width="3.80" height="3.78" fill="#ffffff"/><rect x="650.96" y="420.36" width="3.80" height="3.78" fill="#cddbe6"/><rect x="654.70" y="420.36" width="3.80" height="3.78" fill="#ffffff"/><rect x="658.44" y="420.36" width="3.80" height="3.78" fill="#f7d2ca"/><rect x="662.18" y="420.36" width="3.80" height="3.78" fill="#ffffff"/><rect x="665.92" y="420.36" width="3.80" height="3.78" fill="#ffffff"/><rect x="669.66" y="420.36" width="3.80" height="3.78" fill="#cddbe6"/><rect x="673.40" y="420.36" width="3.80" height="3.78" fill="#f0a797"/><rect x="639.74" y="424.08" width="3.80" height="3.78" fill="#ffffff"/><rect x="643.48" y="424.08" width="3.80" height="3.78" fill="#ffffff"/><rect x="647.22" y="424.08" width="3.80" height="3.78" fill="#1d4a6b"/><rect x="650.96" y="424.08" width="3.80" height="3.78" fill="#e8735e"/><rect x="654.70" y="424.08" width="3.80" height="3.78" fill="#e8735e"/><rect x="658.44" y="424.08" width="3.80" height="3.78" fill="#ffffff"/><rect x="662.18" y="424.08" width="3.80" height="3.78" fill="#f7d2ca"/><rect x="665.92" y="424.08" width="3.80" height="3.78" fill="#e9f0f5"/><rect x="669.66" y="424.08" width="3.80" height="3.78" fill="#f0a797"/><rect x="673.40" y="424.08" width="3.80" height="3.78" fill="#f7d2ca"/><rect x="639.74" y="427.80" width="3.80" height="3.78" fill="#f0a797"/><rect x="643.48" y="427.80" width="3.80" height="3.78" fill="#cddbe6"/><rect x="647.22" y="427.80" width="3.80" height="3.78" fill="#e8735e"/><rect x="650.96" y="427.80" width="3.80" height="3.78" fill="#1d4a6b"/><rect x="654.70" y="427.80" width="3.80" height="3.78" fill="#e9f0f5"/><rect x="658.44" y="427.80" width="3.80" height="3.78" fill="#5e86a3"/><rect x="662.18" y="427.80" width="3.80" height="3.78" fill="#e9f0f5"/><rect x="665.92" y="427.80" width="3.80" height="3.78" fill="#ffffff"/><rect x="669.66" y="427.80" width="3.80" height="3.78" fill="#ffffff"/><rect x="673.40" y="427.80" width="3.80" height="3.78" fill="#ffffff"/><rect x="639.74" y="431.52" width="3.80" height="3.78" fill="#e9f0f5"/><rect x="643.48" y="431.52" width="3.80" height="3.78" fill="#ffffff"/><rect x="647.22" y="431.52" width="3.80" height="3.78" fill="#e8735e"/><rect x="650.96" y="431.52" width="3.80" height="3.78" fill="#e9f0f5"/><rect x="654.70" y="431.52" width="3.80" height="3.78" fill="#1d4a6b"/><rect x="658.44" y="431.52" width="3.80" height="3.78" fill="#1d4a6b"/><rect x="662.18" y="431.52" width="3.80" height="3.78" fill="#f7d2ca"/><rect x="665.92" y="431.52" width="3.80" height="3.78" fill="#5e86a3"/><rect x="669.66" y="431.52" width="3.80" height="3.78" fill="#f7d2ca"/><rect x="673.40" y="431.52" width="3.80" height="3.78" fill="#9fbbcf"/><rect x="639.74" y="435.24" width="3.80" height="3.78" fill="#ffffff"/><rect x="643.48" y="435.24" width="3.80" height="3.78" fill="#f7d2ca"/><rect x="647.22" y="435.24" width="3.80" height="3.78" fill="#ffffff"/><rect x="650.96" y="435.24" width="3.80" height="3.78" fill="#5e86a3"/><rect x="654.70" y="435.24" width="3.80" height="3.78" fill="#1d4a6b"/><rect x="658.44" y="435.24" width="3.80" height="3.78" fill="#1d4a6b"/><rect x="662.18" y="435.24" width="3.80" height="3.78" fill="#e9f0f5"/><rect x="665.92" y="435.24" width="3.80" height="3.78" fill="#f7d2ca"/><rect x="669.66" y="435.24" width="3.80" height="3.78" fill="#9fbbcf"/><rect x="673.40" y="435.24" width="3.80" height="3.78" fill="#9fbbcf"/><rect x="639.74" y="438.96" width="3.80" height="3.78" fill="#f0a797"/><rect x="643.48" y="438.96" width="3.80" height="3.78" fill="#ffffff"/><rect x="647.22" y="438.96" width="3.80" height="3.78" fill="#f7d2ca"/><rect x="650.96" y="438.96" width="3.80" height="3.78" fill="#e9f0f5"/><rect x="654.70" y="438.96" width="3.80" height="3.78" fill="#f7d2ca"/><rect x="658.44" y="438.96" width="3.80" height="3.78" fill="#e9f0f5"/><rect x="662.18" y="438.96" width="3.80" height="3.78" fill="#1d4a6b"/><rect x="665.92" y="438.96" width="3.80" height="3.78" fill="#ffffff"/><rect x="669.66" y="438.96" width="3.80" height="3.78" fill="#ffffff"/><rect x="673.40" y="438.96" width="3.80" height="3.78" fill="#f7d2ca"/><rect x="639.74" y="442.68" width="3.80" height="3.78" fill="#f7d2ca"/><rect x="643.48" y="442.68" width="3.80" height="3.78" fill="#ffffff"/><rect x="647.22" y="442.68" width="3.80" height="3.78" fill="#e9f0f5"/><rect x="650.96" y="442.68" width="3.80" height="3.78" fill="#ffffff"/><rect x="654.70" y="442.68" width="3.80" height="3.78" fill="#5e86a3"/><rect x="658.44" y="442.68" width="3.80" height="3.78" fill="#f7d2ca"/><rect x="662.18" y="442.68" width="3.80" height="3.78" fill="#ffffff"/><rect x="665.92" y="442.68" width="3.80" height="3.78" fill="#1d4a6b"/><rect x="669.66" y="442.68" width="3.80" height="3.78" fill="#ffffff"/><rect x="673.40" y="442.68" width="3.80" height="3.78" fill="#e8735e"/><rect x="639.74" y="446.40" width="3.80" height="3.78" fill="#e8735e"/><rect x="643.48" y="446.40" width="3.80" height="3.78" fill="#cddbe6"/><rect x="647.22" y="446.40" width="3.80" height="3.78" fill="#f0a797"/><rect x="650.96" y="446.40" width="3.80" height="3.78" fill="#ffffff"/><rect x="654.70" y="446.40" width="3.80" height="3.78" fill="#f7d2ca"/><rect x="658.44" y="446.40" width="3.80" height="3.78" fill="#9fbbcf"/><rect x="662.18" y="446.40" width="3.80" height="3.78" fill="#ffffff"/><rect x="665.92" y="446.40" width="3.80" height="3.78" fill="#ffffff"/><rect x="669.66" y="446.40" width="3.80" height="3.78" fill="#1d4a6b"/><rect x="673.40" y="446.40" width="3.80" height="3.78" fill="#ffffff"/><rect x="639.74" y="450.12" width="3.80" height="3.78" fill="#ffffff"/><rect x="643.48" y="450.12" width="3.80" height="3.78" fill="#f0a797"/><rect x="647.22" y="450.12" width="3.80" height="3.78" fill="#f7d2ca"/><rect x="650.96" y="450.12" width="3.80" height="3.78" fill="#ffffff"/><rect x="654.70" y="450.12" width="3.80" height="3.78" fill="#9fbbcf"/><rect x="658.44" y="450.12" width="3.80" height="3.78" fill="#9fbbcf"/><rect x="662.18" y="450.12" width="3.80" height="3.78" fill="#f7d2ca"/><rect x="665.92" y="450.12" width="3.80" height="3.78" fill="#e8735e"/><rect x="669.66" y="450.12" width="3.80" height="3.78" fill="#ffffff"/><rect x="673.40" y="450.12" width="3.80" height="3.78" fill="#1d4a6b"/><rect x="639.74" y="416.64000000000004" width="37.4" height="37.2" fill="none" stroke="#333" stroke-width="0.7"/>
<rect x="637.47" y="418.87" width="3.80" height="3.78" fill="#1d4a6b"/><rect x="641.21" y="418.87" width="3.80" height="3.78" fill="#e8735e"/><rect x="644.95" y="418.87" width="3.80" height="3.78" fill="#5e86a3"/><rect x="648.69" y="418.87" width="3.80" height="3.78" fill="#cddbe6"/><rect x="652.43" y="418.87" width="3.80" height="3.78" fill="#ffffff"/><rect x="656.17" y="418.87" width="3.80" height="3.78" fill="#cddbe6"/><rect x="659.91" y="418.87" width="3.80" height="3.78" fill="#ffffff"/><rect x="663.65" y="418.87" width="3.80" height="3.78" fill="#ffffff"/><rect x="667.39" y="418.87" width="3.80" height="3.78" fill="#ffffff"/><rect x="671.13" y="418.87" width="3.80" height="3.78" fill="#f7d2ca"/><rect x="637.47" y="422.59" width="3.80" height="3.78" fill="#e8735e"/><rect x="641.21" y="422.59" width="3.80" height="3.78" fill="#1d4a6b"/><rect x="644.95" y="422.59" width="3.80" height="3.78" fill="#ffffff"/><rect x="648.69" y="422.59" width="3.80" height="3.78" fill="#e9f0f5"/><rect x="652.43" y="422.59" width="3.80" height="3.78" fill="#e9f0f5"/><rect x="656.17" y="422.59" width="3.80" height="3.78" fill="#f7d2ca"/><rect x="659.91" y="422.59" width="3.80" height="3.78" fill="#f0a797"/><rect x="663.65" y="422.59" width="3.80" height="3.78" fill="#cddbe6"/><rect x="667.39" y="422.59" width="3.80" height="3.78" fill="#f7d2ca"/><rect x="671.13" y="422.59" width="3.80" height="3.78" fill="#e8735e"/><rect x="637.47" y="426.31" width="3.80" height="3.78" fill="#5e86a3"/><rect x="641.21" y="426.31" width="3.80" height="3.78" fill="#ffffff"/><rect x="644.95" y="426.31" width="3.80" height="3.78" fill="#1d4a6b"/><rect x="648.69" y="426.31" width="3.80" height="3.78" fill="#ffffff"/><rect x="652.43" y="426.31" width="3.80" height="3.78" fill="#ffffff"/><rect x="656.17" y="426.31" width="3.80" height="3.78" fill="#cddbe6"/><rect x="659.91" y="426.31" width="3.80" height="3.78" fill="#ffffff"/><rect x="663.65" y="426.31" width="3.80" height="3.78" fill="#ffffff"/><rect x="667.39" y="426.31" width="3.80" height="3.78" fill="#ffffff"/><rect x="671.13" y="426.31" width="3.80" height="3.78" fill="#1d4a6b"/><rect x="637.47" y="430.03" width="3.80" height="3.78" fill="#cddbe6"/><rect x="641.21" y="430.03" width="3.80" height="3.78" fill="#e9f0f5"/><rect x="644.95" y="430.03" width="3.80" height="3.78" fill="#ffffff"/><rect x="648.69" y="430.03" width="3.80" height="3.78" fill="#1d4a6b"/><rect x="652.43" y="430.03" width="3.80" height="3.78" fill="#e8735e"/><rect x="656.17" y="430.03" width="3.80" height="3.78" fill="#ffffff"/><rect x="659.91" y="430.03" width="3.80" height="3.78" fill="#e9f0f5"/><rect x="663.65" y="430.03" width="3.80" height="3.78" fill="#f7d2ca"/><rect x="667.39" y="430.03" width="3.80" height="3.78" fill="#ffffff"/><rect x="671.13" y="430.03" width="3.80" height="3.78" fill="#ffffff"/><rect x="637.47" y="433.75" width="3.80" height="3.78" fill="#ffffff"/><rect x="641.21" y="433.75" width="3.80" height="3.78" fill="#e9f0f5"/><rect x="644.95" y="433.75" width="3.80" height="3.78" fill="#ffffff"/><rect x="648.69" y="433.75" width="3.80" height="3.78" fill="#e8735e"/><rect x="652.43" y="433.75" width="3.80" height="3.78" fill="#1d4a6b"/><rect x="656.17" y="433.75" width="3.80" height="3.78" fill="#ffffff"/><rect x="659.91" y="433.75" width="3.80" height="3.78" fill="#5e86a3"/><rect x="663.65" y="433.75" width="3.80" height="3.78" fill="#ffffff"/><rect x="667.39" y="433.75" width="3.80" height="3.78" fill="#e9f0f5"/><rect x="671.13" y="433.75" width="3.80" height="3.78" fill="#e8735e"/><rect x="637.47" y="437.47" width="3.80" height="3.78" fill="#cddbe6"/><rect x="641.21" y="437.47" width="3.80" height="3.78" fill="#f7d2ca"/><rect x="644.95" y="437.47" width="3.80" height="3.78" fill="#cddbe6"/><rect x="648.69" y="437.47" width="3.80" height="3.78" fill="#ffffff"/><rect x="652.43" y="437.47" width="3.80" height="3.78" fill="#ffffff"/><rect x="656.17" y="437.47" width="3.80" height="3.78" fill="#1d4a6b"/><rect x="659.91" y="437.47" width="3.80" height="3.78" fill="#f0a797"/><rect x="663.65" y="437.47" width="3.80" height="3.78" fill="#cddbe6"/><rect x="667.39" y="437.47" width="3.80" height="3.78" fill="#ffffff"/><rect x="671.13" y="437.47" width="3.80" height="3.78" fill="#9fbbcf"/><rect x="637.47" y="441.19" width="3.80" height="3.78" fill="#ffffff"/><rect x="641.21" y="441.19" width="3.80" height="3.78" fill="#f0a797"/><rect x="644.95" y="441.19" width="3.80" height="3.78" fill="#ffffff"/><rect x="648.69" y="441.19" width="3.80" height="3.78" fill="#e9f0f5"/><rect x="652.43" y="441.19" width="3.80" height="3.78" fill="#5e86a3"/><rect x="656.17" y="441.19" width="3.80" height="3.78" fill="#f0a797"/><rect x="659.91" y="441.19" width="3.80" height="3.78" fill="#1d4a6b"/><rect x="663.65" y="441.19" width="3.80" height="3.78" fill="#e9f0f5"/><rect x="667.39" y="441.19" width="3.80" height="3.78" fill="#f7d2ca"/><rect x="671.13" y="441.19" width="3.80" height="3.78" fill="#f0a797"/><rect x="637.47" y="444.91" width="3.80" height="3.78" fill="#ffffff"/><rect x="641.21" y="444.91" width="3.80" height="3.78" fill="#cddbe6"/><rect x="644.95" y="444.91" width="3.80" height="3.78" fill="#ffffff"/><rect x="648.69" y="444.91" width="3.80" height="3.78" fill="#f7d2ca"/><rect x="652.43" y="444.91" width="3.80" height="3.78" fill="#ffffff"/><rect x="656.17" y="444.91" width="3.80" height="3.78" fill="#cddbe6"/><rect x="659.91" y="444.91" width="3.80" height="3.78" fill="#e9f0f5"/><rect x="663.65" y="444.91" width="3.80" height="3.78" fill="#1d4a6b"/><rect x="667.39" y="444.91" width="3.80" height="3.78" fill="#ffffff"/><rect x="671.13" y="444.91" width="3.80" height="3.78" fill="#e9f0f5"/><rect x="637.47" y="448.63" width="3.80" height="3.78" fill="#ffffff"/><rect x="641.21" y="448.63" width="3.80" height="3.78" fill="#f7d2ca"/><rect x="644.95" y="448.63" width="3.80" height="3.78" fill="#ffffff"/><rect x="648.69" y="448.63" width="3.80" height="3.78" fill="#ffffff"/><rect x="652.43" y="448.63" width="3.80" height="3.78" fill="#e9f0f5"/><rect x="656.17" y="448.63" width="3.80" height="3.78" fill="#ffffff"/><rect x="659.91" y="448.63" width="3.80" height="3.78" fill="#f7d2ca"/><rect x="663.65" y="448.63" width="3.80" height="3.78" fill="#ffffff"/><rect x="667.39" y="448.63" width="3.80" height="3.78" fill="#1d4a6b"/><rect x="671.13" y="448.63" width="3.80" height="3.78" fill="#cddbe6"/><rect x="637.47" y="452.35" width="3.80" height="3.78" fill="#f7d2ca"/><rect x="641.21" y="452.35" width="3.80" height="3.78" fill="#e8735e"/><rect x="644.95" y="452.35" width="3.80" height="3.78" fill="#1d4a6b"/><rect x="648.69" y="452.35" width="3.80" height="3.78" fill="#ffffff"/><rect x="652.43" y="452.35" width="3.80" height="3.78" fill="#e8735e"/><rect x="656.17" y="452.35" width="3.80" height="3.78" fill="#9fbbcf"/><rect x="659.91" y="452.35" width="3.80" height="3.78" fill="#f0a797"/><rect x="663.65" y="452.35" width="3.80" height="3.78" fill="#e9f0f5"/><rect x="667.39" y="452.35" width="3.80" height="3.78" fill="#cddbe6"/><rect x="671.13" y="452.35" width="3.80" height="3.78" fill="#1d4a6b"/><rect x="637.47" y="418.87" width="37.4" height="37.2" fill="none" stroke="#333" stroke-width="0.7"/>
<rect x="635.20" y="421.10" width="3.80" height="3.78" fill="#1d4a6b"/><rect x="638.94" y="421.10" width="3.80" height="3.78" fill="#ffffff"/><rect x="642.68" y="421.10" width="3.80" height="3.78" fill="#f0a797"/><rect x="646.42" y="421.10" width="3.80" height="3.78" fill="#9fbbcf"/><rect x="650.16" y="421.10" width="3.80" height="3.78" fill="#f7d2ca"/><rect x="653.90" y="421.10" width="3.80" height="3.78" fill="#1d4a6b"/><rect x="657.64" y="421.10" width="3.80" height="3.78" fill="#cddbe6"/><rect x="661.38" y="421.10" width="3.80" height="3.78" fill="#cddbe6"/><rect x="665.12" y="421.10" width="3.80" height="3.78" fill="#ffffff"/><rect x="668.86" y="421.10" width="3.80" height="3.78" fill="#e9f0f5"/><rect x="635.20" y="424.82" width="3.80" height="3.78" fill="#ffffff"/><rect x="638.94" y="424.82" width="3.80" height="3.78" fill="#1d4a6b"/><rect x="642.68" y="424.82" width="3.80" height="3.78" fill="#e9f0f5"/><rect x="646.42" y="424.82" width="3.80" height="3.78" fill="#ffffff"/><rect x="650.16" y="424.82" width="3.80" height="3.78" fill="#9fbbcf"/><rect x="653.90" y="424.82" width="3.80" height="3.78" fill="#ffffff"/><rect x="657.64" y="424.82" width="3.80" height="3.78" fill="#9fbbcf"/><rect x="661.38" y="424.82" width="3.80" height="3.78" fill="#ffffff"/><rect x="665.12" y="424.82" width="3.80" height="3.78" fill="#cddbe6"/><rect x="668.86" y="424.82" width="3.80" height="3.78" fill="#cddbe6"/><rect x="635.20" y="428.54" width="3.80" height="3.78" fill="#f0a797"/><rect x="638.94" y="428.54" width="3.80" height="3.78" fill="#e9f0f5"/><rect x="642.68" y="428.54" width="3.80" height="3.78" fill="#1d4a6b"/><rect x="646.42" y="428.54" width="3.80" height="3.78" fill="#ffffff"/><rect x="650.16" y="428.54" width="3.80" height="3.78" fill="#e9f0f5"/><rect x="653.90" y="428.54" width="3.80" height="3.78" fill="#e9f0f5"/><rect x="657.64" y="428.54" width="3.80" height="3.78" fill="#e9f0f5"/><rect x="661.38" y="428.54" width="3.80" height="3.78" fill="#ffffff"/><rect x="665.12" y="428.54" width="3.80" height="3.78" fill="#9fbbcf"/><rect x="668.86" y="428.54" width="3.80" height="3.78" fill="#cddbe6"/><rect x="635.20" y="432.26" width="3.80" height="3.78" fill="#9fbbcf"/><rect x="638.94" y="432.26" width="3.80" height="3.78" fill="#ffffff"/><rect x="642.68" y="432.26" width="3.80" height="3.78" fill="#ffffff"/><rect x="646.42" y="432.26" width="3.80" height="3.78" fill="#1d4a6b"/><rect x="650.16" y="432.26" width="3.80" height="3.78" fill="#ffffff"/><rect x="653.90" y="432.26" width="3.80" height="3.78" fill="#ffffff"/><rect x="657.64" y="432.26" width="3.80" height="3.78" fill="#ffffff"/><rect x="661.38" y="432.26" width="3.80" height="3.78" fill="#f7d2ca"/><rect x="665.12" y="432.26" width="3.80" height="3.78" fill="#ffffff"/><rect x="668.86" y="432.26" width="3.80" height="3.78" fill="#f7d2ca"/><rect x="635.20" y="435.98" width="3.80" height="3.78" fill="#f7d2ca"/><rect x="638.94" y="435.98" width="3.80" height="3.78" fill="#9fbbcf"/><rect x="642.68" y="435.98" width="3.80" height="3.78" fill="#e9f0f5"/><rect x="646.42" y="435.98" width="3.80" height="3.78" fill="#ffffff"/><rect x="650.16" y="435.98" width="3.80" height="3.78" fill="#1d4a6b"/><rect x="653.90" y="435.98" width="3.80" height="3.78" fill="#cddbe6"/><rect x="657.64" y="435.98" width="3.80" height="3.78" fill="#ffffff"/><rect x="661.38" y="435.98" width="3.80" height="3.78" fill="#f7d2ca"/><rect x="665.12" y="435.98" width="3.80" height="3.78" fill="#f0a797"/><rect x="668.86" y="435.98" width="3.80" height="3.78" fill="#e9f0f5"/><rect x="635.20" y="439.70" width="3.80" height="3.78" fill="#1d4a6b"/><rect x="638.94" y="439.70" width="3.80" height="3.78" fill="#ffffff"/><rect x="642.68" y="439.70" width="3.80" height="3.78" fill="#e9f0f5"/><rect x="646.42" y="439.70" width="3.80" height="3.78" fill="#ffffff"/><rect x="650.16" y="439.70" width="3.80" height="3.78" fill="#cddbe6"/><rect x="653.90" y="439.70" width="3.80" height="3.78" fill="#1d4a6b"/><rect x="657.64" y="439.70" width="3.80" height="3.78" fill="#e9f0f5"/><rect x="661.38" y="439.70" width="3.80" height="3.78" fill="#f0a797"/><rect x="665.12" y="439.70" width="3.80" height="3.78" fill="#cddbe6"/><rect x="668.86" y="439.70" width="3.80" height="3.78" fill="#e8735e"/><rect x="635.20" y="443.42" width="3.80" height="3.78" fill="#cddbe6"/><rect x="638.94" y="443.42" width="3.80" height="3.78" fill="#9fbbcf"/><rect x="642.68" y="443.42" width="3.80" height="3.78" fill="#e9f0f5"/><rect x="646.42" y="443.42" width="3.80" height="3.78" fill="#ffffff"/><rect x="650.16" y="443.42" width="3.80" height="3.78" fill="#ffffff"/><rect x="653.90" y="443.42" width="3.80" height="3.78" fill="#e9f0f5"/><rect x="657.64" y="443.42" width="3.80" height="3.78" fill="#1d4a6b"/><rect x="661.38" y="443.42" width="3.80" height="3.78" fill="#f0a797"/><rect x="665.12" y="443.42" width="3.80" height="3.78" fill="#9fbbcf"/><rect x="668.86" y="443.42" width="3.80" height="3.78" fill="#cddbe6"/><rect x="635.20" y="447.14" width="3.80" height="3.78" fill="#cddbe6"/><rect x="638.94" y="447.14" width="3.80" height="3.78" fill="#ffffff"/><rect x="642.68" y="447.14" width="3.80" height="3.78" fill="#ffffff"/><rect x="646.42" y="447.14" width="3.80" height="3.78" fill="#f7d2ca"/><rect x="650.16" y="447.14" width="3.80" height="3.78" fill="#f7d2ca"/><rect x="653.90" y="447.14" width="3.80" height="3.78" fill="#f0a797"/><rect x="657.64" y="447.14" width="3.80" height="3.78" fill="#f0a797"/><rect x="661.38" y="447.14" width="3.80" height="3.78" fill="#1d4a6b"/><rect x="665.12" y="447.14" width="3.80" height="3.78" fill="#ffffff"/><rect x="668.86" y="447.14" width="3.80" height="3.78" fill="#cddbe6"/><rect x="635.20" y="450.86" width="3.80" height="3.78" fill="#ffffff"/><rect x="638.94" y="450.86" width="3.80" height="3.78" fill="#cddbe6"/><rect x="642.68" y="450.86" width="3.80" height="3.78" fill="#9fbbcf"/><rect x="646.42" y="450.86" width="3.80" height="3.78" fill="#ffffff"/><rect x="650.16" y="450.86" width="3.80" height="3.78" fill="#f0a797"/><rect x="653.90" y="450.86" width="3.80" height="3.78" fill="#cddbe6"/><rect x="657.64" y="450.86" width="3.80" height="3.78" fill="#9fbbcf"/><rect x="661.38" y="450.86" width="3.80" height="3.78" fill="#ffffff"/><rect x="665.12" y="450.86" width="3.80" height="3.78" fill="#1d4a6b"/><rect x="668.86" y="450.86" width="3.80" height="3.78" fill="#5e86a3"/><rect x="635.20" y="454.58" width="3.80" height="3.78" fill="#e9f0f5"/><rect x="638.94" y="454.58" width="3.80" height="3.78" fill="#cddbe6"/><rect x="642.68" y="454.58" width="3.80" height="3.78" fill="#cddbe6"/><rect x="646.42" y="454.58" width="3.80" height="3.78" fill="#f7d2ca"/><rect x="650.16" y="454.58" width="3.80" height="3.78" fill="#e9f0f5"/><rect x="653.90" y="454.58" width="3.80" height="3.78" fill="#e8735e"/><rect x="657.64" y="454.58" width="3.80" height="3.78" fill="#cddbe6"/><rect x="661.38" y="454.58" width="3.80" height="3.78" fill="#cddbe6"/><rect x="665.12" y="454.58" width="3.80" height="3.78" fill="#5e86a3"/><rect x="668.86" y="454.58" width="3.80" height="3.78" fill="#1d4a6b"/><rect x="635.2" y="421.1" width="37.4" height="37.2" fill="none" stroke="#222" stroke-width="0.9"/>
<line x1="526.6" y1="439.3" x2="581" y2="439.3" stroke="#666" stroke-width="1.1" stroke-dasharray="3,2.4"/>
<polygon points="521.6,439.3 527.6,436.3 527.6,442.3" fill="#666"/>
<polygon points="586,439.3 580,436.3 580,442.3" fill="#666"/>
<line x1="528.9" y1="521" x2="582" y2="521" stroke="#666" stroke-width="1.1" stroke-dasharray="3,2.4"/>
<polygon points="523.9,521 529.9,518 529.9,524" fill="#666"/>
<polygon points="587,521 581,518 581,524" fill="#666"/>
<g transform="matrix(1,0.5725,0,1,0,-260.095)"><rect x="454.30" y="500.00" width="2.97" height="3.37" fill="#1d4a6b"/><rect x="457.21" y="500.00" width="2.97" height="3.37" fill="#f7d2ca"/><rect x="460.12" y="500.00" width="2.97" height="3.37" fill="#e9f0f5"/><rect x="463.03" y="500.00" width="2.97" height="3.37" fill="#f7d2ca"/><rect x="465.94" y="500.00" width="2.97" height="3.37" fill="#9fbbcf"/><rect x="468.86" y="500.00" width="2.97" height="3.37" fill="#e9f0f5"/><rect x="471.77" y="500.00" width="2.97" height="3.37" fill="#ffffff"/><rect x="474.68" y="500.00" width="2.97" height="3.37" fill="#1d4a6b"/><rect x="477.59" y="500.00" width="2.97" height="3.37" fill="#cddbe6"/><rect x="454.30" y="503.31" width="2.97" height="3.37" fill="#f7d2ca"/><rect x="457.21" y="503.31" width="2.97" height="3.37" fill="#1d4a6b"/><rect x="460.12" y="503.31" width="2.97" height="3.37" fill="#ffffff"/><rect x="463.03" y="503.31" width="2.97" height="3.37" fill="#f0a797"/><rect x="465.94" y="503.31" width="2.97" height="3.37" fill="#e8735e"/><rect x="468.86" y="503.31" width="2.97" height="3.37" fill="#9fbbcf"/><rect x="471.77" y="503.31" width="2.97" height="3.37" fill="#ffffff"/><rect x="474.68" y="503.31" width="2.97" height="3.37" fill="#ffffff"/><rect x="477.59" y="503.31" width="2.97" height="3.37" fill="#ffffff"/><rect x="454.30" y="506.62" width="2.97" height="3.37" fill="#e9f0f5"/><rect x="457.21" y="506.62" width="2.97" height="3.37" fill="#ffffff"/><rect x="460.12" y="506.62" width="2.97" height="3.37" fill="#1d4a6b"/><rect x="463.03" y="506.62" width="2.97" height="3.37" fill="#ffffff"/><rect x="465.94" y="506.62" width="2.97" height="3.37" fill="#cddbe6"/><rect x="468.86" y="506.62" width="2.97" height="3.37" fill="#5e86a3"/><rect x="471.77" y="506.62" width="2.97" height="3.37" fill="#9fbbcf"/><rect x="474.68" y="506.62" width="2.97" height="3.37" fill="#1d4a6b"/><rect x="477.59" y="506.62" width="2.97" height="3.37" fill="#ffffff"/><rect x="454.30" y="509.93" width="2.97" height="3.37" fill="#f7d2ca"/><rect x="457.21" y="509.93" width="2.97" height="3.37" fill="#f0a797"/><rect x="460.12" y="509.93" width="2.97" height="3.37" fill="#ffffff"/><rect x="463.03" y="509.93" width="2.97" height="3.37" fill="#1d4a6b"/><rect x="465.94" y="509.93" width="2.97" height="3.37" fill="#ffffff"/><rect x="468.86" y="509.93" width="2.97" height="3.37" fill="#ffffff"/><rect x="471.77" y="509.93" width="2.97" height="3.37" fill="#9fbbcf"/><rect x="474.68" y="509.93" width="2.97" height="3.37" fill="#cddbe6"/><rect x="477.59" y="509.93" width="2.97" height="3.37" fill="#cddbe6"/><rect x="454.30" y="513.24" width="2.97" height="3.37" fill="#9fbbcf"/><rect x="457.21" y="513.24" width="2.97" height="3.37" fill="#e8735e"/><rect x="460.12" y="513.24" width="2.97" height="3.37" fill="#cddbe6"/><rect x="463.03" y="513.24" width="2.97" height="3.37" fill="#ffffff"/><rect x="465.94" y="513.24" width="2.97" height="3.37" fill="#1d4a6b"/><rect x="468.86" y="513.24" width="2.97" height="3.37" fill="#f7d2ca"/><rect x="471.77" y="513.24" width="2.97" height="3.37" fill="#e8735e"/><rect x="474.68" y="513.24" width="2.97" height="3.37" fill="#f0a797"/><rect x="477.59" y="513.24" width="2.97" height="3.37" fill="#5e86a3"/><rect x="454.30" y="516.56" width="2.97" height="3.37" fill="#e9f0f5"/><rect x="457.21" y="516.56" width="2.97" height="3.37" fill="#9fbbcf"/><rect x="460.12" y="516.56" width="2.97" height="3.37" fill="#5e86a3"/><rect x="463.03" y="516.56" width="2.97" height="3.37" fill="#ffffff"/><rect x="465.94" y="516.56" width="2.97" height="3.37" fill="#f7d2ca"/><rect x="468.86" y="516.56" width="2.97" height="3.37" fill="#1d4a6b"/><rect x="471.77" y="516.56" width="2.97" height="3.37" fill="#5e86a3"/><rect x="474.68" y="516.56" width="2.97" height="3.37" fill="#e8735e"/><rect x="477.59" y="516.56" width="2.97" height="3.37" fill="#ffffff"/><rect x="454.30" y="519.87" width="2.97" height="3.37" fill="#ffffff"/><rect x="457.21" y="519.87" width="2.97" height="3.37" fill="#ffffff"/><rect x="460.12" y="519.87" width="2.97" height="3.37" fill="#9fbbcf"/><rect x="463.03" y="519.87" width="2.97" height="3.37" fill="#9fbbcf"/><rect x="465.94" y="519.87" width="2.97" height="3.37" fill="#e8735e"/><rect x="468.86" y="519.87" width="2.97" height="3.37" fill="#5e86a3"/><rect x="471.77" y="519.87" width="2.97" height="3.37" fill="#1d4a6b"/><rect x="474.68" y="519.87" width="2.97" height="3.37" fill="#ffffff"/><rect x="477.59" y="519.87" width="2.97" height="3.37" fill="#e9f0f5"/><rect x="454.30" y="523.18" width="2.97" height="3.37" fill="#1d4a6b"/><rect x="457.21" y="523.18" width="2.97" height="3.37" fill="#ffffff"/><rect x="460.12" y="523.18" width="2.97" height="3.37" fill="#1d4a6b"/><rect x="463.03" y="523.18" width="2.97" height="3.37" fill="#cddbe6"/><rect x="465.94" y="523.18" width="2.97" height="3.37" fill="#f0a797"/><rect x="468.86" y="523.18" width="2.97" height="3.37" fill="#e8735e"/><rect x="471.77" y="523.18" width="2.97" height="3.37" fill="#ffffff"/><rect x="474.68" y="523.18" width="2.97" height="3.37" fill="#1d4a6b"/><rect x="477.59" y="523.18" width="2.97" height="3.37" fill="#ffffff"/><rect x="454.30" y="526.49" width="2.97" height="3.37" fill="#cddbe6"/><rect x="457.21" y="526.49" width="2.97" height="3.37" fill="#ffffff"/><rect x="460.12" y="526.49" width="2.97" height="3.37" fill="#ffffff"/><rect x="463.03" y="526.49" width="2.97" height="3.37" fill="#cddbe6"/><rect x="465.94" y="526.49" width="2.97" height="3.37" fill="#5e86a3"/><rect x="468.86" y="526.49" width="2.97" height="3.37" fill="#ffffff"/><rect x="471.77" y="526.49" width="2.97" height="3.37" fill="#e9f0f5"/><rect x="474.68" y="526.49" width="2.97" height="3.37" fill="#ffffff"/><rect x="477.59" y="526.49" width="2.97" height="3.37" fill="#1d4a6b"/><rect x="454.3" y="500" width="26.2" height="29.8" fill="none" stroke="#444" stroke-width="0.8"/></g>
<g transform="matrix(1,0.5725,0,1,0,-254.828)"><rect x="445.10" y="500.00" width="2.97" height="3.37" fill="#1d4a6b"/><rect x="448.01" y="500.00" width="2.97" height="3.37" fill="#ffffff"/><rect x="450.92" y="500.00" width="2.97" height="3.37" fill="#e9f0f5"/><rect x="453.83" y="500.00" width="2.97" height="3.37" fill="#ffffff"/><rect x="456.74" y="500.00" width="2.97" height="3.37" fill="#1d4a6b"/><rect x="459.66" y="500.00" width="2.97" height="3.37" fill="#ffffff"/><rect x="462.57" y="500.00" width="2.97" height="3.37" fill="#f7d2ca"/><rect x="465.48" y="500.00" width="2.97" height="3.37" fill="#cddbe6"/><rect x="468.39" y="500.00" width="2.97" height="3.37" fill="#e9f0f5"/><rect x="445.10" y="503.31" width="2.97" height="3.37" fill="#ffffff"/><rect x="448.01" y="503.31" width="2.97" height="3.37" fill="#1d4a6b"/><rect x="450.92" y="503.31" width="2.97" height="3.37" fill="#ffffff"/><rect x="453.83" y="503.31" width="2.97" height="3.37" fill="#e9f0f5"/><rect x="456.74" y="503.31" width="2.97" height="3.37" fill="#cddbe6"/><rect x="459.66" y="503.31" width="2.97" height="3.37" fill="#9fbbcf"/><rect x="462.57" y="503.31" width="2.97" height="3.37" fill="#ffffff"/><rect x="465.48" y="503.31" width="2.97" height="3.37" fill="#1d4a6b"/><rect x="468.39" y="503.31" width="2.97" height="3.37" fill="#f0a797"/><rect x="445.10" y="506.62" width="2.97" height="3.37" fill="#e9f0f5"/><rect x="448.01" y="506.62" width="2.97" height="3.37" fill="#ffffff"/><rect x="450.92" y="506.62" width="2.97" height="3.37" fill="#1d4a6b"/><rect x="453.83" y="506.62" width="2.97" height="3.37" fill="#f7d2ca"/><rect x="456.74" y="506.62" width="2.97" height="3.37" fill="#ffffff"/><rect x="459.66" y="506.62" width="2.97" height="3.37" fill="#f7d2ca"/><rect x="462.57" y="506.62" width="2.97" height="3.37" fill="#ffffff"/><rect x="465.48" y="506.62" width="2.97" height="3.37" fill="#e9f0f5"/><rect x="468.39" y="506.62" width="2.97" height="3.37" fill="#ffffff"/><rect x="445.10" y="509.93" width="2.97" height="3.37" fill="#ffffff"/><rect x="448.01" y="509.93" width="2.97" height="3.37" fill="#e9f0f5"/><rect x="450.92" y="509.93" width="2.97" height="3.37" fill="#f7d2ca"/><rect x="453.83" y="509.93" width="2.97" height="3.37" fill="#1d4a6b"/><rect x="456.74" y="509.93" width="2.97" height="3.37" fill="#ffffff"/><rect x="459.66" y="509.93" width="2.97" height="3.37" fill="#e8735e"/><rect x="462.57" y="509.93" width="2.97" height="3.37" fill="#f7d2ca"/><rect x="465.48" y="509.93" width="2.97" height="3.37" fill="#cddbe6"/><rect x="468.39" y="509.93" width="2.97" height="3.37" fill="#f0a797"/><rect x="445.10" y="513.24" width="2.97" height="3.37" fill="#1d4a6b"/><rect x="448.01" y="513.24" width="2.97" height="3.37" fill="#cddbe6"/><rect x="450.92" y="513.24" width="2.97" height="3.37" fill="#ffffff"/><rect x="453.83" y="513.24" width="2.97" height="3.37" fill="#ffffff"/><rect x="456.74" y="513.24" width="2.97" height="3.37" fill="#1d4a6b"/><rect x="459.66" y="513.24" width="2.97" height="3.37" fill="#ffffff"/><rect x="462.57" y="513.24" width="2.97" height="3.37" fill="#f7d2ca"/><rect x="465.48" y="513.24" width="2.97" height="3.37" fill="#f7d2ca"/><rect x="468.39" y="513.24" width="2.97" height="3.37" fill="#e9f0f5"/><rect x="445.10" y="516.56" width="2.97" height="3.37" fill="#ffffff"/><rect x="448.01" y="516.56" width="2.97" height="3.37" fill="#9fbbcf"/><rect x="450.92" y="516.56" width="2.97" height="3.37" fill="#f7d2ca"/><rect x="453.83" y="516.56" width="2.97" height="3.37" fill="#e8735e"/><rect x="456.74" y="516.56" width="2.97" height="3.37" fill="#ffffff"/><rect x="459.66" y="516.56" width="2.97" height="3.37" fill="#1d4a6b"/><rect x="462.57" y="516.56" width="2.97" height="3.37" fill="#f0a797"/><rect x="465.48" y="516.56" width="2.97" height="3.37" fill="#f0a797"/><rect x="468.39" y="516.56" width="2.97" height="3.37" fill="#ffffff"/><rect x="445.10" y="519.87" width="2.97" height="3.37" fill="#f7d2ca"/><rect x="448.01" y="519.87" width="2.97" height="3.37" fill="#ffffff"/><rect x="450.92" y="519.87" width="2.97" height="3.37" fill="#ffffff"/><rect x="453.83" y="519.87" width="2.97" height="3.37" fill="#f7d2ca"/><rect x="456.74" y="519.87" width="2.97" height="3.37" fill="#f7d2ca"/><rect x="459.66" y="519.87" width="2.97" height="3.37" fill="#f0a797"/><rect x="462.57" y="519.87" width="2.97" height="3.37" fill="#1d4a6b"/><rect x="465.48" y="519.87" width="2.97" height="3.37" fill="#ffffff"/><rect x="468.39" y="519.87" width="2.97" height="3.37" fill="#ffffff"/><rect x="445.10" y="523.18" width="2.97" height="3.37" fill="#cddbe6"/><rect x="448.01" y="523.18" width="2.97" height="3.37" fill="#1d4a6b"/><rect x="450.92" y="523.18" width="2.97" height="3.37" fill="#e9f0f5"/><rect x="453.83" y="523.18" width="2.97" height="3.37" fill="#cddbe6"/><rect x="456.74" y="523.18" width="2.97" height="3.37" fill="#f7d2ca"/><rect x="459.66" y="523.18" width="2.97" height="3.37" fill="#f0a797"/><rect x="462.57" y="523.18" width="2.97" height="3.37" fill="#ffffff"/><rect x="465.48" y="523.18" width="2.97" height="3.37" fill="#1d4a6b"/><rect x="468.39" y="523.18" width="2.97" height="3.37" fill="#e9f0f5"/><rect x="445.10" y="526.49" width="2.97" height="3.37" fill="#e9f0f5"/><rect x="448.01" y="526.49" width="2.97" height="3.37" fill="#f0a797"/><rect x="450.92" y="526.49" width="2.97" height="3.37" fill="#ffffff"/><rect x="453.83" y="526.49" width="2.97" height="3.37" fill="#f0a797"/><rect x="456.74" y="526.49" width="2.97" height="3.37" fill="#e9f0f5"/><rect x="459.66" y="526.49" width="2.97" height="3.37" fill="#ffffff"/><rect x="462.57" y="526.49" width="2.97" height="3.37" fill="#ffffff"/><rect x="465.48" y="526.49" width="2.97" height="3.37" fill="#e9f0f5"/><rect x="468.39" y="526.49" width="2.97" height="3.37" fill="#1d4a6b"/><rect x="445.1" y="500" width="26.2" height="29.8" fill="none" stroke="#444" stroke-width="0.8"/></g>
<g transform="matrix(1,0.5725,0,1,0,-249.676)"><rect x="436.10" y="500.00" width="2.97" height="3.37" fill="#1d4a6b"/><rect x="439.01" y="500.00" width="2.97" height="3.37" fill="#ffffff"/><rect x="441.92" y="500.00" width="2.97" height="3.37" fill="#5e86a3"/><rect x="444.83" y="500.00" width="2.97" height="3.37" fill="#e9f0f5"/><rect x="447.74" y="500.00" width="2.97" height="3.37" fill="#ffffff"/><rect x="450.66" y="500.00" width="2.97" height="3.37" fill="#1d4a6b"/><rect x="453.57" y="500.00" width="2.97" height="3.37" fill="#e9f0f5"/><rect x="456.48" y="500.00" width="2.97" height="3.37" fill="#ffffff"/><rect x="459.39" y="500.00" width="2.97" height="3.37" fill="#ffffff"/><rect x="436.10" y="503.31" width="2.97" height="3.37" fill="#ffffff"/><rect x="439.01" y="503.31" width="2.97" height="3.37" fill="#1d4a6b"/><rect x="441.92" y="503.31" width="2.97" height="3.37" fill="#cddbe6"/><rect x="444.83" y="503.31" width="2.97" height="3.37" fill="#e8735e"/><rect x="447.74" y="503.31" width="2.97" height="3.37" fill="#ffffff"/><rect x="450.66" y="503.31" width="2.97" height="3.37" fill="#e9f0f5"/><rect x="453.57" y="503.31" width="2.97" height="3.37" fill="#ffffff"/><rect x="456.48" y="503.31" width="2.97" height="3.37" fill="#ffffff"/><rect x="459.39" y="503.31" width="2.97" height="3.37" fill="#ffffff"/><rect x="436.10" y="506.62" width="2.97" height="3.37" fill="#5e86a3"/><rect x="439.01" y="506.62" width="2.97" height="3.37" fill="#cddbe6"/><rect x="441.92" y="506.62" width="2.97" height="3.37" fill="#1d4a6b"/><rect x="444.83" y="506.62" width="2.97" height="3.37" fill="#e9f0f5"/><rect x="447.74" y="506.62" width="2.97" height="3.37" fill="#e8735e"/><rect x="450.66" y="506.62" width="2.97" height="3.37" fill="#ffffff"/><rect x="453.57" y="506.62" width="2.97" height="3.37" fill="#ffffff"/><rect x="456.48" y="506.62" width="2.97" height="3.37" fill="#ffffff"/><rect x="459.39" y="506.62" width="2.97" height="3.37" fill="#e8735e"/><rect x="436.10" y="509.93" width="2.97" height="3.37" fill="#e9f0f5"/><rect x="439.01" y="509.93" width="2.97" height="3.37" fill="#e8735e"/><rect x="441.92" y="509.93" width="2.97" height="3.37" fill="#e9f0f5"/><rect x="444.83" y="509.93" width="2.97" height="3.37" fill="#1d4a6b"/><rect x="447.74" y="509.93" width="2.97" height="3.37" fill="#1d4a6b"/><rect x="450.66" y="509.93" width="2.97" height="3.37" fill="#ffffff"/><rect x="453.57" y="509.93" width="2.97" height="3.37" fill="#ffffff"/><rect x="456.48" y="509.93" width="2.97" height="3.37" fill="#cddbe6"/><rect x="459.39" y="509.93" width="2.97" height="3.37" fill="#e9f0f5"/><rect x="436.10" y="513.24" width="2.97" height="3.37" fill="#ffffff"/><rect x="439.01" y="513.24" width="2.97" height="3.37" fill="#ffffff"/><rect x="441.92" y="513.24" width="2.97" height="3.37" fill="#e8735e"/><rect x="444.83" y="513.24" width="2.97" height="3.37" fill="#1d4a6b"/><rect x="447.74" y="513.24" width="2.97" height="3.37" fill="#1d4a6b"/><rect x="450.66" y="513.24" width="2.97" height="3.37" fill="#1d4a6b"/><rect x="453.57" y="513.24" width="2.97" height="3.37" fill="#cddbe6"/><rect x="456.48" y="513.24" width="2.97" height="3.37" fill="#e9f0f5"/><rect x="459.39" y="513.24" width="2.97" height="3.37" fill="#5e86a3"/><rect x="436.10" y="516.56" width="2.97" height="3.37" fill="#1d4a6b"/><rect x="439.01" y="516.56" width="2.97" height="3.37" fill="#e9f0f5"/><rect x="441.92" y="516.56" width="2.97" height="3.37" fill="#ffffff"/><rect x="444.83" y="516.56" width="2.97" height="3.37" fill="#ffffff"/><rect x="447.74" y="516.56" width="2.97" height="3.37" fill="#1d4a6b"/><rect x="450.66" y="516.56" width="2.97" height="3.37" fill="#1d4a6b"/><rect x="453.57" y="516.56" width="2.97" height="3.37" fill="#cddbe6"/><rect x="456.48" y="516.56" width="2.97" height="3.37" fill="#f0a797"/><rect x="459.39" y="516.56" width="2.97" height="3.37" fill="#ffffff"/><rect x="436.10" y="519.87" width="2.97" height="3.37" fill="#e9f0f5"/><rect x="439.01" y="519.87" width="2.97" height="3.37" fill="#ffffff"/><rect x="441.92" y="519.87" width="2.97" height="3.37" fill="#ffffff"/><rect x="444.83" y="519.87" width="2.97" height="3.37" fill="#ffffff"/><rect x="447.74" y="519.87" width="2.97" height="3.37" fill="#cddbe6"/><rect x="450.66" y="519.87" width="2.97" height="3.37" fill="#cddbe6"/><rect x="453.57" y="519.87" width="2.97" height="3.37" fill="#1d4a6b"/><rect x="456.48" y="519.87" width="2.97" height="3.37" fill="#ffffff"/><rect x="459.39" y="519.87" width="2.97" height="3.37" fill="#e8735e"/><rect x="436.10" y="523.18" width="2.97" height="3.37" fill="#ffffff"/><rect x="439.01" y="523.18" width="2.97" height="3.37" fill="#ffffff"/><rect x="441.92" y="523.18" width="2.97" height="3.37" fill="#ffffff"/><rect x="444.83" y="523.18" width="2.97" height="3.37" fill="#cddbe6"/><rect x="447.74" y="523.18" width="2.97" height="3.37" fill="#e9f0f5"/><rect x="450.66" y="523.18" width="2.97" height="3.37" fill="#f0a797"/><rect x="453.57" y="523.18" width="2.97" height="3.37" fill="#ffffff"/><rect x="456.48" y="523.18" width="2.97" height="3.37" fill="#1d4a6b"/><rect x="459.39" y="523.18" width="2.97" height="3.37" fill="#ffffff"/><rect x="436.10" y="526.49" width="2.97" height="3.37" fill="#ffffff"/><rect x="439.01" y="526.49" width="2.97" height="3.37" fill="#ffffff"/><rect x="441.92" y="526.49" width="2.97" height="3.37" fill="#e8735e"/><rect x="444.83" y="526.49" width="2.97" height="3.37" fill="#e9f0f5"/><rect x="447.74" y="526.49" width="2.97" height="3.37" fill="#5e86a3"/><rect x="450.66" y="526.49" width="2.97" height="3.37" fill="#ffffff"/><rect x="453.57" y="526.49" width="2.97" height="3.37" fill="#e8735e"/><rect x="456.48" y="526.49" width="2.97" height="3.37" fill="#ffffff"/><rect x="459.39" y="526.49" width="2.97" height="3.37" fill="#1d4a6b"/><rect x="436.1" y="500" width="26.2" height="29.8" fill="none" stroke="#444" stroke-width="0.8"/></g>
<g transform="matrix(1,0.5725,0,1,0,-244.637)"><rect x="427.30" y="500.00" width="2.97" height="3.37" fill="#1d4a6b"/><rect x="430.21" y="500.00" width="2.97" height="3.37" fill="#e8735e"/><rect x="433.12" y="500.00" width="2.97" height="3.37" fill="#ffffff"/><rect x="436.03" y="500.00" width="2.97" height="3.37" fill="#f7d2ca"/><rect x="438.94" y="500.00" width="2.97" height="3.37" fill="#5e86a3"/><rect x="441.86" y="500.00" width="2.97" height="3.37" fill="#ffffff"/><rect x="444.77" y="500.00" width="2.97" height="3.37" fill="#ffffff"/><rect x="447.68" y="500.00" width="2.97" height="3.37" fill="#1d4a6b"/><rect x="450.59" y="500.00" width="2.97" height="3.37" fill="#f0a797"/><rect x="427.30" y="503.31" width="2.97" height="3.37" fill="#e8735e"/><rect x="430.21" y="503.31" width="2.97" height="3.37" fill="#1d4a6b"/><rect x="433.12" y="503.31" width="2.97" height="3.37" fill="#9fbbcf"/><rect x="436.03" y="503.31" width="2.97" height="3.37" fill="#ffffff"/><rect x="438.94" y="503.31" width="2.97" height="3.37" fill="#9fbbcf"/><rect x="441.86" y="503.31" width="2.97" height="3.37" fill="#ffffff"/><rect x="444.77" y="503.31" width="2.97" height="3.37" fill="#ffffff"/><rect x="447.68" y="503.31" width="2.97" height="3.37" fill="#5e86a3"/><rect x="450.59" y="503.31" width="2.97" height="3.37" fill="#e8735e"/><rect x="427.30" y="506.62" width="2.97" height="3.37" fill="#ffffff"/><rect x="430.21" y="506.62" width="2.97" height="3.37" fill="#9fbbcf"/><rect x="433.12" y="506.62" width="2.97" height="3.37" fill="#1d4a6b"/><rect x="436.03" y="506.62" width="2.97" height="3.37" fill="#e9f0f5"/><rect x="438.94" y="506.62" width="2.97" height="3.37" fill="#ffffff"/><rect x="441.86" y="506.62" width="2.97" height="3.37" fill="#ffffff"/><rect x="444.77" y="506.62" width="2.97" height="3.37" fill="#e9f0f5"/><rect x="447.68" y="506.62" width="2.97" height="3.37" fill="#cddbe6"/><rect x="450.59" y="506.62" width="2.97" height="3.37" fill="#ffffff"/><rect x="427.30" y="509.93" width="2.97" height="3.37" fill="#f7d2ca"/><rect x="430.21" y="509.93" width="2.97" height="3.37" fill="#ffffff"/><rect x="433.12" y="509.93" width="2.97" height="3.37" fill="#e9f0f5"/><rect x="436.03" y="509.93" width="2.97" height="3.37" fill="#1d4a6b"/><rect x="438.94" y="509.93" width="2.97" height="3.37" fill="#ffffff"/><rect x="441.86" y="509.93" width="2.97" height="3.37" fill="#cddbe6"/><rect x="444.77" y="509.93" width="2.97" height="3.37" fill="#ffffff"/><rect x="447.68" y="509.93" width="2.97" height="3.37" fill="#e9f0f5"/><rect x="450.59" y="509.93" width="2.97" height="3.37" fill="#1d4a6b"/><rect x="427.30" y="513.24" width="2.97" height="3.37" fill="#5e86a3"/><rect x="430.21" y="513.24" width="2.97" height="3.37" fill="#9fbbcf"/><rect x="433.12" y="513.24" width="2.97" height="3.37" fill="#ffffff"/><rect x="436.03" y="513.24" width="2.97" height="3.37" fill="#ffffff"/><rect x="438.94" y="513.24" width="2.97" height="3.37" fill="#1d4a6b"/><rect x="441.86" y="513.24" width="2.97" height="3.37" fill="#cddbe6"/><rect x="444.77" y="513.24" width="2.97" height="3.37" fill="#1d4a6b"/><rect x="447.68" y="513.24" width="2.97" height="3.37" fill="#9fbbcf"/><rect x="450.59" y="513.24" width="2.97" height="3.37" fill="#ffffff"/><rect x="427.30" y="516.56" width="2.97" height="3.37" fill="#ffffff"/><rect x="430.21" y="516.56" width="2.97" height="3.37" fill="#ffffff"/><rect x="433.12" y="516.56" width="2.97" height="3.37" fill="#ffffff"/><rect x="436.03" y="516.56" width="2.97" height="3.37" fill="#cddbe6"/><rect x="438.94" y="516.56" width="2.97" height="3.37" fill="#cddbe6"/><rect x="441.86" y="516.56" width="2.97" height="3.37" fill="#1d4a6b"/><rect x="444.77" y="516.56" width="2.97" height="3.37" fill="#e9f0f5"/><rect x="447.68" y="516.56" width="2.97" height="3.37" fill="#f0a797"/><rect x="450.59" y="516.56" width="2.97" height="3.37" fill="#ffffff"/><rect x="427.30" y="519.87" width="2.97" height="3.37" fill="#ffffff"/><rect x="430.21" y="519.87" width="2.97" height="3.37" fill="#ffffff"/><rect x="433.12" y="519.87" width="2.97" height="3.37" fill="#e9f0f5"/><rect x="436.03" y="519.87" width="2.97" height="3.37" fill="#ffffff"/><rect x="438.94" y="519.87" width="2.97" height="3.37" fill="#1d4a6b"/><rect x="441.86" y="519.87" width="2.97" height="3.37" fill="#e9f0f5"/><rect x="444.77" y="519.87" width="2.97" height="3.37" fill="#1d4a6b"/><rect x="447.68" y="519.87" width="2.97" height="3.37" fill="#1d4a6b"/><rect x="450.59" y="519.87" width="2.97" height="3.37" fill="#e8735e"/><rect x="427.30" y="523.18" width="2.97" height="3.37" fill="#1d4a6b"/><rect x="430.21" y="523.18" width="2.97" height="3.37" fill="#5e86a3"/><rect x="433.12" y="523.18" width="2.97" height="3.37" fill="#cddbe6"/><rect x="436.03" y="523.18" width="2.97" height="3.37" fill="#e9f0f5"/><rect x="438.94" y="523.18" width="2.97" height="3.37" fill="#9fbbcf"/><rect x="441.86" y="523.18" width="2.97" height="3.37" fill="#f0a797"/><rect x="444.77" y="523.18" width="2.97" height="3.37" fill="#1d4a6b"/><rect x="447.68" y="523.18" width="2.97" height="3.37" fill="#1d4a6b"/><rect x="450.59" y="523.18" width="2.97" height="3.37" fill="#e8735e"/><rect x="427.30" y="526.49" width="2.97" height="3.37" fill="#f0a797"/><rect x="430.21" y="526.49" width="2.97" height="3.37" fill="#e8735e"/><rect x="433.12" y="526.49" width="2.97" height="3.37" fill="#ffffff"/><rect x="436.03" y="526.49" width="2.97" height="3.37" fill="#1d4a6b"/><rect x="438.94" y="526.49" width="2.97" height="3.37" fill="#ffffff"/><rect x="441.86" y="526.49" width="2.97" height="3.37" fill="#ffffff"/><rect x="444.77" y="526.49" width="2.97" height="3.37" fill="#e8735e"/><rect x="447.68" y="526.49" width="2.97" height="3.37" fill="#e8735e"/><rect x="450.59" y="526.49" width="2.97" height="3.37" fill="#1d4a6b"/><rect x="427.3" y="500" width="26.2" height="29.8" fill="none" stroke="#444" stroke-width="0.8"/></g>
<g transform="matrix(1,0.5725,0,1,0,-354.103)"><rect x="618.50" y="500.00" width="2.97" height="3.37" fill="#1d4a6b"/><rect x="621.41" y="500.00" width="2.97" height="3.37" fill="#5e86a3"/><rect x="624.32" y="500.00" width="2.97" height="3.37" fill="#f0a797"/><rect x="627.23" y="500.00" width="2.97" height="3.37" fill="#e9f0f5"/><rect x="630.14" y="500.00" width="2.97" height="3.37" fill="#ffffff"/><rect x="633.06" y="500.00" width="2.97" height="3.37" fill="#e8735e"/><rect x="635.97" y="500.00" width="2.97" height="3.37" fill="#cddbe6"/><rect x="638.88" y="500.00" width="2.97" height="3.37" fill="#ffffff"/><rect x="641.79" y="500.00" width="2.97" height="3.37" fill="#f0a797"/><rect x="618.50" y="503.31" width="2.97" height="3.37" fill="#5e86a3"/><rect x="621.41" y="503.31" width="2.97" height="3.37" fill="#1d4a6b"/><rect x="624.32" y="503.31" width="2.97" height="3.37" fill="#ffffff"/><rect x="627.23" y="503.31" width="2.97" height="3.37" fill="#ffffff"/><rect x="630.14" y="503.31" width="2.97" height="3.37" fill="#e8735e"/><rect x="633.06" y="503.31" width="2.97" height="3.37" fill="#f7d2ca"/><rect x="635.97" y="503.31" width="2.97" height="3.37" fill="#ffffff"/><rect x="638.88" y="503.31" width="2.97" height="3.37" fill="#9fbbcf"/><rect x="641.79" y="503.31" width="2.97" height="3.37" fill="#ffffff"/><rect x="618.50" y="506.62" width="2.97" height="3.37" fill="#f0a797"/><rect x="621.41" y="506.62" width="2.97" height="3.37" fill="#ffffff"/><rect x="624.32" y="506.62" width="2.97" height="3.37" fill="#1d4a6b"/><rect x="627.23" y="506.62" width="2.97" height="3.37" fill="#e9f0f5"/><rect x="630.14" y="506.62" width="2.97" height="3.37" fill="#cddbe6"/><rect x="633.06" y="506.62" width="2.97" height="3.37" fill="#1d4a6b"/><rect x="635.97" y="506.62" width="2.97" height="3.37" fill="#ffffff"/><rect x="638.88" y="506.62" width="2.97" height="3.37" fill="#9fbbcf"/><rect x="641.79" y="506.62" width="2.97" height="3.37" fill="#e9f0f5"/><rect x="618.50" y="509.93" width="2.97" height="3.37" fill="#e9f0f5"/><rect x="621.41" y="509.93" width="2.97" height="3.37" fill="#ffffff"/><rect x="624.32" y="509.93" width="2.97" height="3.37" fill="#e9f0f5"/><rect x="627.23" y="509.93" width="2.97" height="3.37" fill="#1d4a6b"/><rect x="630.14" y="509.93" width="2.97" height="3.37" fill="#ffffff"/><rect x="633.06" y="509.93" width="2.97" height="3.37" fill="#e9f0f5"/><rect x="635.97" y="509.93" width="2.97" height="3.37" fill="#cddbe6"/><rect x="638.88" y="509.93" width="2.97" height="3.37" fill="#ffffff"/><rect x="641.79" y="509.93" width="2.97" height="3.37" fill="#e9f0f5"/><rect x="618.50" y="513.24" width="2.97" height="3.37" fill="#ffffff"/><rect x="621.41" y="513.24" width="2.97" height="3.37" fill="#e8735e"/><rect x="624.32" y="513.24" width="2.97" height="3.37" fill="#cddbe6"/><rect x="627.23" y="513.24" width="2.97" height="3.37" fill="#ffffff"/><rect x="630.14" y="513.24" width="2.97" height="3.37" fill="#1d4a6b"/><rect x="633.06" y="513.24" width="2.97" height="3.37" fill="#f7d2ca"/><rect x="635.97" y="513.24" width="2.97" height="3.37" fill="#ffffff"/><rect x="638.88" y="513.24" width="2.97" height="3.37" fill="#e8735e"/><rect x="641.79" y="513.24" width="2.97" height="3.37" fill="#e8735e"/><rect x="618.50" y="516.56" width="2.97" height="3.37" fill="#e8735e"/><rect x="621.41" y="516.56" width="2.97" height="3.37" fill="#f7d2ca"/><rect x="624.32" y="516.56" width="2.97" height="3.37" fill="#1d4a6b"/><rect x="627.23" y="516.56" width="2.97" height="3.37" fill="#e9f0f5"/><rect x="630.14" y="516.56" width="2.97" height="3.37" fill="#f7d2ca"/><rect x="633.06" y="516.56" width="2.97" height="3.37" fill="#1d4a6b"/><rect x="635.97" y="516.56" width="2.97" height="3.37" fill="#ffffff"/><rect x="638.88" y="516.56" width="2.97" height="3.37" fill="#cddbe6"/><rect x="641.79" y="516.56" width="2.97" height="3.37" fill="#9fbbcf"/><rect x="618.50" y="519.87" width="2.97" height="3.37" fill="#cddbe6"/><rect x="621.41" y="519.87" width="2.97" height="3.37" fill="#ffffff"/><rect x="624.32" y="519.87" width="2.97" height="3.37" fill="#ffffff"/><rect x="627.23" y="519.87" width="2.97" height="3.37" fill="#cddbe6"/><rect x="630.14" y="519.87" width="2.97" height="3.37" fill="#ffffff"/><rect x="633.06" y="519.87" width="2.97" height="3.37" fill="#ffffff"/><rect x="635.97" y="519.87" width="2.97" height="3.37" fill="#1d4a6b"/><rect x="638.88" y="519.87" width="2.97" height="3.37" fill="#f0a797"/><rect x="641.79" y="519.87" width="2.97" height="3.37" fill="#f7d2ca"/><rect x="618.50" y="523.18" width="2.97" height="3.37" fill="#ffffff"/><rect x="621.41" y="523.18" width="2.97" height="3.37" fill="#9fbbcf"/><rect x="624.32" y="523.18" width="2.97" height="3.37" fill="#9fbbcf"/><rect x="627.23" y="523.18" width="2.97" height="3.37" fill="#ffffff"/><rect x="630.14" y="523.18" width="2.97" height="3.37" fill="#e8735e"/><rect x="633.06" y="523.18" width="2.97" height="3.37" fill="#cddbe6"/><rect x="635.97" y="523.18" width="2.97" height="3.37" fill="#f0a797"/><rect x="638.88" y="523.18" width="2.97" height="3.37" fill="#1d4a6b"/><rect x="641.79" y="523.18" width="2.97" height="3.37" fill="#ffffff"/><rect x="618.50" y="526.49" width="2.97" height="3.37" fill="#f0a797"/><rect x="621.41" y="526.49" width="2.97" height="3.37" fill="#ffffff"/><rect x="624.32" y="526.49" width="2.97" height="3.37" fill="#e9f0f5"/><rect x="627.23" y="526.49" width="2.97" height="3.37" fill="#e9f0f5"/><rect x="630.14" y="526.49" width="2.97" height="3.37" fill="#e8735e"/><rect x="633.06" y="526.49" width="2.97" height="3.37" fill="#9fbbcf"/><rect x="635.97" y="526.49" width="2.97" height="3.37" fill="#f7d2ca"/><rect x="638.88" y="526.49" width="2.97" height="3.37" fill="#ffffff"/><rect x="641.79" y="526.49" width="2.97" height="3.37" fill="#1d4a6b"/><rect x="618.5" y="500" width="26.2" height="29.8" fill="none" stroke="#444" stroke-width="0.8"/></g>
<g transform="matrix(1,0.5725,0,1,0,-349.294)"><rect x="610.10" y="500.00" width="2.97" height="3.37" fill="#1d4a6b"/><rect x="613.01" y="500.00" width="2.97" height="3.37" fill="#e9f0f5"/><rect x="615.92" y="500.00" width="2.97" height="3.37" fill="#cddbe6"/><rect x="618.83" y="500.00" width="2.97" height="3.37" fill="#ffffff"/><rect x="621.74" y="500.00" width="2.97" height="3.37" fill="#ffffff"/><rect x="624.66" y="500.00" width="2.97" height="3.37" fill="#ffffff"/><rect x="627.57" y="500.00" width="2.97" height="3.37" fill="#ffffff"/><rect x="630.48" y="500.00" width="2.97" height="3.37" fill="#ffffff"/><rect x="633.39" y="500.00" width="2.97" height="3.37" fill="#cddbe6"/><rect x="610.10" y="503.31" width="2.97" height="3.37" fill="#e9f0f5"/><rect x="613.01" y="503.31" width="2.97" height="3.37" fill="#1d4a6b"/><rect x="615.92" y="503.31" width="2.97" height="3.37" fill="#cddbe6"/><rect x="618.83" y="503.31" width="2.97" height="3.37" fill="#e8735e"/><rect x="621.74" y="503.31" width="2.97" height="3.37" fill="#f0a797"/><rect x="624.66" y="503.31" width="2.97" height="3.37" fill="#f0a797"/><rect x="627.57" y="503.31" width="2.97" height="3.37" fill="#1d4a6b"/><rect x="630.48" y="503.31" width="2.97" height="3.37" fill="#5e86a3"/><rect x="633.39" y="503.31" width="2.97" height="3.37" fill="#cddbe6"/><rect x="610.10" y="506.62" width="2.97" height="3.37" fill="#cddbe6"/><rect x="613.01" y="506.62" width="2.97" height="3.37" fill="#cddbe6"/><rect x="615.92" y="506.62" width="2.97" height="3.37" fill="#1d4a6b"/><rect x="618.83" y="506.62" width="2.97" height="3.37" fill="#e9f0f5"/><rect x="621.74" y="506.62" width="2.97" height="3.37" fill="#ffffff"/><rect x="624.66" y="506.62" width="2.97" height="3.37" fill="#5e86a3"/><rect x="627.57" y="506.62" width="2.97" height="3.37" fill="#ffffff"/><rect x="630.48" y="506.62" width="2.97" height="3.37" fill="#5e86a3"/><rect x="633.39" y="506.62" width="2.97" height="3.37" fill="#5e86a3"/><rect x="610.10" y="509.93" width="2.97" height="3.37" fill="#ffffff"/><rect x="613.01" y="509.93" width="2.97" height="3.37" fill="#e8735e"/><rect x="615.92" y="509.93" width="2.97" height="3.37" fill="#e9f0f5"/><rect x="618.83" y="509.93" width="2.97" height="3.37" fill="#1d4a6b"/><rect x="621.74" y="509.93" width="2.97" height="3.37" fill="#ffffff"/><rect x="624.66" y="509.93" width="2.97" height="3.37" fill="#ffffff"/><rect x="627.57" y="509.93" width="2.97" height="3.37" fill="#ffffff"/><rect x="630.48" y="509.93" width="2.97" height="3.37" fill="#e9f0f5"/><rect x="633.39" y="509.93" width="2.97" height="3.37" fill="#ffffff"/><rect x="610.10" y="513.24" width="2.97" height="3.37" fill="#ffffff"/><rect x="613.01" y="513.24" width="2.97" height="3.37" fill="#f0a797"/><rect x="615.92" y="513.24" width="2.97" height="3.37" fill="#ffffff"/><rect x="618.83" y="513.24" width="2.97" height="3.37" fill="#ffffff"/><rect x="621.74" y="513.24" width="2.97" height="3.37" fill="#1d4a6b"/><rect x="624.66" y="513.24" width="2.97" height="3.37" fill="#cddbe6"/><rect x="627.57" y="513.24" width="2.97" height="3.37" fill="#e9f0f5"/><rect x="630.48" y="513.24" width="2.97" height="3.37" fill="#ffffff"/><rect x="633.39" y="513.24" width="2.97" height="3.37" fill="#f7d2ca"/><rect x="610.10" y="516.56" width="2.97" height="3.37" fill="#ffffff"/><rect x="613.01" y="516.56" width="2.97" height="3.37" fill="#f0a797"/><rect x="615.92" y="516.56" width="2.97" height="3.37" fill="#5e86a3"/><rect x="618.83" y="516.56" width="2.97" height="3.37" fill="#ffffff"/><rect x="621.74" y="516.56" width="2.97" height="3.37" fill="#cddbe6"/><rect x="624.66" y="516.56" width="2.97" height="3.37" fill="#1d4a6b"/><rect x="627.57" y="516.56" width="2.97" height="3.37" fill="#5e86a3"/><rect x="630.48" y="516.56" width="2.97" height="3.37" fill="#9fbbcf"/><rect x="633.39" y="516.56" width="2.97" height="3.37" fill="#f7d2ca"/><rect x="610.10" y="519.87" width="2.97" height="3.37" fill="#ffffff"/><rect x="613.01" y="519.87" width="2.97" height="3.37" fill="#1d4a6b"/><rect x="615.92" y="519.87" width="2.97" height="3.37" fill="#ffffff"/><rect x="618.83" y="519.87" width="2.97" height="3.37" fill="#ffffff"/><rect x="621.74" y="519.87" width="2.97" height="3.37" fill="#e9f0f5"/><rect x="624.66" y="519.87" width="2.97" height="3.37" fill="#5e86a3"/><rect x="627.57" y="519.87" width="2.97" height="3.37" fill="#1d4a6b"/><rect x="630.48" y="519.87" width="2.97" height="3.37" fill="#ffffff"/><rect x="633.39" y="519.87" width="2.97" height="3.37" fill="#ffffff"/><rect x="610.10" y="523.18" width="2.97" height="3.37" fill="#ffffff"/><rect x="613.01" y="523.18" width="2.97" height="3.37" fill="#5e86a3"/><rect x="615.92" y="523.18" width="2.97" height="3.37" fill="#5e86a3"/><rect x="618.83" y="523.18" width="2.97" height="3.37" fill="#e9f0f5"/><rect x="621.74" y="523.18" width="2.97" height="3.37" fill="#ffffff"/><rect x="624.66" y="523.18" width="2.97" height="3.37" fill="#9fbbcf"/><rect x="627.57" y="523.18" width="2.97" height="3.37" fill="#ffffff"/><rect x="630.48" y="523.18" width="2.97" height="3.37" fill="#1d4a6b"/><rect x="633.39" y="523.18" width="2.97" height="3.37" fill="#cddbe6"/><rect x="610.10" y="526.49" width="2.97" height="3.37" fill="#cddbe6"/><rect x="613.01" y="526.49" width="2.97" height="3.37" fill="#cddbe6"/><rect x="615.92" y="526.49" width="2.97" height="3.37" fill="#5e86a3"/><rect x="618.83" y="526.49" width="2.97" height="3.37" fill="#ffffff"/><rect x="621.74" y="526.49" width="2.97" height="3.37" fill="#f7d2ca"/><rect x="624.66" y="526.49" width="2.97" height="3.37" fill="#f7d2ca"/><rect x="627.57" y="526.49" width="2.97" height="3.37" fill="#ffffff"/><rect x="630.48" y="526.49" width="2.97" height="3.37" fill="#cddbe6"/><rect x="633.39" y="526.49" width="2.97" height="3.37" fill="#1d4a6b"/><rect x="610.1" y="500" width="26.2" height="29.8" fill="none" stroke="#444" stroke-width="0.8"/></g>
<g transform="matrix(1,0.5725,0,1,0,-344.027)"><rect x="600.90" y="500.00" width="2.97" height="3.37" fill="#1d4a6b"/><rect x="603.81" y="500.00" width="2.97" height="3.37" fill="#e9f0f5"/><rect x="606.72" y="500.00" width="2.97" height="3.37" fill="#cddbe6"/><rect x="609.63" y="500.00" width="2.97" height="3.37" fill="#f7d2ca"/><rect x="612.54" y="500.00" width="2.97" height="3.37" fill="#e9f0f5"/><rect x="615.46" y="500.00" width="2.97" height="3.37" fill="#ffffff"/><rect x="618.37" y="500.00" width="2.97" height="3.37" fill="#e8735e"/><rect x="621.28" y="500.00" width="2.97" height="3.37" fill="#e9f0f5"/><rect x="624.19" y="500.00" width="2.97" height="3.37" fill="#ffffff"/><rect x="600.90" y="503.31" width="2.97" height="3.37" fill="#e9f0f5"/><rect x="603.81" y="503.31" width="2.97" height="3.37" fill="#1d4a6b"/><rect x="606.72" y="503.31" width="2.97" height="3.37" fill="#ffffff"/><rect x="609.63" y="503.31" width="2.97" height="3.37" fill="#f0a797"/><rect x="612.54" y="503.31" width="2.97" height="3.37" fill="#e9f0f5"/><rect x="615.46" y="503.31" width="2.97" height="3.37" fill="#e9f0f5"/><rect x="618.37" y="503.31" width="2.97" height="3.37" fill="#5e86a3"/><rect x="621.28" y="503.31" width="2.97" height="3.37" fill="#f0a797"/><rect x="624.19" y="503.31" width="2.97" height="3.37" fill="#5e86a3"/><rect x="600.90" y="506.62" width="2.97" height="3.37" fill="#cddbe6"/><rect x="603.81" y="506.62" width="2.97" height="3.37" fill="#ffffff"/><rect x="606.72" y="506.62" width="2.97" height="3.37" fill="#1d4a6b"/><rect x="609.63" y="506.62" width="2.97" height="3.37" fill="#5e86a3"/><rect x="612.54" y="506.62" width="2.97" height="3.37" fill="#ffffff"/><rect x="615.46" y="506.62" width="2.97" height="3.37" fill="#ffffff"/><rect x="618.37" y="506.62" width="2.97" height="3.37" fill="#ffffff"/><rect x="621.28" y="506.62" width="2.97" height="3.37" fill="#e9f0f5"/><rect x="624.19" y="506.62" width="2.97" height="3.37" fill="#f7d2ca"/><rect x="600.90" y="509.93" width="2.97" height="3.37" fill="#f7d2ca"/><rect x="603.81" y="509.93" width="2.97" height="3.37" fill="#f0a797"/><rect x="606.72" y="509.93" width="2.97" height="3.37" fill="#5e86a3"/><rect x="609.63" y="509.93" width="2.97" height="3.37" fill="#1d4a6b"/><rect x="612.54" y="509.93" width="2.97" height="3.37" fill="#5e86a3"/><rect x="615.46" y="509.93" width="2.97" height="3.37" fill="#cddbe6"/><rect x="618.37" y="509.93" width="2.97" height="3.37" fill="#ffffff"/><rect x="621.28" y="509.93" width="2.97" height="3.37" fill="#5e86a3"/><rect x="624.19" y="509.93" width="2.97" height="3.37" fill="#e9f0f5"/><rect x="600.90" y="513.24" width="2.97" height="3.37" fill="#e9f0f5"/><rect x="603.81" y="513.24" width="2.97" height="3.37" fill="#e9f0f5"/><rect x="606.72" y="513.24" width="2.97" height="3.37" fill="#ffffff"/><rect x="609.63" y="513.24" width="2.97" height="3.37" fill="#5e86a3"/><rect x="612.54" y="513.24" width="2.97" height="3.37" fill="#1d4a6b"/><rect x="615.46" y="513.24" width="2.97" height="3.37" fill="#ffffff"/><rect x="618.37" y="513.24" width="2.97" height="3.37" fill="#ffffff"/><rect x="621.28" y="513.24" width="2.97" height="3.37" fill="#cddbe6"/><rect x="624.19" y="513.24" width="2.97" height="3.37" fill="#9fbbcf"/><rect x="600.90" y="516.56" width="2.97" height="3.37" fill="#ffffff"/><rect x="603.81" y="516.56" width="2.97" height="3.37" fill="#e9f0f5"/><rect x="606.72" y="516.56" width="2.97" height="3.37" fill="#ffffff"/><rect x="609.63" y="516.56" width="2.97" height="3.37" fill="#cddbe6"/><rect x="612.54" y="516.56" width="2.97" height="3.37" fill="#ffffff"/><rect x="615.46" y="516.56" width="2.97" height="3.37" fill="#1d4a6b"/><rect x="618.37" y="516.56" width="2.97" height="3.37" fill="#e9f0f5"/><rect x="621.28" y="516.56" width="2.97" height="3.37" fill="#ffffff"/><rect x="624.19" y="516.56" width="2.97" height="3.37" fill="#e9f0f5"/><rect x="600.90" y="519.87" width="2.97" height="3.37" fill="#e8735e"/><rect x="603.81" y="519.87" width="2.97" height="3.37" fill="#5e86a3"/><rect x="606.72" y="519.87" width="2.97" height="3.37" fill="#ffffff"/><rect x="609.63" y="519.87" width="2.97" height="3.37" fill="#ffffff"/><rect x="612.54" y="519.87" width="2.97" height="3.37" fill="#ffffff"/><rect x="615.46" y="519.87" width="2.97" height="3.37" fill="#e9f0f5"/><rect x="618.37" y="519.87" width="2.97" height="3.37" fill="#1d4a6b"/><rect x="621.28" y="519.87" width="2.97" height="3.37" fill="#9fbbcf"/><rect x="624.19" y="519.87" width="2.97" height="3.37" fill="#ffffff"/><rect x="600.90" y="523.18" width="2.97" height="3.37" fill="#e9f0f5"/><rect x="603.81" y="523.18" width="2.97" height="3.37" fill="#f0a797"/><rect x="606.72" y="523.18" width="2.97" height="3.37" fill="#e9f0f5"/><rect x="609.63" y="523.18" width="2.97" height="3.37" fill="#5e86a3"/><rect x="612.54" y="523.18" width="2.97" height="3.37" fill="#cddbe6"/><rect x="615.46" y="523.18" width="2.97" height="3.37" fill="#ffffff"/><rect x="618.37" y="523.18" width="2.97" height="3.37" fill="#9fbbcf"/><rect x="621.28" y="523.18" width="2.97" height="3.37" fill="#1d4a6b"/><rect x="624.19" y="523.18" width="2.97" height="3.37" fill="#ffffff"/><rect x="600.90" y="526.49" width="2.97" height="3.37" fill="#ffffff"/><rect x="603.81" y="526.49" width="2.97" height="3.37" fill="#5e86a3"/><rect x="606.72" y="526.49" width="2.97" height="3.37" fill="#f7d2ca"/><rect x="609.63" y="526.49" width="2.97" height="3.37" fill="#e9f0f5"/><rect x="612.54" y="526.49" width="2.97" height="3.37" fill="#9fbbcf"/><rect x="615.46" y="526.49" width="2.97" height="3.37" fill="#e9f0f5"/><rect x="618.37" y="526.49" width="2.97" height="3.37" fill="#ffffff"/><rect x="621.28" y="526.49" width="2.97" height="3.37" fill="#ffffff"/><rect x="624.19" y="526.49" width="2.97" height="3.37" fill="#1d4a6b"/><rect x="600.9" y="500" width="26.2" height="29.8" fill="none" stroke="#444" stroke-width="0.8"/></g>
<g transform="matrix(1,0.5725,0,1,0,-339.218)"><rect x="592.50" y="500.00" width="2.97" height="3.37" fill="#1d4a6b"/><rect x="595.41" y="500.00" width="2.97" height="3.37" fill="#f0a797"/><rect x="598.32" y="500.00" width="2.97" height="3.37" fill="#e8735e"/><rect x="601.23" y="500.00" width="2.97" height="3.37" fill="#f0a797"/><rect x="604.14" y="500.00" width="2.97" height="3.37" fill="#e9f0f5"/><rect x="607.06" y="500.00" width="2.97" height="3.37" fill="#f7d2ca"/><rect x="609.97" y="500.00" width="2.97" height="3.37" fill="#e9f0f5"/><rect x="612.88" y="500.00" width="2.97" height="3.37" fill="#e9f0f5"/><rect x="615.79" y="500.00" width="2.97" height="3.37" fill="#e9f0f5"/><rect x="592.50" y="503.31" width="2.97" height="3.37" fill="#f0a797"/><rect x="595.41" y="503.31" width="2.97" height="3.37" fill="#1d4a6b"/><rect x="598.32" y="503.31" width="2.97" height="3.37" fill="#f0a797"/><rect x="601.23" y="503.31" width="2.97" height="3.37" fill="#f0a797"/><rect x="604.14" y="503.31" width="2.97" height="3.37" fill="#cddbe6"/><rect x="607.06" y="503.31" width="2.97" height="3.37" fill="#e9f0f5"/><rect x="609.97" y="503.31" width="2.97" height="3.37" fill="#e9f0f5"/><rect x="612.88" y="503.31" width="2.97" height="3.37" fill="#e9f0f5"/><rect x="615.79" y="503.31" width="2.97" height="3.37" fill="#e9f0f5"/><rect x="592.50" y="506.62" width="2.97" height="3.37" fill="#e8735e"/><rect x="595.41" y="506.62" width="2.97" height="3.37" fill="#f0a797"/><rect x="598.32" y="506.62" width="2.97" height="3.37" fill="#1d4a6b"/><rect x="601.23" y="506.62" width="2.97" height="3.37" fill="#e9f0f5"/><rect x="604.14" y="506.62" width="2.97" height="3.37" fill="#cddbe6"/><rect x="607.06" y="506.62" width="2.97" height="3.37" fill="#ffffff"/><rect x="609.97" y="506.62" width="2.97" height="3.37" fill="#f7d2ca"/><rect x="612.88" y="506.62" width="2.97" height="3.37" fill="#ffffff"/><rect x="615.79" y="506.62" width="2.97" height="3.37" fill="#f7d2ca"/><rect x="592.50" y="509.93" width="2.97" height="3.37" fill="#f0a797"/><rect x="595.41" y="509.93" width="2.97" height="3.37" fill="#f0a797"/><rect x="598.32" y="509.93" width="2.97" height="3.37" fill="#e9f0f5"/><rect x="601.23" y="509.93" width="2.97" height="3.37" fill="#1d4a6b"/><rect x="604.14" y="509.93" width="2.97" height="3.37" fill="#ffffff"/><rect x="607.06" y="509.93" width="2.97" height="3.37" fill="#9fbbcf"/><rect x="609.97" y="509.93" width="2.97" height="3.37" fill="#ffffff"/><rect x="612.88" y="509.93" width="2.97" height="3.37" fill="#f0a797"/><rect x="615.79" y="509.93" width="2.97" height="3.37" fill="#cddbe6"/><rect x="592.50" y="513.24" width="2.97" height="3.37" fill="#e9f0f5"/><rect x="595.41" y="513.24" width="2.97" height="3.37" fill="#cddbe6"/><rect x="598.32" y="513.24" width="2.97" height="3.37" fill="#cddbe6"/><rect x="601.23" y="513.24" width="2.97" height="3.37" fill="#ffffff"/><rect x="604.14" y="513.24" width="2.97" height="3.37" fill="#1d4a6b"/><rect x="607.06" y="513.24" width="2.97" height="3.37" fill="#1d4a6b"/><rect x="609.97" y="513.24" width="2.97" height="3.37" fill="#ffffff"/><rect x="612.88" y="513.24" width="2.97" height="3.37" fill="#ffffff"/><rect x="615.79" y="513.24" width="2.97" height="3.37" fill="#ffffff"/><rect x="592.50" y="516.56" width="2.97" height="3.37" fill="#f7d2ca"/><rect x="595.41" y="516.56" width="2.97" height="3.37" fill="#e9f0f5"/><rect x="598.32" y="516.56" width="2.97" height="3.37" fill="#ffffff"/><rect x="601.23" y="516.56" width="2.97" height="3.37" fill="#9fbbcf"/><rect x="604.14" y="516.56" width="2.97" height="3.37" fill="#1d4a6b"/><rect x="607.06" y="516.56" width="2.97" height="3.37" fill="#1d4a6b"/><rect x="609.97" y="516.56" width="2.97" height="3.37" fill="#e8735e"/><rect x="612.88" y="516.56" width="2.97" height="3.37" fill="#ffffff"/><rect x="615.79" y="516.56" width="2.97" height="3.37" fill="#f7d2ca"/><rect x="592.50" y="519.87" width="2.97" height="3.37" fill="#e9f0f5"/><rect x="595.41" y="519.87" width="2.97" height="3.37" fill="#e9f0f5"/><rect x="598.32" y="519.87" width="2.97" height="3.37" fill="#f7d2ca"/><rect x="601.23" y="519.87" width="2.97" height="3.37" fill="#ffffff"/><rect x="604.14" y="519.87" width="2.97" height="3.37" fill="#ffffff"/><rect x="607.06" y="519.87" width="2.97" height="3.37" fill="#e8735e"/><rect x="609.97" y="519.87" width="2.97" height="3.37" fill="#1d4a6b"/><rect x="612.88" y="519.87" width="2.97" height="3.37" fill="#5e86a3"/><rect x="615.79" y="519.87" width="2.97" height="3.37" fill="#ffffff"/><rect x="592.50" y="523.18" width="2.97" height="3.37" fill="#e9f0f5"/><rect x="595.41" y="523.18" width="2.97" height="3.37" fill="#e9f0f5"/><rect x="598.32" y="523.18" width="2.97" height="3.37" fill="#ffffff"/><rect x="601.23" y="523.18" width="2.97" height="3.37" fill="#f0a797"/><rect x="604.14" y="523.18" width="2.97" height="3.37" fill="#ffffff"/><rect x="607.06" y="523.18" width="2.97" height="3.37" fill="#ffffff"/><rect x="609.97" y="523.18" width="2.97" height="3.37" fill="#5e86a3"/><rect x="612.88" y="523.18" width="2.97" height="3.37" fill="#1d4a6b"/><rect x="615.79" y="523.18" width="2.97" height="3.37" fill="#f7d2ca"/><rect x="592.50" y="526.49" width="2.97" height="3.37" fill="#e9f0f5"/><rect x="595.41" y="526.49" width="2.97" height="3.37" fill="#e9f0f5"/><rect x="598.32" y="526.49" width="2.97" height="3.37" fill="#f7d2ca"/><rect x="601.23" y="526.49" width="2.97" height="3.37" fill="#cddbe6"/><rect x="604.14" y="526.49" width="2.97" height="3.37" fill="#ffffff"/><rect x="607.06" y="526.49" width="2.97" height="3.37" fill="#f7d2ca"/><rect x="609.97" y="526.49" width="2.97" height="3.37" fill="#ffffff"/><rect x="612.88" y="526.49" width="2.97" height="3.37" fill="#f7d2ca"/><rect x="615.79" y="526.49" width="2.97" height="3.37" fill="#1d4a6b"/><rect x="592.5" y="500" width="26.2" height="29.8" fill="none" stroke="#444" stroke-width="0.8"/></g>
<g transform="matrix(1,0.5795,0,1,0,-282.934)"><rect x="488.20" y="500.20" width="2.99" height="3.37" fill="#1d4a6b"/><rect x="491.13" y="500.20" width="2.99" height="3.37" fill="#5e86a3"/><rect x="494.07" y="500.20" width="2.99" height="3.37" fill="#5e86a3"/><rect x="497.00" y="500.20" width="2.99" height="3.37" fill="#ffffff"/><rect x="499.93" y="500.20" width="2.99" height="3.37" fill="#f0a797"/><rect x="502.87" y="500.20" width="2.99" height="3.37" fill="#5e86a3"/><rect x="505.80" y="500.20" width="2.99" height="3.37" fill="#ffffff"/><rect x="508.73" y="500.20" width="2.99" height="3.37" fill="#9fbbcf"/><rect x="511.67" y="500.20" width="2.99" height="3.37" fill="#ffffff"/><rect x="488.20" y="503.51" width="2.99" height="3.37" fill="#5e86a3"/><rect x="491.13" y="503.51" width="2.99" height="3.37" fill="#1d4a6b"/><rect x="494.07" y="503.51" width="2.99" height="3.37" fill="#ffffff"/><rect x="497.00" y="503.51" width="2.99" height="3.37" fill="#cddbe6"/><rect x="499.93" y="503.51" width="2.99" height="3.37" fill="#cddbe6"/><rect x="502.87" y="503.51" width="2.99" height="3.37" fill="#ffffff"/><rect x="505.80" y="503.51" width="2.99" height="3.37" fill="#ffffff"/><rect x="508.73" y="503.51" width="2.99" height="3.37" fill="#ffffff"/><rect x="511.67" y="503.51" width="2.99" height="3.37" fill="#e9f0f5"/><rect x="488.20" y="506.82" width="2.99" height="3.37" fill="#5e86a3"/><rect x="491.13" y="506.82" width="2.99" height="3.37" fill="#ffffff"/><rect x="494.07" y="506.82" width="2.99" height="3.37" fill="#1d4a6b"/><rect x="497.00" y="506.82" width="2.99" height="3.37" fill="#e9f0f5"/><rect x="499.93" y="506.82" width="2.99" height="3.37" fill="#e8735e"/><rect x="502.87" y="506.82" width="2.99" height="3.37" fill="#ffffff"/><rect x="505.80" y="506.82" width="2.99" height="3.37" fill="#ffffff"/><rect x="508.73" y="506.82" width="2.99" height="3.37" fill="#ffffff"/><rect x="511.67" y="506.82" width="2.99" height="3.37" fill="#ffffff"/><rect x="488.20" y="510.13" width="2.99" height="3.37" fill="#ffffff"/><rect x="491.13" y="510.13" width="2.99" height="3.37" fill="#cddbe6"/><rect x="494.07" y="510.13" width="2.99" height="3.37" fill="#e9f0f5"/><rect x="497.00" y="510.13" width="2.99" height="3.37" fill="#1d4a6b"/><rect x="499.93" y="510.13" width="2.99" height="3.37" fill="#ffffff"/><rect x="502.87" y="510.13" width="2.99" height="3.37" fill="#f0a797"/><rect x="505.80" y="510.13" width="2.99" height="3.37" fill="#e9f0f5"/><rect x="508.73" y="510.13" width="2.99" height="3.37" fill="#f7d2ca"/><rect x="511.67" y="510.13" width="2.99" height="3.37" fill="#ffffff"/><rect x="488.20" y="513.44" width="2.99" height="3.37" fill="#f0a797"/><rect x="491.13" y="513.44" width="2.99" height="3.37" fill="#cddbe6"/><rect x="494.07" y="513.44" width="2.99" height="3.37" fill="#e8735e"/><rect x="497.00" y="513.44" width="2.99" height="3.37" fill="#ffffff"/><rect x="499.93" y="513.44" width="2.99" height="3.37" fill="#1d4a6b"/><rect x="502.87" y="513.44" width="2.99" height="3.37" fill="#f7d2ca"/><rect x="505.80" y="513.44" width="2.99" height="3.37" fill="#f7d2ca"/><rect x="508.73" y="513.44" width="2.99" height="3.37" fill="#f7d2ca"/><rect x="511.67" y="513.44" width="2.99" height="3.37" fill="#f0a797"/><rect x="488.20" y="516.76" width="2.99" height="3.37" fill="#5e86a3"/><rect x="491.13" y="516.76" width="2.99" height="3.37" fill="#ffffff"/><rect x="494.07" y="516.76" width="2.99" height="3.37" fill="#ffffff"/><rect x="497.00" y="516.76" width="2.99" height="3.37" fill="#f0a797"/><rect x="499.93" y="516.76" width="2.99" height="3.37" fill="#f7d2ca"/><rect x="502.87" y="516.76" width="2.99" height="3.37" fill="#1d4a6b"/><rect x="505.80" y="516.76" width="2.99" height="3.37" fill="#e8735e"/><rect x="508.73" y="516.76" width="2.99" height="3.37" fill="#ffffff"/><rect x="511.67" y="516.76" width="2.99" height="3.37" fill="#ffffff"/><rect x="488.20" y="520.07" width="2.99" height="3.37" fill="#ffffff"/><rect x="491.13" y="520.07" width="2.99" height="3.37" fill="#ffffff"/><rect x="494.07" y="520.07" width="2.99" height="3.37" fill="#ffffff"/><rect x="497.00" y="520.07" width="2.99" height="3.37" fill="#e9f0f5"/><rect x="499.93" y="520.07" width="2.99" height="3.37" fill="#f7d2ca"/><rect x="502.87" y="520.07" width="2.99" height="3.37" fill="#e8735e"/><rect x="505.80" y="520.07" width="2.99" height="3.37" fill="#1d4a6b"/><rect x="508.73" y="520.07" width="2.99" height="3.37" fill="#ffffff"/><rect x="511.67" y="520.07" width="2.99" height="3.37" fill="#f7d2ca"/><rect x="488.20" y="523.38" width="2.99" height="3.37" fill="#9fbbcf"/><rect x="491.13" y="523.38" width="2.99" height="3.37" fill="#ffffff"/><rect x="494.07" y="523.38" width="2.99" height="3.37" fill="#ffffff"/><rect x="497.00" y="523.38" width="2.99" height="3.37" fill="#f7d2ca"/><rect x="499.93" y="523.38" width="2.99" height="3.37" fill="#f7d2ca"/><rect x="502.87" y="523.38" width="2.99" height="3.37" fill="#ffffff"/><rect x="505.80" y="523.38" width="2.99" height="3.37" fill="#ffffff"/><rect x="508.73" y="523.38" width="2.99" height="3.37" fill="#1d4a6b"/><rect x="511.67" y="523.38" width="2.99" height="3.37" fill="#e9f0f5"/><rect x="488.20" y="526.69" width="2.99" height="3.37" fill="#ffffff"/><rect x="491.13" y="526.69" width="2.99" height="3.37" fill="#e9f0f5"/><rect x="494.07" y="526.69" width="2.99" height="3.37" fill="#ffffff"/><rect x="497.00" y="526.69" width="2.99" height="3.37" fill="#ffffff"/><rect x="499.93" y="526.69" width="2.99" height="3.37" fill="#f0a797"/><rect x="502.87" y="526.69" width="2.99" height="3.37" fill="#ffffff"/><rect x="505.80" y="526.69" width="2.99" height="3.37" fill="#f7d2ca"/><rect x="508.73" y="526.69" width="2.99" height="3.37" fill="#e9f0f5"/><rect x="511.67" y="526.69" width="2.99" height="3.37" fill="#1d4a6b"/><rect x="488.2" y="500.2" width="26.4" height="29.8" fill="none" stroke="#444" stroke-width="0.8"/></g>
<g transform="matrix(1,0.5795,0,1,0,-381.283)"><rect x="657.90" y="500.20" width="2.99" height="3.37" fill="#1d4a6b"/><rect x="660.83" y="500.20" width="2.99" height="3.37" fill="#e9f0f5"/><rect x="663.77" y="500.20" width="2.99" height="3.37" fill="#9fbbcf"/><rect x="666.70" y="500.20" width="2.99" height="3.37" fill="#ffffff"/><rect x="669.63" y="500.20" width="2.99" height="3.37" fill="#e8735e"/><rect x="672.57" y="500.20" width="2.99" height="3.37" fill="#e9f0f5"/><rect x="675.50" y="500.20" width="2.99" height="3.37" fill="#9fbbcf"/><rect x="678.43" y="500.20" width="2.99" height="3.37" fill="#cddbe6"/><rect x="681.37" y="500.20" width="2.99" height="3.37" fill="#e9f0f5"/><rect x="657.90" y="503.51" width="2.99" height="3.37" fill="#e9f0f5"/><rect x="660.83" y="503.51" width="2.99" height="3.37" fill="#1d4a6b"/><rect x="663.77" y="503.51" width="2.99" height="3.37" fill="#e9f0f5"/><rect x="666.70" y="503.51" width="2.99" height="3.37" fill="#e8735e"/><rect x="669.63" y="503.51" width="2.99" height="3.37" fill="#5e86a3"/><rect x="672.57" y="503.51" width="2.99" height="3.37" fill="#e9f0f5"/><rect x="675.50" y="503.51" width="2.99" height="3.37" fill="#9fbbcf"/><rect x="678.43" y="503.51" width="2.99" height="3.37" fill="#ffffff"/><rect x="681.37" y="503.51" width="2.99" height="3.37" fill="#f7d2ca"/><rect x="657.90" y="506.82" width="2.99" height="3.37" fill="#9fbbcf"/><rect x="660.83" y="506.82" width="2.99" height="3.37" fill="#e9f0f5"/><rect x="663.77" y="506.82" width="2.99" height="3.37" fill="#1d4a6b"/><rect x="666.70" y="506.82" width="2.99" height="3.37" fill="#cddbe6"/><rect x="669.63" y="506.82" width="2.99" height="3.37" fill="#5e86a3"/><rect x="672.57" y="506.82" width="2.99" height="3.37" fill="#ffffff"/><rect x="675.50" y="506.82" width="2.99" height="3.37" fill="#ffffff"/><rect x="678.43" y="506.82" width="2.99" height="3.37" fill="#f0a797"/><rect x="681.37" y="506.82" width="2.99" height="3.37" fill="#1d4a6b"/><rect x="657.90" y="510.13" width="2.99" height="3.37" fill="#ffffff"/><rect x="660.83" y="510.13" width="2.99" height="3.37" fill="#e8735e"/><rect x="663.77" y="510.13" width="2.99" height="3.37" fill="#cddbe6"/><rect x="666.70" y="510.13" width="2.99" height="3.37" fill="#1d4a6b"/><rect x="669.63" y="510.13" width="2.99" height="3.37" fill="#9fbbcf"/><rect x="672.57" y="510.13" width="2.99" height="3.37" fill="#cddbe6"/><rect x="675.50" y="510.13" width="2.99" height="3.37" fill="#cddbe6"/><rect x="678.43" y="510.13" width="2.99" height="3.37" fill="#cddbe6"/><rect x="681.37" y="510.13" width="2.99" height="3.37" fill="#ffffff"/><rect x="657.90" y="513.44" width="2.99" height="3.37" fill="#e8735e"/><rect x="660.83" y="513.44" width="2.99" height="3.37" fill="#5e86a3"/><rect x="663.77" y="513.44" width="2.99" height="3.37" fill="#5e86a3"/><rect x="666.70" y="513.44" width="2.99" height="3.37" fill="#9fbbcf"/><rect x="669.63" y="513.44" width="2.99" height="3.37" fill="#1d4a6b"/><rect x="672.57" y="513.44" width="2.99" height="3.37" fill="#ffffff"/><rect x="675.50" y="513.44" width="2.99" height="3.37" fill="#cddbe6"/><rect x="678.43" y="513.44" width="2.99" height="3.37" fill="#cddbe6"/><rect x="681.37" y="513.44" width="2.99" height="3.37" fill="#cddbe6"/><rect x="657.90" y="516.76" width="2.99" height="3.37" fill="#e9f0f5"/><rect x="660.83" y="516.76" width="2.99" height="3.37" fill="#e9f0f5"/><rect x="663.77" y="516.76" width="2.99" height="3.37" fill="#ffffff"/><rect x="666.70" y="516.76" width="2.99" height="3.37" fill="#cddbe6"/><rect x="669.63" y="516.76" width="2.99" height="3.37" fill="#ffffff"/><rect x="672.57" y="516.76" width="2.99" height="3.37" fill="#1d4a6b"/><rect x="675.50" y="516.76" width="2.99" height="3.37" fill="#9fbbcf"/><rect x="678.43" y="516.76" width="2.99" height="3.37" fill="#ffffff"/><rect x="681.37" y="516.76" width="2.99" height="3.37" fill="#e9f0f5"/><rect x="657.90" y="520.07" width="2.99" height="3.37" fill="#9fbbcf"/><rect x="660.83" y="520.07" width="2.99" height="3.37" fill="#9fbbcf"/><rect x="663.77" y="520.07" width="2.99" height="3.37" fill="#ffffff"/><rect x="666.70" y="520.07" width="2.99" height="3.37" fill="#cddbe6"/><rect x="669.63" y="520.07" width="2.99" height="3.37" fill="#cddbe6"/><rect x="672.57" y="520.07" width="2.99" height="3.37" fill="#9fbbcf"/><rect x="675.50" y="520.07" width="2.99" height="3.37" fill="#1d4a6b"/><rect x="678.43" y="520.07" width="2.99" height="3.37" fill="#ffffff"/><rect x="681.37" y="520.07" width="2.99" height="3.37" fill="#f7d2ca"/><rect x="657.90" y="523.38" width="2.99" height="3.37" fill="#cddbe6"/><rect x="660.83" y="523.38" width="2.99" height="3.37" fill="#ffffff"/><rect x="663.77" y="523.38" width="2.99" height="3.37" fill="#f0a797"/><rect x="666.70" y="523.38" width="2.99" height="3.37" fill="#cddbe6"/><rect x="669.63" y="523.38" width="2.99" height="3.37" fill="#cddbe6"/><rect x="672.57" y="523.38" width="2.99" height="3.37" fill="#ffffff"/><rect x="675.50" y="523.38" width="2.99" height="3.37" fill="#ffffff"/><rect x="678.43" y="523.38" width="2.99" height="3.37" fill="#1d4a6b"/><rect x="681.37" y="523.38" width="2.99" height="3.37" fill="#ffffff"/><rect x="657.90" y="526.69" width="2.99" height="3.37" fill="#e9f0f5"/><rect x="660.83" y="526.69" width="2.99" height="3.37" fill="#f7d2ca"/><rect x="663.77" y="526.69" width="2.99" height="3.37" fill="#1d4a6b"/><rect x="666.70" y="526.69" width="2.99" height="3.37" fill="#ffffff"/><rect x="669.63" y="526.69" width="2.99" height="3.37" fill="#cddbe6"/><rect x="672.57" y="526.69" width="2.99" height="3.37" fill="#e9f0f5"/><rect x="675.50" y="526.69" width="2.99" height="3.37" fill="#f7d2ca"/><rect x="678.43" y="526.69" width="2.99" height="3.37" fill="#ffffff"/><rect x="681.37" y="526.69" width="2.99" height="3.37" fill="#1d4a6b"/><rect x="657.9" y="500.2" width="26.4" height="29.8" fill="none" stroke="#444" stroke-width="0.8"/></g>
<circle cx="489.2" cy="541.5" r="0.55" fill="#555"/>
<circle cx="490.9" cy="542.3" r="0.55" fill="#555"/>
<circle cx="492.6" cy="543.1" r="0.55" fill="#555"/>
<circle cx="659.6" cy="541.6" r="0.55" fill="#555"/>
<circle cx="661.3" cy="542.4" r="0.55" fill="#555"/>
<circle cx="663.0" cy="543.2" r="0.55" fill="#555"/></svg></body></html>
